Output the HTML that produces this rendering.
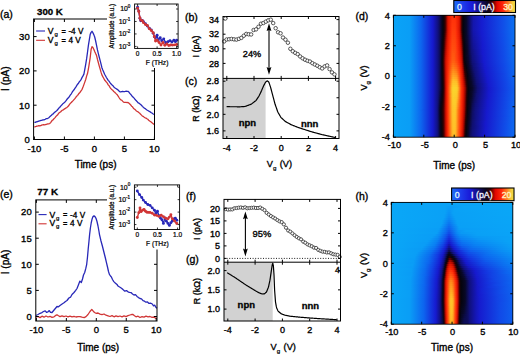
<!DOCTYPE html>
<html><head><meta charset="utf-8"><style>
html,body{margin:0;padding:0;background:#fff;width:520px;height:354px;overflow:hidden}
svg{display:block}
text{font-family:"Liberation Sans", sans-serif}
</style></head><body>
<svg width="520" height="354" viewBox="0 0 520 354" font-family='"Liberation Sans", sans-serif'>
<defs><linearGradient id="g1"><stop offset="0.0000" stop-color="#0aa3f7"/><stop offset="0.1333" stop-color="#0a9ef6"/><stop offset="0.2250" stop-color="#0d67ef"/><stop offset="0.3083" stop-color="#1524d5"/><stop offset="0.3250" stop-color="#1619cc"/><stop offset="0.3667" stop-color="#10107c"/><stop offset="0.3833" stop-color="#0c0c4f"/><stop offset="0.3917" stop-color="#090931"/><stop offset="0.4083" stop-color="#05040f"/><stop offset="0.4250" stop-color="#320000"/><stop offset="0.4333" stop-color="#6c0300"/><stop offset="0.4417" stop-color="#b60b00"/><stop offset="0.4500" stop-color="#e11600"/><stop offset="0.4833" stop-color="#ff310a"/><stop offset="0.5083" stop-color="#ff300a"/><stop offset="0.5333" stop-color="#e71b02"/><stop offset="0.5417" stop-color="#d81400"/><stop offset="0.5500" stop-color="#ad0800"/><stop offset="0.5583" stop-color="#590200"/><stop offset="0.5667" stop-color="#1f0205"/><stop offset="0.5750" stop-color="#05040f"/><stop offset="0.6000" stop-color="#080828"/><stop offset="0.6417" stop-color="#11128b"/><stop offset="0.6583" stop-color="#1416ad"/><stop offset="0.7250" stop-color="#161ccf"/><stop offset="0.9000" stop-color="#114ee8"/><stop offset="0.9917" stop-color="#0c6ef0"/><stop offset="1.0000" stop-color="#0c70f0"/></linearGradient><linearGradient id="g2"><stop offset="0.0000" stop-color="#0aa3f7"/><stop offset="0.1333" stop-color="#0a9ef6"/><stop offset="0.2250" stop-color="#0d67ef"/><stop offset="0.3083" stop-color="#1524d5"/><stop offset="0.3250" stop-color="#1619cc"/><stop offset="0.3667" stop-color="#10107c"/><stop offset="0.3833" stop-color="#0c0c4f"/><stop offset="0.3917" stop-color="#090931"/><stop offset="0.4083" stop-color="#05040f"/><stop offset="0.4250" stop-color="#320000"/><stop offset="0.4333" stop-color="#6c0300"/><stop offset="0.4417" stop-color="#b60b00"/><stop offset="0.4500" stop-color="#e11600"/><stop offset="0.4833" stop-color="#ff320a"/><stop offset="0.5083" stop-color="#ff310a"/><stop offset="0.5333" stop-color="#e71c02"/><stop offset="0.5417" stop-color="#d81400"/><stop offset="0.5500" stop-color="#ad0800"/><stop offset="0.5583" stop-color="#590200"/><stop offset="0.5667" stop-color="#1f0205"/><stop offset="0.5750" stop-color="#05040f"/><stop offset="0.6000" stop-color="#080828"/><stop offset="0.6417" stop-color="#11128b"/><stop offset="0.6583" stop-color="#1416ad"/><stop offset="0.7250" stop-color="#161ccf"/><stop offset="0.9000" stop-color="#114ee8"/><stop offset="0.9917" stop-color="#0c6ef0"/><stop offset="1.0000" stop-color="#0c70f0"/></linearGradient><linearGradient id="g3"><stop offset="0.0000" stop-color="#0aa3f7"/><stop offset="0.1333" stop-color="#0a9ef6"/><stop offset="0.2250" stop-color="#0d67ef"/><stop offset="0.3083" stop-color="#1524d5"/><stop offset="0.3250" stop-color="#1619cc"/><stop offset="0.3667" stop-color="#10107c"/><stop offset="0.3833" stop-color="#0c0c4f"/><stop offset="0.3917" stop-color="#090931"/><stop offset="0.4083" stop-color="#05040f"/><stop offset="0.4250" stop-color="#320000"/><stop offset="0.4333" stop-color="#6c0300"/><stop offset="0.4417" stop-color="#b60b00"/><stop offset="0.4500" stop-color="#e11600"/><stop offset="0.4833" stop-color="#ff340b"/><stop offset="0.5083" stop-color="#ff330a"/><stop offset="0.5333" stop-color="#e81c02"/><stop offset="0.5417" stop-color="#d81400"/><stop offset="0.5500" stop-color="#ad0800"/><stop offset="0.5583" stop-color="#590200"/><stop offset="0.5667" stop-color="#1f0205"/><stop offset="0.5750" stop-color="#05040f"/><stop offset="0.6000" stop-color="#080828"/><stop offset="0.6417" stop-color="#11128b"/><stop offset="0.6583" stop-color="#1416ad"/><stop offset="0.7250" stop-color="#161ccf"/><stop offset="0.9000" stop-color="#114ee8"/><stop offset="0.9917" stop-color="#0c6ef0"/><stop offset="1.0000" stop-color="#0c70f0"/></linearGradient><linearGradient id="g4"><stop offset="0.0000" stop-color="#0aa3f7"/><stop offset="0.1333" stop-color="#0a9ef6"/><stop offset="0.2250" stop-color="#0d67ef"/><stop offset="0.3083" stop-color="#1524d5"/><stop offset="0.3250" stop-color="#1619cc"/><stop offset="0.3667" stop-color="#10107c"/><stop offset="0.3833" stop-color="#0c0c4f"/><stop offset="0.3917" stop-color="#090931"/><stop offset="0.4083" stop-color="#05040f"/><stop offset="0.4250" stop-color="#320000"/><stop offset="0.4333" stop-color="#6c0300"/><stop offset="0.4417" stop-color="#b60b00"/><stop offset="0.4500" stop-color="#e11600"/><stop offset="0.4833" stop-color="#ff350b"/><stop offset="0.5083" stop-color="#ff340b"/><stop offset="0.5333" stop-color="#e81c02"/><stop offset="0.5417" stop-color="#d81400"/><stop offset="0.5500" stop-color="#ad0800"/><stop offset="0.5583" stop-color="#590200"/><stop offset="0.5667" stop-color="#1f0205"/><stop offset="0.5750" stop-color="#05040f"/><stop offset="0.6000" stop-color="#080828"/><stop offset="0.6417" stop-color="#11128b"/><stop offset="0.6583" stop-color="#1416ad"/><stop offset="0.7250" stop-color="#161ccf"/><stop offset="0.9000" stop-color="#114ee8"/><stop offset="0.9917" stop-color="#0c6ef0"/><stop offset="1.0000" stop-color="#0c70f0"/></linearGradient><linearGradient id="g5"><stop offset="0.0000" stop-color="#0aa3f7"/><stop offset="0.1333" stop-color="#0a9ef6"/><stop offset="0.2250" stop-color="#0d67ef"/><stop offset="0.3083" stop-color="#1524d5"/><stop offset="0.3250" stop-color="#1619cc"/><stop offset="0.3667" stop-color="#10107c"/><stop offset="0.3833" stop-color="#0c0c4f"/><stop offset="0.3917" stop-color="#090931"/><stop offset="0.4083" stop-color="#05040f"/><stop offset="0.4250" stop-color="#320000"/><stop offset="0.4333" stop-color="#6c0300"/><stop offset="0.4417" stop-color="#b60b00"/><stop offset="0.4500" stop-color="#e11600"/><stop offset="0.4750" stop-color="#fc2d09"/><stop offset="0.4833" stop-color="#ff370b"/><stop offset="0.5083" stop-color="#ff360b"/><stop offset="0.5333" stop-color="#e81c02"/><stop offset="0.5417" stop-color="#d81400"/><stop offset="0.5500" stop-color="#ad0800"/><stop offset="0.5583" stop-color="#590200"/><stop offset="0.5667" stop-color="#1f0205"/><stop offset="0.5750" stop-color="#05040f"/><stop offset="0.6000" stop-color="#080828"/><stop offset="0.6417" stop-color="#11128b"/><stop offset="0.6583" stop-color="#1416ad"/><stop offset="0.7250" stop-color="#161ccf"/><stop offset="0.9000" stop-color="#114ee8"/><stop offset="0.9917" stop-color="#0c6ef0"/><stop offset="1.0000" stop-color="#0c70f0"/></linearGradient><linearGradient id="g6"><stop offset="0.0000" stop-color="#0aa3f7"/><stop offset="0.1333" stop-color="#0a9ef6"/><stop offset="0.2250" stop-color="#0d67ef"/><stop offset="0.3083" stop-color="#1524d5"/><stop offset="0.3250" stop-color="#1619cc"/><stop offset="0.3667" stop-color="#10107c"/><stop offset="0.3833" stop-color="#0c0c4f"/><stop offset="0.3917" stop-color="#090931"/><stop offset="0.4083" stop-color="#05040f"/><stop offset="0.4250" stop-color="#320000"/><stop offset="0.4333" stop-color="#6c0300"/><stop offset="0.4417" stop-color="#b60b00"/><stop offset="0.4500" stop-color="#e11600"/><stop offset="0.4750" stop-color="#fd2e09"/><stop offset="0.4833" stop-color="#ff390b"/><stop offset="0.5083" stop-color="#ff370b"/><stop offset="0.5333" stop-color="#e81c02"/><stop offset="0.5417" stop-color="#d81400"/><stop offset="0.5500" stop-color="#ad0800"/><stop offset="0.5583" stop-color="#590200"/><stop offset="0.5667" stop-color="#1f0205"/><stop offset="0.5750" stop-color="#05040f"/><stop offset="0.6000" stop-color="#080828"/><stop offset="0.6417" stop-color="#11128b"/><stop offset="0.6583" stop-color="#1416ad"/><stop offset="0.7250" stop-color="#161ccf"/><stop offset="0.9000" stop-color="#114ee8"/><stop offset="0.9917" stop-color="#0c6ef0"/><stop offset="1.0000" stop-color="#0c70f0"/></linearGradient><linearGradient id="g7"><stop offset="0.0000" stop-color="#0aa3f7"/><stop offset="0.1333" stop-color="#0a9ef6"/><stop offset="0.2250" stop-color="#0d67ef"/><stop offset="0.3083" stop-color="#1524d5"/><stop offset="0.3250" stop-color="#1619cc"/><stop offset="0.3667" stop-color="#10107c"/><stop offset="0.3833" stop-color="#0c0c4f"/><stop offset="0.3917" stop-color="#090931"/><stop offset="0.4083" stop-color="#05040f"/><stop offset="0.4250" stop-color="#320000"/><stop offset="0.4333" stop-color="#6c0300"/><stop offset="0.4417" stop-color="#b60b00"/><stop offset="0.4500" stop-color="#e11600"/><stop offset="0.4750" stop-color="#fe2f0a"/><stop offset="0.4833" stop-color="#ff3a0c"/><stop offset="0.5083" stop-color="#ff390b"/><stop offset="0.5250" stop-color="#f22506"/><stop offset="0.5417" stop-color="#d81400"/><stop offset="0.5500" stop-color="#ad0800"/><stop offset="0.5583" stop-color="#590200"/><stop offset="0.5667" stop-color="#1f0205"/><stop offset="0.5750" stop-color="#05040f"/><stop offset="0.6000" stop-color="#080828"/><stop offset="0.6417" stop-color="#11128b"/><stop offset="0.6583" stop-color="#1416ad"/><stop offset="0.7250" stop-color="#161ccf"/><stop offset="0.9000" stop-color="#114ee8"/><stop offset="0.9917" stop-color="#0c6ef0"/><stop offset="1.0000" stop-color="#0c70f0"/></linearGradient><linearGradient id="g8"><stop offset="0.0000" stop-color="#0aa3f7"/><stop offset="0.1333" stop-color="#0a9ef6"/><stop offset="0.2250" stop-color="#0d67ef"/><stop offset="0.3083" stop-color="#1524d5"/><stop offset="0.3250" stop-color="#1619cc"/><stop offset="0.3667" stop-color="#10107c"/><stop offset="0.3833" stop-color="#0c0c4f"/><stop offset="0.3917" stop-color="#090931"/><stop offset="0.4083" stop-color="#05040f"/><stop offset="0.4250" stop-color="#320000"/><stop offset="0.4333" stop-color="#6c0300"/><stop offset="0.4417" stop-color="#b60b00"/><stop offset="0.4500" stop-color="#e11600"/><stop offset="0.4750" stop-color="#fe300a"/><stop offset="0.4833" stop-color="#ff3c0c"/><stop offset="0.5083" stop-color="#ff3b0c"/><stop offset="0.5250" stop-color="#f32506"/><stop offset="0.5417" stop-color="#d81400"/><stop offset="0.5500" stop-color="#ad0800"/><stop offset="0.5583" stop-color="#590200"/><stop offset="0.5667" stop-color="#1f0205"/><stop offset="0.5750" stop-color="#05040f"/><stop offset="0.6000" stop-color="#080828"/><stop offset="0.6417" stop-color="#11128b"/><stop offset="0.6583" stop-color="#1416ad"/><stop offset="0.7250" stop-color="#161ccf"/><stop offset="0.9000" stop-color="#114ee8"/><stop offset="0.9917" stop-color="#0c6ef0"/><stop offset="1.0000" stop-color="#0c70f0"/></linearGradient><linearGradient id="g9"><stop offset="0.0000" stop-color="#0aa3f7"/><stop offset="0.1333" stop-color="#0a9ef6"/><stop offset="0.2250" stop-color="#0d67ef"/><stop offset="0.3083" stop-color="#1524d5"/><stop offset="0.3250" stop-color="#1619cc"/><stop offset="0.3667" stop-color="#10107c"/><stop offset="0.3833" stop-color="#0c0c4f"/><stop offset="0.3917" stop-color="#090931"/><stop offset="0.4083" stop-color="#05040e"/><stop offset="0.4167" stop-color="#1b0206"/><stop offset="0.4250" stop-color="#390000"/><stop offset="0.4333" stop-color="#750300"/><stop offset="0.4417" stop-color="#b90c00"/><stop offset="0.4500" stop-color="#e21700"/><stop offset="0.4750" stop-color="#ff310a"/><stop offset="0.4833" stop-color="#ff3e0c"/><stop offset="0.5083" stop-color="#ff3c0c"/><stop offset="0.5167" stop-color="#fe2f0a"/><stop offset="0.5417" stop-color="#dc1500"/><stop offset="0.5500" stop-color="#b10900"/><stop offset="0.5583" stop-color="#630200"/><stop offset="0.5667" stop-color="#230104"/><stop offset="0.5750" stop-color="#05040c"/><stop offset="0.6000" stop-color="#080827"/><stop offset="0.6417" stop-color="#11128a"/><stop offset="0.6583" stop-color="#1415ab"/><stop offset="0.7250" stop-color="#161bcf"/><stop offset="0.9083" stop-color="#1051e9"/><stop offset="0.9917" stop-color="#0c6ef0"/><stop offset="1.0000" stop-color="#0c6ff0"/></linearGradient><linearGradient id="g10"><stop offset="0.0000" stop-color="#0aa3f7"/><stop offset="0.1333" stop-color="#0a9ef6"/><stop offset="0.2250" stop-color="#0d67ef"/><stop offset="0.3083" stop-color="#1524d5"/><stop offset="0.3250" stop-color="#1619cc"/><stop offset="0.3667" stop-color="#10107c"/><stop offset="0.3833" stop-color="#0c0c4f"/><stop offset="0.3917" stop-color="#090930"/><stop offset="0.4083" stop-color="#05040c"/><stop offset="0.4167" stop-color="#1e0205"/><stop offset="0.4250" stop-color="#420100"/><stop offset="0.4417" stop-color="#be0d00"/><stop offset="0.4500" stop-color="#e31801"/><stop offset="0.4750" stop-color="#ff330a"/><stop offset="0.4833" stop-color="#ff400d"/><stop offset="0.5083" stop-color="#ff3e0c"/><stop offset="0.5167" stop-color="#ff300a"/><stop offset="0.5417" stop-color="#e01600"/><stop offset="0.5500" stop-color="#b60b00"/><stop offset="0.5667" stop-color="#280103"/><stop offset="0.5750" stop-color="#08040b"/><stop offset="0.6000" stop-color="#080826"/><stop offset="0.6417" stop-color="#111288"/><stop offset="0.6583" stop-color="#1315a8"/><stop offset="0.7250" stop-color="#161bce"/><stop offset="0.9000" stop-color="#114de8"/><stop offset="0.9917" stop-color="#0c6df0"/><stop offset="1.0000" stop-color="#0c6ff0"/></linearGradient><linearGradient id="g11"><stop offset="0.0000" stop-color="#0aa3f7"/><stop offset="0.1333" stop-color="#0a9ef6"/><stop offset="0.2250" stop-color="#0d67ef"/><stop offset="0.3083" stop-color="#1524d5"/><stop offset="0.3250" stop-color="#1619cc"/><stop offset="0.3667" stop-color="#10107c"/><stop offset="0.3833" stop-color="#0c0c4f"/><stop offset="0.3917" stop-color="#09092f"/><stop offset="0.4083" stop-color="#08040b"/><stop offset="0.4167" stop-color="#210104"/><stop offset="0.4250" stop-color="#4c0100"/><stop offset="0.4333" stop-color="#8e0400"/><stop offset="0.4417" stop-color="#c20e00"/><stop offset="0.4500" stop-color="#e51901"/><stop offset="0.4750" stop-color="#ff350b"/><stop offset="0.4833" stop-color="#ff420d"/><stop offset="0.5083" stop-color="#ff400d"/><stop offset="0.5167" stop-color="#ff320a"/><stop offset="0.5417" stop-color="#e21700"/><stop offset="0.5500" stop-color="#bb0c00"/><stop offset="0.5583" stop-color="#7f0300"/><stop offset="0.5667" stop-color="#2e0001"/><stop offset="0.5750" stop-color="#0c030a"/><stop offset="0.5917" stop-color="#07061d"/><stop offset="0.6083" stop-color="#090936"/><stop offset="0.6417" stop-color="#111186"/><stop offset="0.6583" stop-color="#1315a5"/><stop offset="0.7333" stop-color="#161dd0"/><stop offset="0.9000" stop-color="#114de8"/><stop offset="0.9917" stop-color="#0c6df0"/><stop offset="1.0000" stop-color="#0c6ff0"/></linearGradient><linearGradient id="g12"><stop offset="0.0000" stop-color="#0aa3f7"/><stop offset="0.1333" stop-color="#0a9ef6"/><stop offset="0.2250" stop-color="#0d67ef"/><stop offset="0.3083" stop-color="#1524d5"/><stop offset="0.3250" stop-color="#1619cc"/><stop offset="0.3667" stop-color="#10107c"/><stop offset="0.3833" stop-color="#0c0c4f"/><stop offset="0.3917" stop-color="#09092e"/><stop offset="0.4083" stop-color="#0a040b"/><stop offset="0.4167" stop-color="#240104"/><stop offset="0.4250" stop-color="#550200"/><stop offset="0.4333" stop-color="#9a0500"/><stop offset="0.4417" stop-color="#c70f00"/><stop offset="0.4500" stop-color="#e61a02"/><stop offset="0.4750" stop-color="#ff370b"/><stop offset="0.4833" stop-color="#ff440d"/><stop offset="0.5083" stop-color="#ff420d"/><stop offset="0.5250" stop-color="#f82a08"/><stop offset="0.5417" stop-color="#e41801"/><stop offset="0.5500" stop-color="#c00d00"/><stop offset="0.5583" stop-color="#8c0400"/><stop offset="0.5667" stop-color="#340000"/><stop offset="0.5750" stop-color="#100309"/><stop offset="0.5833" stop-color="#060513"/><stop offset="0.6083" stop-color="#090934"/><stop offset="0.6417" stop-color="#111184"/><stop offset="0.6583" stop-color="#1314a2"/><stop offset="0.7333" stop-color="#161ccf"/><stop offset="0.9083" stop-color="#104fe9"/><stop offset="0.9917" stop-color="#0c6df0"/><stop offset="1.0000" stop-color="#0c6ef0"/></linearGradient><linearGradient id="g13"><stop offset="0.0000" stop-color="#0aa3f7"/><stop offset="0.1333" stop-color="#0a9ef6"/><stop offset="0.2250" stop-color="#0d67ef"/><stop offset="0.3083" stop-color="#1524d5"/><stop offset="0.3250" stop-color="#1619cc"/><stop offset="0.3667" stop-color="#10107c"/><stop offset="0.3833" stop-color="#0c0c4f"/><stop offset="0.3917" stop-color="#09092d"/><stop offset="0.4000" stop-color="#060618"/><stop offset="0.4083" stop-color="#0d030a"/><stop offset="0.4167" stop-color="#270103"/><stop offset="0.4250" stop-color="#5f0200"/><stop offset="0.4333" stop-color="#a30600"/><stop offset="0.4417" stop-color="#cc1000"/><stop offset="0.4500" stop-color="#e71b02"/><stop offset="0.4667" stop-color="#fc2d09"/><stop offset="0.4833" stop-color="#ff460e"/><stop offset="0.5083" stop-color="#ff440d"/><stop offset="0.5250" stop-color="#fa2c08"/><stop offset="0.5417" stop-color="#e51a01"/><stop offset="0.5500" stop-color="#c60f00"/><stop offset="0.5583" stop-color="#9a0500"/><stop offset="0.5667" stop-color="#3f0100"/><stop offset="0.5750" stop-color="#130308"/><stop offset="0.5833" stop-color="#060512"/><stop offset="0.6083" stop-color="#090932"/><stop offset="0.6417" stop-color="#111182"/><stop offset="0.6583" stop-color="#13149f"/><stop offset="0.7333" stop-color="#161ccf"/><stop offset="0.9083" stop-color="#104fe9"/><stop offset="0.9917" stop-color="#0c6cf0"/><stop offset="1.0000" stop-color="#0c6ef0"/></linearGradient><linearGradient id="g14"><stop offset="0.0000" stop-color="#0aa3f7"/><stop offset="0.1333" stop-color="#0a9ef6"/><stop offset="0.2250" stop-color="#0d67ef"/><stop offset="0.3083" stop-color="#1524d5"/><stop offset="0.3250" stop-color="#1619cc"/><stop offset="0.3667" stop-color="#10107c"/><stop offset="0.3833" stop-color="#0c0c4f"/><stop offset="0.3917" stop-color="#08082c"/><stop offset="0.4000" stop-color="#060617"/><stop offset="0.4083" stop-color="#0f0309"/><stop offset="0.4167" stop-color="#2a0102"/><stop offset="0.4333" stop-color="#a80700"/><stop offset="0.4417" stop-color="#d01200"/><stop offset="0.4500" stop-color="#e91d03"/><stop offset="0.4667" stop-color="#fd2e09"/><stop offset="0.4833" stop-color="#ff480e"/><stop offset="0.5083" stop-color="#ff450d"/><stop offset="0.5250" stop-color="#fb2d09"/><stop offset="0.5417" stop-color="#e71b02"/><stop offset="0.5500" stop-color="#cb1000"/><stop offset="0.5583" stop-color="#a30600"/><stop offset="0.5667" stop-color="#4a0100"/><stop offset="0.5750" stop-color="#170207"/><stop offset="0.5833" stop-color="#050510"/><stop offset="0.6083" stop-color="#090930"/><stop offset="0.6417" stop-color="#111180"/><stop offset="0.6583" stop-color="#13149c"/><stop offset="0.7333" stop-color="#161bcf"/><stop offset="0.9000" stop-color="#114ce8"/><stop offset="0.9917" stop-color="#0c6cf0"/><stop offset="1.0000" stop-color="#0c6df0"/></linearGradient><linearGradient id="g15"><stop offset="0.0000" stop-color="#0aa3f7"/><stop offset="0.1333" stop-color="#0a9ef6"/><stop offset="0.2250" stop-color="#0d67ef"/><stop offset="0.3083" stop-color="#1524d5"/><stop offset="0.3250" stop-color="#1619cc"/><stop offset="0.3667" stop-color="#10107c"/><stop offset="0.3833" stop-color="#0c0c4f"/><stop offset="0.3917" stop-color="#08082b"/><stop offset="0.4000" stop-color="#060516"/><stop offset="0.4083" stop-color="#110309"/><stop offset="0.4167" stop-color="#2d0001"/><stop offset="0.4250" stop-color="#720300"/><stop offset="0.4333" stop-color="#ad0800"/><stop offset="0.4417" stop-color="#d51300"/><stop offset="0.4500" stop-color="#ea1e03"/><stop offset="0.4667" stop-color="#ff300a"/><stop offset="0.4833" stop-color="#ff4a0e"/><stop offset="0.5083" stop-color="#ff470e"/><stop offset="0.5250" stop-color="#fd2e09"/><stop offset="0.5417" stop-color="#e81c02"/><stop offset="0.5500" stop-color="#d01200"/><stop offset="0.5583" stop-color="#a90700"/><stop offset="0.5667" stop-color="#550200"/><stop offset="0.5750" stop-color="#1b0206"/><stop offset="0.5833" stop-color="#05040f"/><stop offset="0.6083" stop-color="#09092d"/><stop offset="0.6417" stop-color="#10117e"/><stop offset="0.6583" stop-color="#121399"/><stop offset="0.7333" stop-color="#161bce"/><stop offset="0.9083" stop-color="#114ee9"/><stop offset="0.9917" stop-color="#0c6cf0"/><stop offset="1.0000" stop-color="#0c6df0"/></linearGradient><linearGradient id="g16"><stop offset="0.0000" stop-color="#0aa3f7"/><stop offset="0.1333" stop-color="#0a9ef6"/><stop offset="0.2250" stop-color="#0d67ef"/><stop offset="0.3083" stop-color="#1524d5"/><stop offset="0.3250" stop-color="#1619cc"/><stop offset="0.3667" stop-color="#10107c"/><stop offset="0.3833" stop-color="#0c0c4f"/><stop offset="0.3917" stop-color="#08082a"/><stop offset="0.4000" stop-color="#060515"/><stop offset="0.4083" stop-color="#140308"/><stop offset="0.4167" stop-color="#300000"/><stop offset="0.4250" stop-color="#7c0300"/><stop offset="0.4333" stop-color="#b20a00"/><stop offset="0.4417" stop-color="#da1400"/><stop offset="0.4583" stop-color="#f62807"/><stop offset="0.4667" stop-color="#ff320a"/><stop offset="0.4833" stop-color="#ff4c0f"/><stop offset="0.5083" stop-color="#ff490e"/><stop offset="0.5250" stop-color="#fe2f0a"/><stop offset="0.5417" stop-color="#ea1d03"/><stop offset="0.5500" stop-color="#d51300"/><stop offset="0.5583" stop-color="#af0900"/><stop offset="0.5667" stop-color="#610200"/><stop offset="0.5750" stop-color="#1f0205"/><stop offset="0.5833" stop-color="#05040e"/><stop offset="0.6083" stop-color="#08082b"/><stop offset="0.6417" stop-color="#10107c"/><stop offset="0.6583" stop-color="#121396"/><stop offset="0.7333" stop-color="#161ace"/><stop offset="0.9000" stop-color="#114be7"/><stop offset="0.9917" stop-color="#0d6bf0"/><stop offset="1.0000" stop-color="#0c6df0"/></linearGradient><linearGradient id="g17"><stop offset="0.0000" stop-color="#0aa3f7"/><stop offset="0.1333" stop-color="#0a9ef6"/><stop offset="0.2250" stop-color="#0d67ef"/><stop offset="0.3083" stop-color="#1524d5"/><stop offset="0.3250" stop-color="#1619cc"/><stop offset="0.3667" stop-color="#10107c"/><stop offset="0.3833" stop-color="#0c0c4f"/><stop offset="0.3917" stop-color="#080829"/><stop offset="0.4000" stop-color="#060513"/><stop offset="0.4083" stop-color="#160207"/><stop offset="0.4167" stop-color="#350000"/><stop offset="0.4250" stop-color="#850400"/><stop offset="0.4333" stop-color="#b70b00"/><stop offset="0.4417" stop-color="#de1500"/><stop offset="0.4667" stop-color="#ff340b"/><stop offset="0.4833" stop-color="#ff4e0f"/><stop offset="0.5083" stop-color="#ff4b0e"/><stop offset="0.5250" stop-color="#ff310a"/><stop offset="0.5417" stop-color="#eb1f03"/><stop offset="0.5500" stop-color="#da1400"/><stop offset="0.5583" stop-color="#b40a00"/><stop offset="0.5750" stop-color="#220104"/><stop offset="0.5833" stop-color="#05040d"/><stop offset="0.6083" stop-color="#080829"/><stop offset="0.6417" stop-color="#10107a"/><stop offset="0.6583" stop-color="#121393"/><stop offset="0.7333" stop-color="#161ace"/><stop offset="0.9083" stop-color="#114de8"/><stop offset="0.9833" stop-color="#0d69f0"/><stop offset="1.0000" stop-color="#0c6cf0"/></linearGradient><linearGradient id="g18"><stop offset="0.0000" stop-color="#0aa3f7"/><stop offset="0.1333" stop-color="#0a9ef6"/><stop offset="0.2250" stop-color="#0d67ef"/><stop offset="0.3083" stop-color="#1524d5"/><stop offset="0.3250" stop-color="#1619cc"/><stop offset="0.3667" stop-color="#10107c"/><stop offset="0.3833" stop-color="#0c0c4f"/><stop offset="0.3917" stop-color="#080829"/><stop offset="0.4000" stop-color="#060512"/><stop offset="0.4083" stop-color="#190207"/><stop offset="0.4167" stop-color="#3b0000"/><stop offset="0.4250" stop-color="#8f0400"/><stop offset="0.4417" stop-color="#e21700"/><stop offset="0.4667" stop-color="#ff360b"/><stop offset="0.4833" stop-color="#ff500f"/><stop offset="0.5083" stop-color="#ff4d0f"/><stop offset="0.5250" stop-color="#ff330b"/><stop offset="0.5500" stop-color="#e01600"/><stop offset="0.5583" stop-color="#ba0c00"/><stop offset="0.5667" stop-color="#770300"/><stop offset="0.5750" stop-color="#260103"/><stop offset="0.5833" stop-color="#05040c"/><stop offset="0.6083" stop-color="#080827"/><stop offset="0.6417" stop-color="#101078"/><stop offset="0.6667" stop-color="#121396"/><stop offset="0.7333" stop-color="#1619cd"/><stop offset="0.9083" stop-color="#114de8"/><stop offset="0.9917" stop-color="#0d6af0"/><stop offset="1.0000" stop-color="#0c6cf0"/></linearGradient><linearGradient id="g19"><stop offset="0.0000" stop-color="#0aa3f7"/><stop offset="0.1333" stop-color="#0a9ef6"/><stop offset="0.2250" stop-color="#0d67ef"/><stop offset="0.3083" stop-color="#1524d5"/><stop offset="0.3250" stop-color="#1619cc"/><stop offset="0.3667" stop-color="#10107c"/><stop offset="0.3833" stop-color="#0c0c4f"/><stop offset="0.3917" stop-color="#080828"/><stop offset="0.4000" stop-color="#060511"/><stop offset="0.4083" stop-color="#1b0206"/><stop offset="0.4167" stop-color="#420100"/><stop offset="0.4250" stop-color="#980500"/><stop offset="0.4417" stop-color="#e31801"/><stop offset="0.4583" stop-color="#fa2c08"/><stop offset="0.4833" stop-color="#ff5310"/><stop offset="0.5083" stop-color="#ff4f0f"/><stop offset="0.5333" stop-color="#f92b08"/><stop offset="0.5500" stop-color="#e21700"/><stop offset="0.5583" stop-color="#c00d00"/><stop offset="0.5667" stop-color="#820400"/><stop offset="0.5750" stop-color="#2a0102"/><stop offset="0.5833" stop-color="#07040b"/><stop offset="0.6083" stop-color="#080826"/><stop offset="0.6417" stop-color="#101075"/><stop offset="0.6667" stop-color="#121393"/><stop offset="0.7333" stop-color="#1619cd"/><stop offset="0.9083" stop-color="#114ce8"/><stop offset="0.9833" stop-color="#0d69ef"/><stop offset="1.0000" stop-color="#0c6cf0"/></linearGradient><linearGradient id="g20"><stop offset="0.0000" stop-color="#0aa3f7"/><stop offset="0.1333" stop-color="#0a9ef6"/><stop offset="0.2250" stop-color="#0d67ef"/><stop offset="0.3083" stop-color="#1524d5"/><stop offset="0.3250" stop-color="#1619cc"/><stop offset="0.3667" stop-color="#10107c"/><stop offset="0.3833" stop-color="#0c0c4f"/><stop offset="0.3917" stop-color="#080827"/><stop offset="0.4000" stop-color="#050510"/><stop offset="0.4083" stop-color="#1e0205"/><stop offset="0.4167" stop-color="#480100"/><stop offset="0.4250" stop-color="#a10500"/><stop offset="0.4417" stop-color="#e51901"/><stop offset="0.4583" stop-color="#fc2d09"/><stop offset="0.4833" stop-color="#ff5510"/><stop offset="0.5000" stop-color="#ff5610"/><stop offset="0.5250" stop-color="#ff380b"/><stop offset="0.5500" stop-color="#e41901"/><stop offset="0.5583" stop-color="#c50f00"/><stop offset="0.5667" stop-color="#8d0400"/><stop offset="0.5750" stop-color="#2e0001"/><stop offset="0.5833" stop-color="#09040b"/><stop offset="0.6083" stop-color="#080825"/><stop offset="0.6417" stop-color="#0f0f72"/><stop offset="0.6667" stop-color="#121390"/><stop offset="0.7333" stop-color="#1619cc"/><stop offset="0.9083" stop-color="#114ce8"/><stop offset="0.9917" stop-color="#0d6af0"/><stop offset="1.0000" stop-color="#0d6bf0"/></linearGradient><linearGradient id="g21"><stop offset="0.0000" stop-color="#0aa3f7"/><stop offset="0.1333" stop-color="#0a9ef6"/><stop offset="0.2250" stop-color="#0d67ef"/><stop offset="0.3083" stop-color="#1524d5"/><stop offset="0.3250" stop-color="#1619cc"/><stop offset="0.3667" stop-color="#10107c"/><stop offset="0.3833" stop-color="#0c0c4f"/><stop offset="0.3917" stop-color="#080827"/><stop offset="0.4000" stop-color="#05040f"/><stop offset="0.4083" stop-color="#200205"/><stop offset="0.4167" stop-color="#4e0100"/><stop offset="0.4250" stop-color="#a50600"/><stop offset="0.4333" stop-color="#cc1000"/><stop offset="0.4417" stop-color="#e61a02"/><stop offset="0.4583" stop-color="#fd2e09"/><stop offset="0.4833" stop-color="#ff5710"/><stop offset="0.5000" stop-color="#ff5810"/><stop offset="0.5250" stop-color="#ff3a0c"/><stop offset="0.5417" stop-color="#f12405"/><stop offset="0.5500" stop-color="#e61a02"/><stop offset="0.5583" stop-color="#cb1000"/><stop offset="0.5667" stop-color="#980500"/><stop offset="0.5750" stop-color="#320000"/><stop offset="0.5833" stop-color="#0a040b"/><stop offset="0.6167" stop-color="#090933"/><stop offset="0.6500" stop-color="#10117e"/><stop offset="0.7417" stop-color="#161bce"/><stop offset="0.9083" stop-color="#114be8"/><stop offset="0.9833" stop-color="#0d68ef"/><stop offset="1.0000" stop-color="#0d6bf0"/></linearGradient><linearGradient id="g22"><stop offset="0.0000" stop-color="#0aa3f7"/><stop offset="0.1333" stop-color="#0a9ef6"/><stop offset="0.2250" stop-color="#0d67ef"/><stop offset="0.3083" stop-color="#1524d5"/><stop offset="0.3250" stop-color="#1619cc"/><stop offset="0.3667" stop-color="#10107c"/><stop offset="0.3833" stop-color="#0c0c4f"/><stop offset="0.3917" stop-color="#080827"/><stop offset="0.4000" stop-color="#05040e"/><stop offset="0.4083" stop-color="#220104"/><stop offset="0.4167" stop-color="#550200"/><stop offset="0.4250" stop-color="#a90700"/><stop offset="0.4333" stop-color="#d11200"/><stop offset="0.4417" stop-color="#e81c02"/><stop offset="0.4583" stop-color="#fe300a"/><stop offset="0.4833" stop-color="#ff5911"/><stop offset="0.5000" stop-color="#ff5a11"/><stop offset="0.5250" stop-color="#ff3c0c"/><stop offset="0.5333" stop-color="#fd2e09"/><stop offset="0.5500" stop-color="#e71c02"/><stop offset="0.5583" stop-color="#d11200"/><stop offset="0.5667" stop-color="#a10500"/><stop offset="0.5750" stop-color="#390000"/><stop offset="0.5833" stop-color="#0c030a"/><stop offset="0.6000" stop-color="#07061c"/><stop offset="0.6167" stop-color="#090930"/><stop offset="0.6500" stop-color="#10107c"/><stop offset="0.7417" stop-color="#161ace"/><stop offset="0.9083" stop-color="#114be8"/><stop offset="0.9917" stop-color="#0d69f0"/><stop offset="1.0000" stop-color="#0d6bf0"/></linearGradient><linearGradient id="g23"><stop offset="0.0000" stop-color="#0aa3f7"/><stop offset="0.1333" stop-color="#0a9ef6"/><stop offset="0.2250" stop-color="#0d67ef"/><stop offset="0.3083" stop-color="#1524d5"/><stop offset="0.3250" stop-color="#1619cc"/><stop offset="0.3667" stop-color="#10107c"/><stop offset="0.3833" stop-color="#0c0c4f"/><stop offset="0.3917" stop-color="#080826"/><stop offset="0.4000" stop-color="#05040d"/><stop offset="0.4083" stop-color="#250104"/><stop offset="0.4167" stop-color="#5b0200"/><stop offset="0.4250" stop-color="#ac0800"/><stop offset="0.4333" stop-color="#d61300"/><stop offset="0.4500" stop-color="#f52707"/><stop offset="0.4583" stop-color="#ff310a"/><stop offset="0.4833" stop-color="#ff5b11"/><stop offset="0.5000" stop-color="#ff5c11"/><stop offset="0.5250" stop-color="#ff3e0c"/><stop offset="0.5333" stop-color="#ff300a"/><stop offset="0.5500" stop-color="#e91d03"/><stop offset="0.5583" stop-color="#d61300"/><stop offset="0.5667" stop-color="#a60700"/><stop offset="0.5750" stop-color="#410100"/><stop offset="0.5833" stop-color="#0d030a"/><stop offset="0.6000" stop-color="#07061b"/><stop offset="0.6167" stop-color="#09092e"/><stop offset="0.6500" stop-color="#101079"/><stop offset="0.7167" stop-color="#1417b7"/><stop offset="0.7417" stop-color="#161ace"/><stop offset="0.9000" stop-color="#1248e6"/><stop offset="0.9917" stop-color="#0d69ef"/><stop offset="1.0000" stop-color="#0d6af0"/></linearGradient><linearGradient id="g24"><stop offset="0.0000" stop-color="#0aa3f7"/><stop offset="0.1333" stop-color="#0a9ef6"/><stop offset="0.2250" stop-color="#0d67ef"/><stop offset="0.3083" stop-color="#1524d5"/><stop offset="0.3250" stop-color="#1619cc"/><stop offset="0.3667" stop-color="#10107c"/><stop offset="0.3833" stop-color="#0c0c4f"/><stop offset="0.3917" stop-color="#080826"/><stop offset="0.4000" stop-color="#05040c"/><stop offset="0.4083" stop-color="#250103"/><stop offset="0.4167" stop-color="#5d0200"/><stop offset="0.4250" stop-color="#ae0900"/><stop offset="0.4333" stop-color="#d81400"/><stop offset="0.4500" stop-color="#f62807"/><stop offset="0.4583" stop-color="#ff340b"/><stop offset="0.4833" stop-color="#ff5f12"/><stop offset="0.5000" stop-color="#ff6112"/><stop offset="0.5250" stop-color="#ff440d"/><stop offset="0.5417" stop-color="#f72907"/><stop offset="0.5583" stop-color="#dd1500"/><stop offset="0.5667" stop-color="#ac0800"/><stop offset="0.5750" stop-color="#4e0100"/><stop offset="0.5833" stop-color="#120308"/><stop offset="0.5917" stop-color="#050510"/><stop offset="0.6167" stop-color="#08082a"/><stop offset="0.6500" stop-color="#101075"/><stop offset="0.7417" stop-color="#1619cd"/><stop offset="0.9167" stop-color="#114de8"/><stop offset="0.9917" stop-color="#0d68ef"/><stop offset="1.0000" stop-color="#0d6af0"/></linearGradient><linearGradient id="g25"><stop offset="0.0000" stop-color="#0aa3f7"/><stop offset="0.1333" stop-color="#0a9ef6"/><stop offset="0.2250" stop-color="#0d67ef"/><stop offset="0.3083" stop-color="#1524d5"/><stop offset="0.3250" stop-color="#1619cc"/><stop offset="0.3667" stop-color="#10107c"/><stop offset="0.3833" stop-color="#0c0c4f"/><stop offset="0.3917" stop-color="#080827"/><stop offset="0.4000" stop-color="#05040d"/><stop offset="0.4083" stop-color="#240104"/><stop offset="0.4167" stop-color="#5b0200"/><stop offset="0.4250" stop-color="#ad0800"/><stop offset="0.4333" stop-color="#d81400"/><stop offset="0.4500" stop-color="#f72907"/><stop offset="0.4667" stop-color="#ff480e"/><stop offset="0.4833" stop-color="#ff6613"/><stop offset="0.4917" stop-color="#ff6c14"/><stop offset="0.5167" stop-color="#ff5911"/><stop offset="0.5417" stop-color="#fc2e09"/><stop offset="0.5583" stop-color="#e31701"/><stop offset="0.5667" stop-color="#b50a00"/><stop offset="0.5750" stop-color="#610200"/><stop offset="0.5833" stop-color="#1b0206"/><stop offset="0.5917" stop-color="#07040b"/><stop offset="0.6167" stop-color="#080827"/><stop offset="0.6500" stop-color="#0f0f6f"/><stop offset="0.7500" stop-color="#161bce"/><stop offset="0.9083" stop-color="#1149e7"/><stop offset="0.9917" stop-color="#0d67ef"/><stop offset="1.0000" stop-color="#0d69ef"/></linearGradient><linearGradient id="g26"><stop offset="0.0000" stop-color="#0aa3f7"/><stop offset="0.1333" stop-color="#0a9ef6"/><stop offset="0.2250" stop-color="#0d67ef"/><stop offset="0.3083" stop-color="#1524d5"/><stop offset="0.3250" stop-color="#1619cc"/><stop offset="0.3667" stop-color="#10107c"/><stop offset="0.3833" stop-color="#0c0c4f"/><stop offset="0.3917" stop-color="#080827"/><stop offset="0.4000" stop-color="#05040e"/><stop offset="0.4083" stop-color="#230104"/><stop offset="0.4167" stop-color="#580200"/><stop offset="0.4250" stop-color="#ab0800"/><stop offset="0.4333" stop-color="#d81400"/><stop offset="0.4500" stop-color="#f92b08"/><stop offset="0.4750" stop-color="#ff5d11"/><stop offset="0.4833" stop-color="#ff6e14"/><stop offset="0.4917" stop-color="#ff7516"/><stop offset="0.5167" stop-color="#ff6212"/><stop offset="0.5333" stop-color="#ff450d"/><stop offset="0.5417" stop-color="#ff330b"/><stop offset="0.5583" stop-color="#e51a01"/><stop offset="0.5667" stop-color="#bd0d00"/><stop offset="0.5750" stop-color="#740300"/><stop offset="0.5833" stop-color="#240104"/><stop offset="0.5917" stop-color="#0f0309"/><stop offset="0.6000" stop-color="#050510"/><stop offset="0.6250" stop-color="#090933"/><stop offset="0.6583" stop-color="#101077"/><stop offset="0.7500" stop-color="#161acd"/><stop offset="0.9083" stop-color="#1148e7"/><stop offset="0.9917" stop-color="#0d66ef"/><stop offset="1.0000" stop-color="#0d68ef"/></linearGradient><linearGradient id="g27"><stop offset="0.0000" stop-color="#0aa3f7"/><stop offset="0.1333" stop-color="#0a9ef6"/><stop offset="0.2250" stop-color="#0d67ef"/><stop offset="0.3083" stop-color="#1524d5"/><stop offset="0.3250" stop-color="#1619cc"/><stop offset="0.3667" stop-color="#10107c"/><stop offset="0.3833" stop-color="#0c0c4f"/><stop offset="0.3917" stop-color="#080827"/><stop offset="0.4000" stop-color="#05040f"/><stop offset="0.4083" stop-color="#210104"/><stop offset="0.4167" stop-color="#560200"/><stop offset="0.4250" stop-color="#aa0800"/><stop offset="0.4333" stop-color="#d81400"/><stop offset="0.4500" stop-color="#fa2c08"/><stop offset="0.4833" stop-color="#ff7716"/><stop offset="0.4917" stop-color="#ff7f18"/><stop offset="0.5167" stop-color="#ff6c14"/><stop offset="0.5333" stop-color="#ff4e0f"/><stop offset="0.5500" stop-color="#f72907"/><stop offset="0.5583" stop-color="#e81c02"/><stop offset="0.5667" stop-color="#c50f00"/><stop offset="0.5750" stop-color="#870400"/><stop offset="0.5833" stop-color="#2c0102"/><stop offset="0.6000" stop-color="#05040c"/><stop offset="0.6250" stop-color="#09092e"/><stop offset="0.6583" stop-color="#0f0f71"/><stop offset="0.7500" stop-color="#1619cb"/><stop offset="0.9083" stop-color="#1247e6"/><stop offset="0.9917" stop-color="#0d66ef"/><stop offset="1.0000" stop-color="#0d67ef"/></linearGradient><linearGradient id="g28"><stop offset="0.0000" stop-color="#0aa3f7"/><stop offset="0.1333" stop-color="#0a9ef6"/><stop offset="0.2250" stop-color="#0d67ef"/><stop offset="0.3083" stop-color="#1524d5"/><stop offset="0.3250" stop-color="#1619cc"/><stop offset="0.3667" stop-color="#10107c"/><stop offset="0.3833" stop-color="#0c0c4f"/><stop offset="0.3917" stop-color="#080827"/><stop offset="0.4000" stop-color="#050510"/><stop offset="0.4083" stop-color="#200205"/><stop offset="0.4167" stop-color="#530200"/><stop offset="0.4250" stop-color="#a90700"/><stop offset="0.4333" stop-color="#d81400"/><stop offset="0.4500" stop-color="#fc2d09"/><stop offset="0.4833" stop-color="#ff8018"/><stop offset="0.4917" stop-color="#ff891b"/><stop offset="0.5167" stop-color="#ff7716"/><stop offset="0.5417" stop-color="#ff420d"/><stop offset="0.5500" stop-color="#fb2d09"/><stop offset="0.5583" stop-color="#eb1f03"/><stop offset="0.5667" stop-color="#cd1100"/><stop offset="0.5750" stop-color="#9a0500"/><stop offset="0.5833" stop-color="#380000"/><stop offset="0.5917" stop-color="#1d0206"/><stop offset="0.6000" stop-color="#0b040b"/><stop offset="0.6167" stop-color="#070721"/><stop offset="0.6250" stop-color="#080829"/><stop offset="0.6583" stop-color="#0f0f6c"/><stop offset="0.6750" stop-color="#111180"/><stop offset="0.7583" stop-color="#161ace"/><stop offset="0.9167" stop-color="#114ae7"/><stop offset="0.9917" stop-color="#0d65ef"/><stop offset="1.0000" stop-color="#0d66ef"/></linearGradient><linearGradient id="g29"><stop offset="0.0000" stop-color="#0aa3f7"/><stop offset="0.1333" stop-color="#0a9ef6"/><stop offset="0.2250" stop-color="#0d67ef"/><stop offset="0.3083" stop-color="#1524d5"/><stop offset="0.3250" stop-color="#1619cc"/><stop offset="0.3667" stop-color="#10107c"/><stop offset="0.3833" stop-color="#0c0c4f"/><stop offset="0.3917" stop-color="#080828"/><stop offset="0.4000" stop-color="#050510"/><stop offset="0.4083" stop-color="#1f0205"/><stop offset="0.4167" stop-color="#510100"/><stop offset="0.4250" stop-color="#a80700"/><stop offset="0.4333" stop-color="#d71300"/><stop offset="0.4417" stop-color="#ee2104"/><stop offset="0.4500" stop-color="#fd2f09"/><stop offset="0.4833" stop-color="#ff891b"/><stop offset="0.4917" stop-color="#ff931d"/><stop offset="0.5167" stop-color="#ff8319"/><stop offset="0.5333" stop-color="#ff5f12"/><stop offset="0.5500" stop-color="#ff300a"/><stop offset="0.5667" stop-color="#d61300"/><stop offset="0.5750" stop-color="#a50600"/><stop offset="0.5833" stop-color="#4a0100"/><stop offset="0.5917" stop-color="#240104"/><stop offset="0.6000" stop-color="#100309"/><stop offset="0.6083" stop-color="#060512"/><stop offset="0.6333" stop-color="#090935"/><stop offset="0.6667" stop-color="#101074"/><stop offset="0.7583" stop-color="#1619cd"/><stop offset="0.9167" stop-color="#1149e7"/><stop offset="0.9917" stop-color="#0d64ef"/><stop offset="1.0000" stop-color="#0d66ef"/></linearGradient><linearGradient id="g30"><stop offset="0.0000" stop-color="#0aa3f7"/><stop offset="0.1333" stop-color="#0a9ef6"/><stop offset="0.2250" stop-color="#0d67ef"/><stop offset="0.3083" stop-color="#1524d5"/><stop offset="0.3250" stop-color="#1619cc"/><stop offset="0.3667" stop-color="#10107c"/><stop offset="0.3833" stop-color="#0c0c4f"/><stop offset="0.3917" stop-color="#080828"/><stop offset="0.4000" stop-color="#060511"/><stop offset="0.4083" stop-color="#1d0206"/><stop offset="0.4167" stop-color="#4e0100"/><stop offset="0.4250" stop-color="#a60700"/><stop offset="0.4333" stop-color="#d71300"/><stop offset="0.4500" stop-color="#ff300a"/><stop offset="0.4833" stop-color="#ff921d"/><stop offset="0.4917" stop-color="#ff9d20"/><stop offset="0.5167" stop-color="#ff8f1c"/><stop offset="0.5250" stop-color="#ff8018"/><stop offset="0.5500" stop-color="#ff360b"/><stop offset="0.5667" stop-color="#de1500"/><stop offset="0.5750" stop-color="#ad0800"/><stop offset="0.5833" stop-color="#5c0200"/><stop offset="0.5917" stop-color="#2c0102"/><stop offset="0.6083" stop-color="#05040f"/><stop offset="0.6333" stop-color="#090930"/><stop offset="0.6750" stop-color="#10107b"/><stop offset="0.7667" stop-color="#161bce"/><stop offset="0.9083" stop-color="#1244e5"/><stop offset="0.9833" stop-color="#0e62ee"/><stop offset="1.0000" stop-color="#0d65ef"/></linearGradient><linearGradient id="g31"><stop offset="0.0000" stop-color="#0aa3f7"/><stop offset="0.1333" stop-color="#0a9ef6"/><stop offset="0.2250" stop-color="#0d67ef"/><stop offset="0.3083" stop-color="#1524d5"/><stop offset="0.3250" stop-color="#1619cc"/><stop offset="0.3667" stop-color="#10107c"/><stop offset="0.3833" stop-color="#0c0c4f"/><stop offset="0.3917" stop-color="#080828"/><stop offset="0.4000" stop-color="#060512"/><stop offset="0.4083" stop-color="#1c0206"/><stop offset="0.4167" stop-color="#4c0100"/><stop offset="0.4250" stop-color="#a50600"/><stop offset="0.4333" stop-color="#d71300"/><stop offset="0.4417" stop-color="#ef2205"/><stop offset="0.4500" stop-color="#ff320a"/><stop offset="0.4833" stop-color="#ff9b1f"/><stop offset="0.4917" stop-color="#ffa722"/><stop offset="0.5167" stop-color="#ff9b1f"/><stop offset="0.5250" stop-color="#ff8c1b"/><stop offset="0.5500" stop-color="#ff3b0c"/><stop offset="0.5667" stop-color="#e31801"/><stop offset="0.5750" stop-color="#b50b00"/><stop offset="0.5833" stop-color="#6f0300"/><stop offset="0.5917" stop-color="#340000"/><stop offset="0.6083" stop-color="#05040c"/><stop offset="0.6250" stop-color="#070722"/><stop offset="0.6333" stop-color="#08082a"/><stop offset="0.6750" stop-color="#101078"/><stop offset="0.7667" stop-color="#161acd"/><stop offset="0.9250" stop-color="#114ae7"/><stop offset="0.9833" stop-color="#0e61ee"/><stop offset="1.0000" stop-color="#0d64ef"/></linearGradient><linearGradient id="g32"><stop offset="0.0000" stop-color="#0aa3f7"/><stop offset="0.1333" stop-color="#0a9ef6"/><stop offset="0.2250" stop-color="#0d67ef"/><stop offset="0.3083" stop-color="#1524d5"/><stop offset="0.3250" stop-color="#1619cc"/><stop offset="0.3667" stop-color="#10107c"/><stop offset="0.3833" stop-color="#0c0c4f"/><stop offset="0.3917" stop-color="#080829"/><stop offset="0.4000" stop-color="#060513"/><stop offset="0.4083" stop-color="#1a0206"/><stop offset="0.4167" stop-color="#490100"/><stop offset="0.4250" stop-color="#a40600"/><stop offset="0.4333" stop-color="#d71300"/><stop offset="0.4417" stop-color="#f02305"/><stop offset="0.4500" stop-color="#ff340b"/><stop offset="0.4750" stop-color="#ff861a"/><stop offset="0.4833" stop-color="#ffa522"/><stop offset="0.4917" stop-color="#ffb125"/><stop offset="0.5167" stop-color="#ffa722"/><stop offset="0.5250" stop-color="#ff981e"/><stop offset="0.5500" stop-color="#ff410d"/><stop offset="0.5583" stop-color="#f62807"/><stop offset="0.5667" stop-color="#e51a01"/><stop offset="0.5750" stop-color="#bd0d00"/><stop offset="0.5917" stop-color="#430100"/><stop offset="0.6000" stop-color="#200205"/><stop offset="0.6083" stop-color="#08040b"/><stop offset="0.6333" stop-color="#080827"/><stop offset="0.6833" stop-color="#10117d"/><stop offset="0.7750" stop-color="#161bcf"/><stop offset="0.9250" stop-color="#1149e7"/><stop offset="0.9917" stop-color="#0e62ee"/><stop offset="1.0000" stop-color="#0d63ef"/></linearGradient><linearGradient id="g33"><stop offset="0.0000" stop-color="#0aa3f7"/><stop offset="0.1333" stop-color="#0a9ef6"/><stop offset="0.2250" stop-color="#0d67ef"/><stop offset="0.3083" stop-color="#1524d5"/><stop offset="0.3250" stop-color="#1619cc"/><stop offset="0.3667" stop-color="#10107c"/><stop offset="0.3833" stop-color="#0c0c4f"/><stop offset="0.3917" stop-color="#08082a"/><stop offset="0.4000" stop-color="#060514"/><stop offset="0.4083" stop-color="#190207"/><stop offset="0.4167" stop-color="#470100"/><stop offset="0.4250" stop-color="#a30600"/><stop offset="0.4333" stop-color="#d71300"/><stop offset="0.4417" stop-color="#f02305"/><stop offset="0.4500" stop-color="#ff360b"/><stop offset="0.4750" stop-color="#ff8e1c"/><stop offset="0.4833" stop-color="#ffae24"/><stop offset="0.4917" stop-color="#ffbc27"/><stop offset="0.5167" stop-color="#ffb325"/><stop offset="0.5250" stop-color="#ffa422"/><stop offset="0.5500" stop-color="#ff460e"/><stop offset="0.5583" stop-color="#f92b08"/><stop offset="0.5667" stop-color="#e81c02"/><stop offset="0.5750" stop-color="#c50f00"/><stop offset="0.5833" stop-color="#930400"/><stop offset="0.5917" stop-color="#520100"/><stop offset="0.6000" stop-color="#260103"/><stop offset="0.6083" stop-color="#0c030a"/><stop offset="0.6250" stop-color="#07061d"/><stop offset="0.6417" stop-color="#090930"/><stop offset="0.6833" stop-color="#10107a"/><stop offset="0.7750" stop-color="#161ace"/><stop offset="0.9250" stop-color="#1148e7"/><stop offset="0.9917" stop-color="#0e61ee"/><stop offset="1.0000" stop-color="#0e62ef"/></linearGradient><linearGradient id="g34"><stop offset="0.0000" stop-color="#0aa3f7"/><stop offset="0.1333" stop-color="#0a9ef6"/><stop offset="0.2250" stop-color="#0d67ef"/><stop offset="0.3083" stop-color="#1524d5"/><stop offset="0.3250" stop-color="#1619cc"/><stop offset="0.3667" stop-color="#10107c"/><stop offset="0.3833" stop-color="#0c0c4f"/><stop offset="0.3917" stop-color="#08082a"/><stop offset="0.4000" stop-color="#060515"/><stop offset="0.4083" stop-color="#180207"/><stop offset="0.4167" stop-color="#440100"/><stop offset="0.4250" stop-color="#a10500"/><stop offset="0.4333" stop-color="#d61300"/><stop offset="0.4417" stop-color="#f12405"/><stop offset="0.4500" stop-color="#ff380b"/><stop offset="0.4667" stop-color="#ff7215"/><stop offset="0.4833" stop-color="#ffb726"/><stop offset="0.4917" stop-color="#fec229"/><stop offset="0.5167" stop-color="#ffbf28"/><stop offset="0.5250" stop-color="#ffb025"/><stop offset="0.5583" stop-color="#fc2d09"/><stop offset="0.5667" stop-color="#eb1f03"/><stop offset="0.5750" stop-color="#cd1100"/><stop offset="0.5833" stop-color="#a20600"/><stop offset="0.5917" stop-color="#610200"/><stop offset="0.6000" stop-color="#2b0102"/><stop offset="0.6083" stop-color="#100309"/><stop offset="0.6167" stop-color="#060514"/><stop offset="0.6417" stop-color="#08082a"/><stop offset="0.6833" stop-color="#101077"/><stop offset="0.7750" stop-color="#1619cd"/><stop offset="0.9250" stop-color="#1247e6"/><stop offset="0.9917" stop-color="#0e60ee"/><stop offset="1.0000" stop-color="#0e62ee"/></linearGradient><linearGradient id="g35"><stop offset="0.0000" stop-color="#0aa3f7"/><stop offset="0.1333" stop-color="#0a9ef6"/><stop offset="0.2250" stop-color="#0d67ef"/><stop offset="0.3083" stop-color="#1524d5"/><stop offset="0.3250" stop-color="#1619cc"/><stop offset="0.3667" stop-color="#10107c"/><stop offset="0.3833" stop-color="#0c0c4f"/><stop offset="0.3917" stop-color="#08082b"/><stop offset="0.4000" stop-color="#060515"/><stop offset="0.4083" stop-color="#160207"/><stop offset="0.4167" stop-color="#420100"/><stop offset="0.4250" stop-color="#a00500"/><stop offset="0.4333" stop-color="#d61300"/><stop offset="0.4417" stop-color="#f22406"/><stop offset="0.4500" stop-color="#ff3a0c"/><stop offset="0.4667" stop-color="#ff7817"/><stop offset="0.4833" stop-color="#ffbf28"/><stop offset="0.4917" stop-color="#fdc82a"/><stop offset="0.5167" stop-color="#fdc52a"/><stop offset="0.5250" stop-color="#ffbc28"/><stop offset="0.5583" stop-color="#ff300a"/><stop offset="0.5750" stop-color="#d51300"/><stop offset="0.5833" stop-color="#aa0800"/><stop offset="0.6000" stop-color="#310000"/><stop offset="0.6083" stop-color="#140308"/><stop offset="0.6167" stop-color="#060512"/><stop offset="0.6417" stop-color="#080827"/><stop offset="0.6833" stop-color="#0f0f72"/><stop offset="0.7833" stop-color="#161bce"/><stop offset="0.9250" stop-color="#1246e6"/><stop offset="0.9917" stop-color="#0e5fee"/><stop offset="1.0000" stop-color="#0e61ee"/></linearGradient><linearGradient id="g36"><stop offset="0.0000" stop-color="#0aa3f7"/><stop offset="0.1333" stop-color="#0a9ef6"/><stop offset="0.2250" stop-color="#0d67ef"/><stop offset="0.3083" stop-color="#1524d5"/><stop offset="0.3250" stop-color="#1619cc"/><stop offset="0.3667" stop-color="#10107c"/><stop offset="0.3833" stop-color="#0c0c4f"/><stop offset="0.3917" stop-color="#08082c"/><stop offset="0.4000" stop-color="#060516"/><stop offset="0.4083" stop-color="#150308"/><stop offset="0.4167" stop-color="#3f0100"/><stop offset="0.4250" stop-color="#9d0500"/><stop offset="0.4333" stop-color="#d61300"/><stop offset="0.4417" stop-color="#f22506"/><stop offset="0.4500" stop-color="#ff3c0c"/><stop offset="0.4833" stop-color="#fec429"/><stop offset="0.4917" stop-color="#fcce2b"/><stop offset="0.5167" stop-color="#fccc2b"/><stop offset="0.5250" stop-color="#fec429"/><stop offset="0.5417" stop-color="#ff8019"/><stop offset="0.5583" stop-color="#ff340b"/><stop offset="0.5750" stop-color="#dc1500"/><stop offset="0.5917" stop-color="#800400"/><stop offset="0.6000" stop-color="#3b0000"/><stop offset="0.6083" stop-color="#180207"/><stop offset="0.6167" stop-color="#050510"/><stop offset="0.6500" stop-color="#09092f"/><stop offset="0.6917" stop-color="#101079"/><stop offset="0.7833" stop-color="#161ace"/><stop offset="0.9333" stop-color="#1149e7"/><stop offset="1.0000" stop-color="#0e60ee"/></linearGradient><linearGradient id="g37"><stop offset="0.0000" stop-color="#0aa3f7"/><stop offset="0.1333" stop-color="#0a9ef6"/><stop offset="0.2250" stop-color="#0d67ef"/><stop offset="0.3083" stop-color="#1524d5"/><stop offset="0.3250" stop-color="#1619cc"/><stop offset="0.3667" stop-color="#10107c"/><stop offset="0.3833" stop-color="#0c0c4f"/><stop offset="0.3917" stop-color="#08082c"/><stop offset="0.4000" stop-color="#060617"/><stop offset="0.4083" stop-color="#140308"/><stop offset="0.4167" stop-color="#3d0100"/><stop offset="0.4250" stop-color="#9a0500"/><stop offset="0.4333" stop-color="#d61300"/><stop offset="0.4417" stop-color="#f32506"/><stop offset="0.4500" stop-color="#ff3f0c"/><stop offset="0.4667" stop-color="#ff8419"/><stop offset="0.4750" stop-color="#ffac23"/><stop offset="0.4833" stop-color="#fcca2b"/><stop offset="0.4917" stop-color="#fad32d"/><stop offset="0.5167" stop-color="#fad32d"/><stop offset="0.5250" stop-color="#fcca2b"/><stop offset="0.5333" stop-color="#ffb025"/><stop offset="0.5583" stop-color="#ff380b"/><stop offset="0.5750" stop-color="#e21700"/><stop offset="0.5917" stop-color="#8f0400"/><stop offset="0.6000" stop-color="#460100"/><stop offset="0.6083" stop-color="#1c0206"/><stop offset="0.6167" stop-color="#05040e"/><stop offset="0.6500" stop-color="#080829"/><stop offset="0.6917" stop-color="#101075"/><stop offset="0.7833" stop-color="#1619cc"/><stop offset="0.9333" stop-color="#1148e7"/><stop offset="1.0000" stop-color="#0e5fee"/></linearGradient><linearGradient id="g38"><stop offset="0.0000" stop-color="#0aa3f7"/><stop offset="0.1333" stop-color="#0a9ef6"/><stop offset="0.2250" stop-color="#0d67ef"/><stop offset="0.3083" stop-color="#1524d5"/><stop offset="0.3250" stop-color="#1619cc"/><stop offset="0.3667" stop-color="#10107b"/><stop offset="0.3833" stop-color="#0b0b4a"/><stop offset="0.3917" stop-color="#080828"/><stop offset="0.4000" stop-color="#060515"/><stop offset="0.4083" stop-color="#160308"/><stop offset="0.4167" stop-color="#3f0100"/><stop offset="0.4250" stop-color="#9d0500"/><stop offset="0.4333" stop-color="#d61300"/><stop offset="0.4417" stop-color="#f32606"/><stop offset="0.4500" stop-color="#ff3f0c"/><stop offset="0.4667" stop-color="#ff841a"/><stop offset="0.4750" stop-color="#ffac24"/><stop offset="0.4833" stop-color="#fcca2b"/><stop offset="0.4917" stop-color="#fad42d"/><stop offset="0.5167" stop-color="#fad22d"/><stop offset="0.5250" stop-color="#fdc92a"/><stop offset="0.5333" stop-color="#ffae24"/><stop offset="0.5583" stop-color="#ff370b"/><stop offset="0.5750" stop-color="#e21700"/><stop offset="0.5917" stop-color="#8f0400"/><stop offset="0.6000" stop-color="#450100"/><stop offset="0.6083" stop-color="#1b0206"/><stop offset="0.6167" stop-color="#05040e"/><stop offset="0.6500" stop-color="#08082c"/><stop offset="0.6917" stop-color="#101078"/><stop offset="0.7833" stop-color="#1619cc"/><stop offset="0.9250" stop-color="#1245e5"/><stop offset="1.0000" stop-color="#0e5fee"/></linearGradient><linearGradient id="g39"><stop offset="0.0000" stop-color="#0aa3f7"/><stop offset="0.1333" stop-color="#0a9ef6"/><stop offset="0.2250" stop-color="#0d67ef"/><stop offset="0.3083" stop-color="#1524d5"/><stop offset="0.3250" stop-color="#1619cc"/><stop offset="0.3667" stop-color="#10107a"/><stop offset="0.3917" stop-color="#080825"/><stop offset="0.4000" stop-color="#060512"/><stop offset="0.4083" stop-color="#180207"/><stop offset="0.4167" stop-color="#420100"/><stop offset="0.4250" stop-color="#a00500"/><stop offset="0.4333" stop-color="#d61300"/><stop offset="0.4417" stop-color="#f32506"/><stop offset="0.4500" stop-color="#ff3f0c"/><stop offset="0.4750" stop-color="#ffab23"/><stop offset="0.4833" stop-color="#fdc92a"/><stop offset="0.4917" stop-color="#fbd22c"/><stop offset="0.5167" stop-color="#fbd02c"/><stop offset="0.5250" stop-color="#fdc62a"/><stop offset="0.5417" stop-color="#ff8219"/><stop offset="0.5583" stop-color="#ff360b"/><stop offset="0.5750" stop-color="#e11600"/><stop offset="0.5917" stop-color="#8a0400"/><stop offset="0.6000" stop-color="#410100"/><stop offset="0.6083" stop-color="#190207"/><stop offset="0.6167" stop-color="#05040f"/><stop offset="0.6500" stop-color="#090931"/><stop offset="0.6917" stop-color="#10107a"/><stop offset="0.7833" stop-color="#1619cd"/><stop offset="0.9333" stop-color="#1149e7"/><stop offset="1.0000" stop-color="#0e60ee"/></linearGradient><linearGradient id="g40"><stop offset="0.0000" stop-color="#0aa3f7"/><stop offset="0.1333" stop-color="#0a9ef6"/><stop offset="0.2250" stop-color="#0d67ef"/><stop offset="0.3083" stop-color="#1524d5"/><stop offset="0.3250" stop-color="#1619cc"/><stop offset="0.3667" stop-color="#101079"/><stop offset="0.3917" stop-color="#070722"/><stop offset="0.4000" stop-color="#050510"/><stop offset="0.4083" stop-color="#1b0206"/><stop offset="0.4167" stop-color="#460100"/><stop offset="0.4250" stop-color="#a20500"/><stop offset="0.4333" stop-color="#d61300"/><stop offset="0.4417" stop-color="#f32506"/><stop offset="0.4500" stop-color="#ff3e0c"/><stop offset="0.4833" stop-color="#fdc82a"/><stop offset="0.4917" stop-color="#fbd12c"/><stop offset="0.5167" stop-color="#fccd2b"/><stop offset="0.5250" stop-color="#fec229"/><stop offset="0.5583" stop-color="#ff350b"/><stop offset="0.5750" stop-color="#e01600"/><stop offset="0.5917" stop-color="#850400"/><stop offset="0.6000" stop-color="#3d0000"/><stop offset="0.6083" stop-color="#170207"/><stop offset="0.6167" stop-color="#050510"/><stop offset="0.6417" stop-color="#080826"/><stop offset="0.6833" stop-color="#101073"/><stop offset="0.7833" stop-color="#161ace"/><stop offset="0.9333" stop-color="#114ae7"/><stop offset="1.0000" stop-color="#0e60ee"/></linearGradient><linearGradient id="g41"><stop offset="0.0000" stop-color="#0aa3f7"/><stop offset="0.1333" stop-color="#0a9ef6"/><stop offset="0.2250" stop-color="#0d67ef"/><stop offset="0.3083" stop-color="#1524d5"/><stop offset="0.3250" stop-color="#1619cc"/><stop offset="0.3667" stop-color="#101078"/><stop offset="0.3833" stop-color="#0a0a38"/><stop offset="0.4000" stop-color="#05040d"/><stop offset="0.4083" stop-color="#1e0205"/><stop offset="0.4167" stop-color="#490100"/><stop offset="0.4250" stop-color="#a30600"/><stop offset="0.4333" stop-color="#d71300"/><stop offset="0.4417" stop-color="#f32506"/><stop offset="0.4500" stop-color="#ff3e0c"/><stop offset="0.4750" stop-color="#ffa822"/><stop offset="0.4833" stop-color="#fdc62a"/><stop offset="0.4917" stop-color="#fbd02c"/><stop offset="0.5167" stop-color="#fccb2b"/><stop offset="0.5250" stop-color="#ffbf28"/><stop offset="0.5583" stop-color="#ff330b"/><stop offset="0.5750" stop-color="#de1500"/><stop offset="0.5833" stop-color="#b50a00"/><stop offset="0.5917" stop-color="#800400"/><stop offset="0.6000" stop-color="#380000"/><stop offset="0.6083" stop-color="#150308"/><stop offset="0.6167" stop-color="#050511"/><stop offset="0.6417" stop-color="#080828"/><stop offset="0.6833" stop-color="#101077"/><stop offset="0.7833" stop-color="#161ace"/><stop offset="0.9333" stop-color="#114ae7"/><stop offset="1.0000" stop-color="#0e61ee"/></linearGradient><linearGradient id="g42"><stop offset="0.0000" stop-color="#0aa3f7"/><stop offset="0.1333" stop-color="#0a9ef6"/><stop offset="0.2250" stop-color="#0d67ef"/><stop offset="0.3083" stop-color="#1524d5"/><stop offset="0.3250" stop-color="#1619cc"/><stop offset="0.3667" stop-color="#101077"/><stop offset="0.3833" stop-color="#090931"/><stop offset="0.4000" stop-color="#07040b"/><stop offset="0.4083" stop-color="#210205"/><stop offset="0.4167" stop-color="#4c0100"/><stop offset="0.4250" stop-color="#a50600"/><stop offset="0.4333" stop-color="#d71300"/><stop offset="0.4417" stop-color="#f32506"/><stop offset="0.4500" stop-color="#ff3e0c"/><stop offset="0.4833" stop-color="#fdc52a"/><stop offset="0.4917" stop-color="#fbce2c"/><stop offset="0.5167" stop-color="#fdc82a"/><stop offset="0.5250" stop-color="#ffb927"/><stop offset="0.5583" stop-color="#ff320a"/><stop offset="0.5750" stop-color="#dc1500"/><stop offset="0.5833" stop-color="#b30a00"/><stop offset="0.5917" stop-color="#7c0300"/><stop offset="0.6000" stop-color="#340000"/><stop offset="0.6083" stop-color="#120308"/><stop offset="0.6167" stop-color="#060511"/><stop offset="0.6417" stop-color="#08082c"/><stop offset="0.6750" stop-color="#0f0f6d"/><stop offset="0.7000" stop-color="#111288"/><stop offset="0.7833" stop-color="#161bce"/><stop offset="0.9333" stop-color="#114be8"/><stop offset="1.0000" stop-color="#0e61ee"/></linearGradient><linearGradient id="g43"><stop offset="0.0000" stop-color="#0aa3f7"/><stop offset="0.1333" stop-color="#0a9ef6"/><stop offset="0.2250" stop-color="#0d67ef"/><stop offset="0.3083" stop-color="#1524d5"/><stop offset="0.3250" stop-color="#1619cc"/><stop offset="0.3667" stop-color="#101075"/><stop offset="0.3833" stop-color="#08082b"/><stop offset="0.4000" stop-color="#0b030a"/><stop offset="0.4083" stop-color="#240104"/><stop offset="0.4167" stop-color="#4f0100"/><stop offset="0.4250" stop-color="#a70700"/><stop offset="0.4333" stop-color="#d71300"/><stop offset="0.4417" stop-color="#f22506"/><stop offset="0.4500" stop-color="#ff3d0c"/><stop offset="0.4833" stop-color="#fec429"/><stop offset="0.4917" stop-color="#fccd2b"/><stop offset="0.5083" stop-color="#fccd2b"/><stop offset="0.5167" stop-color="#fdc52a"/><stop offset="0.5250" stop-color="#ffb225"/><stop offset="0.5500" stop-color="#ff4e0f"/><stop offset="0.5583" stop-color="#ff310a"/><stop offset="0.5750" stop-color="#da1400"/><stop offset="0.5833" stop-color="#b20a00"/><stop offset="0.5917" stop-color="#770300"/><stop offset="0.6000" stop-color="#310000"/><stop offset="0.6083" stop-color="#100309"/><stop offset="0.6167" stop-color="#060512"/><stop offset="0.6417" stop-color="#090931"/><stop offset="0.6667" stop-color="#0e0e62"/><stop offset="0.6917" stop-color="#111183"/><stop offset="0.7750" stop-color="#1619cc"/><stop offset="0.9250" stop-color="#1148e7"/><stop offset="1.0000" stop-color="#0e62ee"/></linearGradient><linearGradient id="g44"><stop offset="0.0000" stop-color="#0aa3f7"/><stop offset="0.1333" stop-color="#0a9ef6"/><stop offset="0.2250" stop-color="#0d67ef"/><stop offset="0.3083" stop-color="#1524d5"/><stop offset="0.3250" stop-color="#1619cc"/><stop offset="0.3583" stop-color="#111289"/><stop offset="0.3667" stop-color="#101073"/><stop offset="0.3833" stop-color="#080827"/><stop offset="0.3917" stop-color="#060516"/><stop offset="0.4000" stop-color="#0e0309"/><stop offset="0.4083" stop-color="#270103"/><stop offset="0.4167" stop-color="#530100"/><stop offset="0.4250" stop-color="#a80700"/><stop offset="0.4333" stop-color="#d81400"/><stop offset="0.4417" stop-color="#f22506"/><stop offset="0.4500" stop-color="#ff3d0c"/><stop offset="0.4833" stop-color="#fec329"/><stop offset="0.4917" stop-color="#fccc2b"/><stop offset="0.5083" stop-color="#fccc2b"/><stop offset="0.5167" stop-color="#fec329"/><stop offset="0.5250" stop-color="#ffac24"/><stop offset="0.5500" stop-color="#ff4b0e"/><stop offset="0.5583" stop-color="#fe300a"/><stop offset="0.5750" stop-color="#d81400"/><stop offset="0.5833" stop-color="#b00900"/><stop offset="0.6000" stop-color="#2f0001"/><stop offset="0.6083" stop-color="#0e030a"/><stop offset="0.6167" stop-color="#060513"/><stop offset="0.6333" stop-color="#080825"/><stop offset="0.6667" stop-color="#0e0e67"/><stop offset="0.6917" stop-color="#111185"/><stop offset="0.7750" stop-color="#1619cd"/><stop offset="0.9333" stop-color="#114ce8"/><stop offset="0.9917" stop-color="#0e61ee"/><stop offset="1.0000" stop-color="#0e62ef"/></linearGradient><linearGradient id="g45"><stop offset="0.0000" stop-color="#0aa3f7"/><stop offset="0.1333" stop-color="#0a9ef6"/><stop offset="0.2250" stop-color="#0d67ef"/><stop offset="0.3083" stop-color="#1524d5"/><stop offset="0.3250" stop-color="#1619cc"/><stop offset="0.3583" stop-color="#11128a"/><stop offset="0.3667" stop-color="#0f0f72"/><stop offset="0.3833" stop-color="#080724"/><stop offset="0.3917" stop-color="#060513"/><stop offset="0.4000" stop-color="#120309"/><stop offset="0.4083" stop-color="#2a0102"/><stop offset="0.4167" stop-color="#560200"/><stop offset="0.4250" stop-color="#aa0800"/><stop offset="0.4333" stop-color="#d81400"/><stop offset="0.4417" stop-color="#f22506"/><stop offset="0.4500" stop-color="#ff3d0c"/><stop offset="0.4833" stop-color="#fec229"/><stop offset="0.4917" stop-color="#fccb2b"/><stop offset="0.5083" stop-color="#fccb2b"/><stop offset="0.5167" stop-color="#ffc028"/><stop offset="0.5333" stop-color="#ff851a"/><stop offset="0.5583" stop-color="#fe2f0a"/><stop offset="0.5750" stop-color="#d61300"/><stop offset="0.5833" stop-color="#af0900"/><stop offset="0.6000" stop-color="#2d0001"/><stop offset="0.6083" stop-color="#0c030a"/><stop offset="0.6250" stop-color="#07061d"/><stop offset="0.6333" stop-color="#080826"/><stop offset="0.6500" stop-color="#0c0c4f"/><stop offset="0.6750" stop-color="#101079"/><stop offset="0.7750" stop-color="#161acd"/><stop offset="0.9250" stop-color="#1149e7"/><stop offset="0.9833" stop-color="#0e60ee"/><stop offset="1.0000" stop-color="#0e63ef"/></linearGradient><linearGradient id="g46"><stop offset="0.0000" stop-color="#0aa3f7"/><stop offset="0.1333" stop-color="#0a9ef6"/><stop offset="0.2250" stop-color="#0d67ef"/><stop offset="0.3083" stop-color="#1524d5"/><stop offset="0.3250" stop-color="#1619cc"/><stop offset="0.3583" stop-color="#111289"/><stop offset="0.3667" stop-color="#0f0f70"/><stop offset="0.3750" stop-color="#0b0b44"/><stop offset="0.3833" stop-color="#070722"/><stop offset="0.3917" stop-color="#050510"/><stop offset="0.4083" stop-color="#2d0001"/><stop offset="0.4167" stop-color="#590200"/><stop offset="0.4250" stop-color="#ab0800"/><stop offset="0.4333" stop-color="#d81400"/><stop offset="0.4417" stop-color="#f22506"/><stop offset="0.4500" stop-color="#ff3d0c"/><stop offset="0.4833" stop-color="#fec129"/><stop offset="0.5000" stop-color="#fcc92b"/><stop offset="0.5083" stop-color="#fcc92b"/><stop offset="0.5167" stop-color="#ffbd28"/><stop offset="0.5500" stop-color="#ff460e"/><stop offset="0.5583" stop-color="#fd2e09"/><stop offset="0.5750" stop-color="#d41200"/><stop offset="0.5833" stop-color="#ad0800"/><stop offset="0.6000" stop-color="#2b0102"/><stop offset="0.6083" stop-color="#0a040b"/><stop offset="0.6333" stop-color="#080827"/><stop offset="0.6500" stop-color="#0c0c54"/><stop offset="0.6750" stop-color="#10107b"/><stop offset="0.7750" stop-color="#161ace"/><stop offset="0.9250" stop-color="#114ae7"/><stop offset="1.0000" stop-color="#0d64ef"/></linearGradient><linearGradient id="g47"><stop offset="0.0000" stop-color="#0aa3f7"/><stop offset="0.1333" stop-color="#0a9ef6"/><stop offset="0.2250" stop-color="#0d67ef"/><stop offset="0.3083" stop-color="#1524d5"/><stop offset="0.3250" stop-color="#1619cc"/><stop offset="0.3583" stop-color="#111289"/><stop offset="0.3667" stop-color="#0f0f6e"/><stop offset="0.3750" stop-color="#0a0a40"/><stop offset="0.3833" stop-color="#07071f"/><stop offset="0.3917" stop-color="#05040d"/><stop offset="0.4083" stop-color="#300001"/><stop offset="0.4167" stop-color="#5c0200"/><stop offset="0.4250" stop-color="#ad0800"/><stop offset="0.4333" stop-color="#d81400"/><stop offset="0.4417" stop-color="#f22506"/><stop offset="0.4500" stop-color="#ff3c0c"/><stop offset="0.4833" stop-color="#ffc028"/><stop offset="0.5000" stop-color="#fdc82a"/><stop offset="0.5083" stop-color="#fdc82a"/><stop offset="0.5167" stop-color="#ffb827"/><stop offset="0.5417" stop-color="#ff5d11"/><stop offset="0.5583" stop-color="#fc2d09"/><stop offset="0.5667" stop-color="#ec1f04"/><stop offset="0.5750" stop-color="#d11200"/><stop offset="0.5833" stop-color="#ac0800"/><stop offset="0.5917" stop-color="#640200"/><stop offset="0.6000" stop-color="#290103"/><stop offset="0.6083" stop-color="#08040b"/><stop offset="0.6333" stop-color="#08082a"/><stop offset="0.6500" stop-color="#0d0d59"/><stop offset="0.6750" stop-color="#10117e"/><stop offset="0.7750" stop-color="#161bce"/><stop offset="0.9250" stop-color="#114ae7"/><stop offset="0.9917" stop-color="#0e63ef"/><stop offset="1.0000" stop-color="#0d64ef"/></linearGradient><linearGradient id="g48"><stop offset="0.0000" stop-color="#0aa3f7"/><stop offset="0.1333" stop-color="#0a9ef6"/><stop offset="0.2167" stop-color="#0c6cf0"/><stop offset="0.3000" stop-color="#152ad9"/><stop offset="0.3250" stop-color="#1619cc"/><stop offset="0.3583" stop-color="#111289"/><stop offset="0.3667" stop-color="#0f0f6d"/><stop offset="0.3750" stop-color="#0a0a3d"/><stop offset="0.3833" stop-color="#07061d"/><stop offset="0.3917" stop-color="#07040c"/><stop offset="0.4083" stop-color="#320000"/><stop offset="0.4167" stop-color="#5f0200"/><stop offset="0.4250" stop-color="#ae0900"/><stop offset="0.4333" stop-color="#d81400"/><stop offset="0.4417" stop-color="#f22506"/><stop offset="0.4500" stop-color="#ff3c0c"/><stop offset="0.4833" stop-color="#ffbf28"/><stop offset="0.5000" stop-color="#fdc72a"/><stop offset="0.5083" stop-color="#fdc72a"/><stop offset="0.5167" stop-color="#ffb425"/><stop offset="0.5333" stop-color="#ff7315"/><stop offset="0.5583" stop-color="#fb2c09"/><stop offset="0.5667" stop-color="#eb1e03"/><stop offset="0.5750" stop-color="#cf1100"/><stop offset="0.5833" stop-color="#aa0800"/><stop offset="0.5917" stop-color="#5f0200"/><stop offset="0.6000" stop-color="#260103"/><stop offset="0.6083" stop-color="#05040c"/><stop offset="0.6333" stop-color="#09092e"/><stop offset="0.6500" stop-color="#0d0d5e"/><stop offset="0.6750" stop-color="#111180"/><stop offset="0.7667" stop-color="#1619cc"/><stop offset="0.9250" stop-color="#114be8"/><stop offset="0.9833" stop-color="#0e61ee"/><stop offset="1.0000" stop-color="#0d65ef"/></linearGradient><linearGradient id="g49"><stop offset="0.0000" stop-color="#0aa3f7"/><stop offset="0.1333" stop-color="#0a9ef6"/><stop offset="0.2250" stop-color="#0d67ef"/><stop offset="0.3083" stop-color="#1524d5"/><stop offset="0.3250" stop-color="#1619cc"/><stop offset="0.3583" stop-color="#111289"/><stop offset="0.3667" stop-color="#0f0f6d"/><stop offset="0.3750" stop-color="#0a0a3e"/><stop offset="0.3833" stop-color="#07071e"/><stop offset="0.3917" stop-color="#06040c"/><stop offset="0.4083" stop-color="#310000"/><stop offset="0.4167" stop-color="#5e0200"/><stop offset="0.4250" stop-color="#ad0800"/><stop offset="0.4333" stop-color="#d71400"/><stop offset="0.4417" stop-color="#f22406"/><stop offset="0.4500" stop-color="#ff3b0c"/><stop offset="0.4833" stop-color="#ffbe28"/><stop offset="0.5000" stop-color="#fdc62a"/><stop offset="0.5083" stop-color="#fdc62a"/><stop offset="0.5167" stop-color="#ffb325"/><stop offset="0.5333" stop-color="#ff7215"/><stop offset="0.5583" stop-color="#fa2b08"/><stop offset="0.5667" stop-color="#e91d03"/><stop offset="0.5750" stop-color="#cc1000"/><stop offset="0.5833" stop-color="#a60700"/><stop offset="0.5917" stop-color="#570200"/><stop offset="0.6000" stop-color="#230104"/><stop offset="0.6083" stop-color="#05040d"/><stop offset="0.6333" stop-color="#090931"/><stop offset="0.6500" stop-color="#0e0e60"/><stop offset="0.6667" stop-color="#10107a"/><stop offset="0.7667" stop-color="#1619cd"/><stop offset="0.9250" stop-color="#114ce8"/><stop offset="0.9917" stop-color="#0d63ef"/><stop offset="1.0000" stop-color="#0d65ef"/></linearGradient><linearGradient id="g50"><stop offset="0.0000" stop-color="#0aa3f7"/><stop offset="0.1333" stop-color="#0a9ef6"/><stop offset="0.2250" stop-color="#0d67ef"/><stop offset="0.3083" stop-color="#1524d5"/><stop offset="0.3250" stop-color="#1619cc"/><stop offset="0.3583" stop-color="#111289"/><stop offset="0.3667" stop-color="#0f0f6e"/><stop offset="0.3750" stop-color="#0a0a40"/><stop offset="0.3833" stop-color="#07071f"/><stop offset="0.3917" stop-color="#05040d"/><stop offset="0.4083" stop-color="#300000"/><stop offset="0.4167" stop-color="#5c0200"/><stop offset="0.4250" stop-color="#ac0800"/><stop offset="0.4333" stop-color="#d71300"/><stop offset="0.4417" stop-color="#f12405"/><stop offset="0.4500" stop-color="#ff3b0c"/><stop offset="0.4833" stop-color="#ffbd28"/><stop offset="0.4917" stop-color="#fdc62a"/><stop offset="0.5083" stop-color="#fdc62a"/><stop offset="0.5167" stop-color="#ffb225"/><stop offset="0.5333" stop-color="#ff7015"/><stop offset="0.5500" stop-color="#ff3e0c"/><stop offset="0.5583" stop-color="#f82a08"/><stop offset="0.5667" stop-color="#e81c02"/><stop offset="0.5833" stop-color="#a30600"/><stop offset="0.5917" stop-color="#4f0100"/><stop offset="0.6000" stop-color="#200205"/><stop offset="0.6083" stop-color="#05040f"/><stop offset="0.6250" stop-color="#080724"/><stop offset="0.6500" stop-color="#0e0e62"/><stop offset="0.6750" stop-color="#111182"/><stop offset="0.7667" stop-color="#161acd"/><stop offset="0.9250" stop-color="#114ce8"/><stop offset="0.9833" stop-color="#0e62ee"/><stop offset="1.0000" stop-color="#0d65ef"/></linearGradient><linearGradient id="g51"><stop offset="0.0000" stop-color="#0aa3f7"/><stop offset="0.1333" stop-color="#0a9ef6"/><stop offset="0.2250" stop-color="#0d67ef"/><stop offset="0.3083" stop-color="#1524d5"/><stop offset="0.3250" stop-color="#1619cc"/><stop offset="0.3583" stop-color="#11128a"/><stop offset="0.3667" stop-color="#0f0f6e"/><stop offset="0.3750" stop-color="#0a0a41"/><stop offset="0.3833" stop-color="#07071f"/><stop offset="0.3917" stop-color="#05040e"/><stop offset="0.4083" stop-color="#2f0001"/><stop offset="0.4167" stop-color="#5b0200"/><stop offset="0.4250" stop-color="#ab0800"/><stop offset="0.4333" stop-color="#d61300"/><stop offset="0.4417" stop-color="#f12405"/><stop offset="0.4500" stop-color="#ff3a0c"/><stop offset="0.4833" stop-color="#ffbc27"/><stop offset="0.4917" stop-color="#fdc52a"/><stop offset="0.5083" stop-color="#fdc52a"/><stop offset="0.5167" stop-color="#ffb025"/><stop offset="0.5333" stop-color="#ff6f14"/><stop offset="0.5500" stop-color="#ff3d0c"/><stop offset="0.5667" stop-color="#e71b02"/><stop offset="0.5833" stop-color="#9e0500"/><stop offset="0.5917" stop-color="#470100"/><stop offset="0.6000" stop-color="#1d0206"/><stop offset="0.6083" stop-color="#050510"/><stop offset="0.6250" stop-color="#080825"/><stop offset="0.6500" stop-color="#0e0e64"/><stop offset="0.6750" stop-color="#111183"/><stop offset="0.7667" stop-color="#161ace"/><stop offset="0.9167" stop-color="#1149e7"/><stop offset="0.9917" stop-color="#0d64ef"/><stop offset="1.0000" stop-color="#0d66ef"/></linearGradient><linearGradient id="g52"><stop offset="0.0000" stop-color="#0aa3f7"/><stop offset="0.1333" stop-color="#0a9ef6"/><stop offset="0.2250" stop-color="#0d67ef"/><stop offset="0.3083" stop-color="#1524d5"/><stop offset="0.3250" stop-color="#1619cc"/><stop offset="0.3583" stop-color="#111289"/><stop offset="0.3667" stop-color="#0f0f6f"/><stop offset="0.3750" stop-color="#0b0b42"/><stop offset="0.3833" stop-color="#070720"/><stop offset="0.3917" stop-color="#05040f"/><stop offset="0.4083" stop-color="#2e0001"/><stop offset="0.4167" stop-color="#5a0200"/><stop offset="0.4250" stop-color="#aa0800"/><stop offset="0.4333" stop-color="#d51300"/><stop offset="0.4417" stop-color="#f02305"/><stop offset="0.4500" stop-color="#ff3a0c"/><stop offset="0.4833" stop-color="#ffbb27"/><stop offset="0.4917" stop-color="#fec429"/><stop offset="0.5083" stop-color="#fec429"/><stop offset="0.5167" stop-color="#ffaf24"/><stop offset="0.5333" stop-color="#ff6e14"/><stop offset="0.5500" stop-color="#ff3c0c"/><stop offset="0.5667" stop-color="#e61a02"/><stop offset="0.5833" stop-color="#950500"/><stop offset="0.5917" stop-color="#3f0100"/><stop offset="0.6000" stop-color="#1a0206"/><stop offset="0.6083" stop-color="#060511"/><stop offset="0.6250" stop-color="#080827"/><stop offset="0.6500" stop-color="#0e0e67"/><stop offset="0.6833" stop-color="#11128c"/><stop offset="0.7667" stop-color="#161ace"/><stop offset="0.9250" stop-color="#114de8"/><stop offset="0.9917" stop-color="#0d65ef"/><stop offset="1.0000" stop-color="#0d66ef"/></linearGradient><linearGradient id="g53"><stop offset="0.0000" stop-color="#0aa3f7"/><stop offset="0.1333" stop-color="#0a9ef6"/><stop offset="0.2250" stop-color="#0d67ef"/><stop offset="0.3083" stop-color="#1524d5"/><stop offset="0.3250" stop-color="#1619cc"/><stop offset="0.3583" stop-color="#111289"/><stop offset="0.3667" stop-color="#0f0f6f"/><stop offset="0.3750" stop-color="#0b0b43"/><stop offset="0.3833" stop-color="#070721"/><stop offset="0.3917" stop-color="#050510"/><stop offset="0.4083" stop-color="#2d0001"/><stop offset="0.4167" stop-color="#580200"/><stop offset="0.4250" stop-color="#a90700"/><stop offset="0.4333" stop-color="#d41300"/><stop offset="0.4417" stop-color="#f02305"/><stop offset="0.4500" stop-color="#ff390b"/><stop offset="0.4833" stop-color="#ffba27"/><stop offset="0.4917" stop-color="#fec429"/><stop offset="0.5083" stop-color="#fec429"/><stop offset="0.5167" stop-color="#ffae24"/><stop offset="0.5333" stop-color="#ff6d14"/><stop offset="0.5500" stop-color="#ff3a0c"/><stop offset="0.5667" stop-color="#e41901"/><stop offset="0.5750" stop-color="#be0d00"/><stop offset="0.5833" stop-color="#8d0400"/><stop offset="0.5917" stop-color="#370000"/><stop offset="0.6000" stop-color="#170207"/><stop offset="0.6083" stop-color="#060513"/><stop offset="0.6250" stop-color="#08082a"/><stop offset="0.6500" stop-color="#0f0f69"/><stop offset="0.6750" stop-color="#111185"/><stop offset="0.7667" stop-color="#161bce"/><stop offset="0.9250" stop-color="#114de8"/><stop offset="0.9833" stop-color="#0d63ef"/><stop offset="1.0000" stop-color="#0d67ef"/></linearGradient><linearGradient id="g54"><stop offset="0.0000" stop-color="#0aa3f7"/><stop offset="0.1333" stop-color="#0a9ef6"/><stop offset="0.2250" stop-color="#0d67ef"/><stop offset="0.3083" stop-color="#1524d5"/><stop offset="0.3250" stop-color="#1619cc"/><stop offset="0.3583" stop-color="#111289"/><stop offset="0.3667" stop-color="#0f0f70"/><stop offset="0.3833" stop-color="#070722"/><stop offset="0.3917" stop-color="#050511"/><stop offset="0.4083" stop-color="#2c0001"/><stop offset="0.4167" stop-color="#570200"/><stop offset="0.4250" stop-color="#a80700"/><stop offset="0.4333" stop-color="#d31200"/><stop offset="0.4417" stop-color="#ef2205"/><stop offset="0.4500" stop-color="#ff390b"/><stop offset="0.4833" stop-color="#ffb927"/><stop offset="0.4917" stop-color="#fec329"/><stop offset="0.5083" stop-color="#fec329"/><stop offset="0.5167" stop-color="#ffad24"/><stop offset="0.5333" stop-color="#ff6c14"/><stop offset="0.5500" stop-color="#ff390b"/><stop offset="0.5667" stop-color="#e31801"/><stop offset="0.5750" stop-color="#ba0c00"/><stop offset="0.5833" stop-color="#840400"/><stop offset="0.5917" stop-color="#310000"/><stop offset="0.6000" stop-color="#130308"/><stop offset="0.6083" stop-color="#060514"/><stop offset="0.6250" stop-color="#09092e"/><stop offset="0.6500" stop-color="#0f0f6b"/><stop offset="0.6750" stop-color="#111287"/><stop offset="0.7583" stop-color="#1619cc"/><stop offset="0.9250" stop-color="#114ee8"/><stop offset="0.9917" stop-color="#0d65ef"/><stop offset="1.0000" stop-color="#0d67ef"/></linearGradient><linearGradient id="g55"><stop offset="0.0000" stop-color="#0aa3f7"/><stop offset="0.1333" stop-color="#0a9ef6"/><stop offset="0.2250" stop-color="#0d67ef"/><stop offset="0.3083" stop-color="#1524d5"/><stop offset="0.3250" stop-color="#1619cc"/><stop offset="0.3583" stop-color="#111289"/><stop offset="0.3667" stop-color="#0f0f71"/><stop offset="0.3833" stop-color="#070723"/><stop offset="0.3917" stop-color="#060512"/><stop offset="0.4000" stop-color="#140308"/><stop offset="0.4083" stop-color="#2c0102"/><stop offset="0.4167" stop-color="#550200"/><stop offset="0.4250" stop-color="#a70700"/><stop offset="0.4333" stop-color="#d21200"/><stop offset="0.4417" stop-color="#ef2205"/><stop offset="0.4500" stop-color="#ff380b"/><stop offset="0.4833" stop-color="#ffb826"/><stop offset="0.4917" stop-color="#fec229"/><stop offset="0.5083" stop-color="#fec229"/><stop offset="0.5167" stop-color="#ffab23"/><stop offset="0.5417" stop-color="#ff510f"/><stop offset="0.5500" stop-color="#ff380b"/><stop offset="0.5667" stop-color="#e21700"/><stop offset="0.5750" stop-color="#b70b00"/><stop offset="0.5833" stop-color="#7b0300"/><stop offset="0.5917" stop-color="#2d0001"/><stop offset="0.6000" stop-color="#100309"/><stop offset="0.6083" stop-color="#060516"/><stop offset="0.6250" stop-color="#090932"/><stop offset="0.6500" stop-color="#0f0f6e"/><stop offset="0.6833" stop-color="#12128f"/><stop offset="0.7583" stop-color="#1619cd"/><stop offset="0.9250" stop-color="#104ee9"/><stop offset="0.9833" stop-color="#0d64ef"/><stop offset="1.0000" stop-color="#0d67ef"/></linearGradient><linearGradient id="g56"><stop offset="0.0000" stop-color="#0aa3f7"/><stop offset="0.1333" stop-color="#0a9ef6"/><stop offset="0.2250" stop-color="#0d67ef"/><stop offset="0.3083" stop-color="#1524d5"/><stop offset="0.3250" stop-color="#1619cc"/><stop offset="0.3583" stop-color="#111289"/><stop offset="0.3667" stop-color="#0f0f71"/><stop offset="0.3833" stop-color="#080723"/><stop offset="0.3917" stop-color="#060512"/><stop offset="0.4000" stop-color="#130308"/><stop offset="0.4083" stop-color="#2b0102"/><stop offset="0.4167" stop-color="#540200"/><stop offset="0.4250" stop-color="#a60700"/><stop offset="0.4333" stop-color="#d11200"/><stop offset="0.4417" stop-color="#ee2204"/><stop offset="0.4500" stop-color="#ff380b"/><stop offset="0.4833" stop-color="#ffb726"/><stop offset="0.4917" stop-color="#fec229"/><stop offset="0.5083" stop-color="#fec229"/><stop offset="0.5167" stop-color="#ffaa23"/><stop offset="0.5417" stop-color="#ff500f"/><stop offset="0.5500" stop-color="#ff360b"/><stop offset="0.5667" stop-color="#e01600"/><stop offset="0.5750" stop-color="#b30a00"/><stop offset="0.5833" stop-color="#720300"/><stop offset="0.5917" stop-color="#290102"/><stop offset="0.6000" stop-color="#0d030a"/><stop offset="0.6083" stop-color="#060617"/><stop offset="0.6250" stop-color="#090936"/><stop offset="0.6500" stop-color="#0f0f70"/><stop offset="0.7583" stop-color="#1619cd"/><stop offset="0.9250" stop-color="#104fe9"/><stop offset="0.9917" stop-color="#0d66ef"/><stop offset="1.0000" stop-color="#0d68ef"/></linearGradient><linearGradient id="g57"><stop offset="0.0000" stop-color="#0aa3f7"/><stop offset="0.1333" stop-color="#0a9ef6"/><stop offset="0.2250" stop-color="#0d67ef"/><stop offset="0.3083" stop-color="#1524d5"/><stop offset="0.3250" stop-color="#1619cc"/><stop offset="0.3583" stop-color="#11128a"/><stop offset="0.3667" stop-color="#0f0f72"/><stop offset="0.3833" stop-color="#080724"/><stop offset="0.3917" stop-color="#060513"/><stop offset="0.4000" stop-color="#120309"/><stop offset="0.4083" stop-color="#2a0102"/><stop offset="0.4167" stop-color="#530100"/><stop offset="0.4250" stop-color="#a50600"/><stop offset="0.4333" stop-color="#d01100"/><stop offset="0.4417" stop-color="#ee2104"/><stop offset="0.4500" stop-color="#ff370b"/><stop offset="0.4833" stop-color="#ffb526"/><stop offset="0.4917" stop-color="#fec129"/><stop offset="0.5083" stop-color="#fec129"/><stop offset="0.5167" stop-color="#ffa923"/><stop offset="0.5417" stop-color="#ff4f0f"/><stop offset="0.5500" stop-color="#ff350b"/><stop offset="0.5667" stop-color="#dd1500"/><stop offset="0.5750" stop-color="#b00900"/><stop offset="0.5917" stop-color="#250103"/><stop offset="0.6000" stop-color="#0a040b"/><stop offset="0.6167" stop-color="#080724"/><stop offset="0.6333" stop-color="#0c0c51"/><stop offset="0.6500" stop-color="#0f0f72"/><stop offset="0.7583" stop-color="#161acd"/><stop offset="0.9250" stop-color="#104fe9"/><stop offset="0.9917" stop-color="#0d67ef"/><stop offset="1.0000" stop-color="#0d68ef"/></linearGradient><linearGradient id="g58"><stop offset="0.0000" stop-color="#0aa3f7"/><stop offset="0.1333" stop-color="#0a9ef6"/><stop offset="0.2250" stop-color="#0d67ef"/><stop offset="0.3083" stop-color="#1524d5"/><stop offset="0.3250" stop-color="#1619cc"/><stop offset="0.3583" stop-color="#111289"/><stop offset="0.3667" stop-color="#0f0f72"/><stop offset="0.3833" stop-color="#080825"/><stop offset="0.3917" stop-color="#060514"/><stop offset="0.4000" stop-color="#110309"/><stop offset="0.4083" stop-color="#290102"/><stop offset="0.4167" stop-color="#510100"/><stop offset="0.4250" stop-color="#a40600"/><stop offset="0.4333" stop-color="#cf1100"/><stop offset="0.4417" stop-color="#ee2104"/><stop offset="0.4500" stop-color="#ff360b"/><stop offset="0.4833" stop-color="#ffb426"/><stop offset="0.4917" stop-color="#fec029"/><stop offset="0.5083" stop-color="#fec029"/><stop offset="0.5167" stop-color="#ffa822"/><stop offset="0.5333" stop-color="#ff6713"/><stop offset="0.5500" stop-color="#ff340b"/><stop offset="0.5667" stop-color="#d91400"/><stop offset="0.5750" stop-color="#ac0800"/><stop offset="0.5833" stop-color="#610200"/><stop offset="0.5917" stop-color="#220104"/><stop offset="0.6000" stop-color="#07040c"/><stop offset="0.6167" stop-color="#080826"/><stop offset="0.6333" stop-color="#0c0c55"/><stop offset="0.6500" stop-color="#101074"/><stop offset="0.7583" stop-color="#161ace"/><stop offset="0.9167" stop-color="#114ce8"/><stop offset="0.9917" stop-color="#0d67ef"/><stop offset="1.0000" stop-color="#0d69ef"/></linearGradient><linearGradient id="g59"><stop offset="0.0000" stop-color="#0aa3f7"/><stop offset="0.1333" stop-color="#0a9ef6"/><stop offset="0.2250" stop-color="#0d67ef"/><stop offset="0.3083" stop-color="#1524d5"/><stop offset="0.3250" stop-color="#1619cc"/><stop offset="0.3583" stop-color="#11128a"/><stop offset="0.3667" stop-color="#0f0f73"/><stop offset="0.3833" stop-color="#080826"/><stop offset="0.3917" stop-color="#060515"/><stop offset="0.4000" stop-color="#100309"/><stop offset="0.4083" stop-color="#280103"/><stop offset="0.4167" stop-color="#500100"/><stop offset="0.4250" stop-color="#a30600"/><stop offset="0.4333" stop-color="#ce1100"/><stop offset="0.4417" stop-color="#ed2104"/><stop offset="0.4500" stop-color="#ff360b"/><stop offset="0.4833" stop-color="#ffb325"/><stop offset="0.4917" stop-color="#ffc028"/><stop offset="0.5083" stop-color="#ffc028"/><stop offset="0.5167" stop-color="#ffa722"/><stop offset="0.5333" stop-color="#ff6613"/><stop offset="0.5500" stop-color="#ff320a"/><stop offset="0.5667" stop-color="#d51300"/><stop offset="0.5750" stop-color="#a90700"/><stop offset="0.5833" stop-color="#580200"/><stop offset="0.5917" stop-color="#1e0205"/><stop offset="0.6000" stop-color="#05040d"/><stop offset="0.6167" stop-color="#080827"/><stop offset="0.6333" stop-color="#0d0d58"/><stop offset="0.6500" stop-color="#101077"/><stop offset="0.7583" stop-color="#161ace"/><stop offset="0.9250" stop-color="#1050e9"/><stop offset="0.9917" stop-color="#0d67ef"/><stop offset="1.0000" stop-color="#0d69f0"/></linearGradient><linearGradient id="g60"><stop offset="0.0000" stop-color="#0aa3f7"/><stop offset="0.1333" stop-color="#0a9ef6"/><stop offset="0.2250" stop-color="#0d67ef"/><stop offset="0.3083" stop-color="#1524d5"/><stop offset="0.3250" stop-color="#1619cc"/><stop offset="0.3583" stop-color="#111289"/><stop offset="0.3667" stop-color="#101073"/><stop offset="0.3833" stop-color="#080827"/><stop offset="0.3917" stop-color="#060516"/><stop offset="0.4000" stop-color="#0e030a"/><stop offset="0.4083" stop-color="#270103"/><stop offset="0.4167" stop-color="#4e0100"/><stop offset="0.4250" stop-color="#a20500"/><stop offset="0.4333" stop-color="#cd1100"/><stop offset="0.4417" stop-color="#ed2004"/><stop offset="0.4500" stop-color="#ff350b"/><stop offset="0.4833" stop-color="#ffb225"/><stop offset="0.4917" stop-color="#ffbf28"/><stop offset="0.5083" stop-color="#ffbf28"/><stop offset="0.5250" stop-color="#ff841a"/><stop offset="0.5500" stop-color="#ff310a"/><stop offset="0.5583" stop-color="#ed2104"/><stop offset="0.5667" stop-color="#d11200"/><stop offset="0.5750" stop-color="#a60600"/><stop offset="0.5833" stop-color="#500100"/><stop offset="0.5917" stop-color="#1a0206"/><stop offset="0.6000" stop-color="#05040f"/><stop offset="0.6167" stop-color="#08082a"/><stop offset="0.6333" stop-color="#0d0d5c"/><stop offset="0.6500" stop-color="#101079"/><stop offset="0.7500" stop-color="#1619cb"/><stop offset="0.9167" stop-color="#114de8"/><stop offset="0.9917" stop-color="#0d68ef"/><stop offset="1.0000" stop-color="#0d69f0"/></linearGradient><linearGradient id="g61"><stop offset="0.0000" stop-color="#0aa3f7"/><stop offset="0.1333" stop-color="#0a9ef6"/><stop offset="0.2250" stop-color="#0d67ef"/><stop offset="0.3083" stop-color="#1524d5"/><stop offset="0.3250" stop-color="#1619cc"/><stop offset="0.3667" stop-color="#101074"/><stop offset="0.3833" stop-color="#080828"/><stop offset="0.3917" stop-color="#060617"/><stop offset="0.4000" stop-color="#0d030a"/><stop offset="0.4083" stop-color="#260103"/><stop offset="0.4167" stop-color="#4d0100"/><stop offset="0.4250" stop-color="#a10500"/><stop offset="0.4333" stop-color="#cc1000"/><stop offset="0.4417" stop-color="#ec2004"/><stop offset="0.4500" stop-color="#ff350b"/><stop offset="0.4833" stop-color="#ffb125"/><stop offset="0.4917" stop-color="#ffbe28"/><stop offset="0.5083" stop-color="#ffbe28"/><stop offset="0.5250" stop-color="#ff8319"/><stop offset="0.5500" stop-color="#ff300a"/><stop offset="0.5583" stop-color="#ec2004"/><stop offset="0.5667" stop-color="#ce1100"/><stop offset="0.5750" stop-color="#a20600"/><stop offset="0.5833" stop-color="#470100"/><stop offset="0.5917" stop-color="#160207"/><stop offset="0.6000" stop-color="#060512"/><stop offset="0.6167" stop-color="#09092d"/><stop offset="0.6333" stop-color="#0e0e60"/><stop offset="0.6583" stop-color="#111181"/><stop offset="0.7500" stop-color="#1619cc"/><stop offset="0.9250" stop-color="#1051ea"/><stop offset="0.9917" stop-color="#0d68ef"/><stop offset="1.0000" stop-color="#0d6af0"/></linearGradient><linearGradient id="g62"><stop offset="0.0" stop-color="#1e6efa"/><stop offset="0.15" stop-color="#1e3ceb"/><stop offset="0.3" stop-color="#1919d7"/><stop offset="0.42" stop-color="#140f78"/><stop offset="0.55" stop-color="#0c051e"/><stop offset="0.62" stop-color="#3c0000"/><stop offset="0.7" stop-color="#e10500"/><stop offset="0.8" stop-color="#ff280a"/><stop offset="0.87" stop-color="#ff6e1e"/><stop offset="0.95" stop-color="#f5c83c"/><stop offset="1.0" stop-color="#f0e146"/></linearGradient><linearGradient id="g63"><stop offset="0.0000" stop-color="#0aa7f7"/><stop offset="0.4500" stop-color="#0aa3f7"/><stop offset="1.0000" stop-color="#0aa7f7"/></linearGradient><linearGradient id="g64"><stop offset="0.0000" stop-color="#0aa7f7"/><stop offset="0.4500" stop-color="#0aa2f6"/><stop offset="1.0000" stop-color="#0aa6f7"/></linearGradient><linearGradient id="g65"><stop offset="0.0000" stop-color="#0aa7f7"/><stop offset="0.4417" stop-color="#0aa2f6"/><stop offset="0.4750" stop-color="#0a9cf6"/><stop offset="0.6000" stop-color="#0aa5f7"/><stop offset="1.0000" stop-color="#0aa6f7"/></linearGradient><linearGradient id="g66"><stop offset="0.0000" stop-color="#0aa7f7"/><stop offset="0.4417" stop-color="#0aa2f6"/><stop offset="0.4750" stop-color="#0a99f5"/><stop offset="0.5250" stop-color="#0aa3f7"/><stop offset="1.0000" stop-color="#0aa6f7"/></linearGradient><linearGradient id="g67"><stop offset="0.0000" stop-color="#0aa7f7"/><stop offset="0.4417" stop-color="#0aa1f6"/><stop offset="0.4750" stop-color="#0a95f5"/><stop offset="0.5167" stop-color="#0aa2f6"/><stop offset="1.0000" stop-color="#0aa6f7"/></linearGradient><linearGradient id="g68"><stop offset="0.0000" stop-color="#0aa7f7"/><stop offset="0.4417" stop-color="#0aa1f6"/><stop offset="0.4750" stop-color="#0a91f5"/><stop offset="0.5083" stop-color="#0aa1f6"/><stop offset="1.0000" stop-color="#0aa6f7"/></linearGradient><linearGradient id="g69"><stop offset="0.0000" stop-color="#0aa7f7"/><stop offset="0.4333" stop-color="#0aa1f6"/><stop offset="0.4750" stop-color="#0a8ef4"/><stop offset="0.5167" stop-color="#0aa1f6"/><stop offset="1.0000" stop-color="#0aa6f7"/></linearGradient><linearGradient id="g70"><stop offset="0.0000" stop-color="#0aa7f7"/><stop offset="0.4333" stop-color="#0aa1f6"/><stop offset="0.4750" stop-color="#0a8af4"/><stop offset="0.5250" stop-color="#0aa1f6"/><stop offset="1.0000" stop-color="#0aa5f7"/></linearGradient><linearGradient id="g71"><stop offset="0.0000" stop-color="#0aa7f7"/><stop offset="0.4250" stop-color="#0aa1f6"/><stop offset="0.4750" stop-color="#0a85f3"/><stop offset="0.5333" stop-color="#0aa1f6"/><stop offset="1.0000" stop-color="#0aa5f7"/></linearGradient><linearGradient id="g72"><stop offset="0.0000" stop-color="#0aa7f7"/><stop offset="0.4167" stop-color="#0aa1f6"/><stop offset="0.4750" stop-color="#0a7ef3"/><stop offset="0.5417" stop-color="#0aa1f6"/><stop offset="1.0000" stop-color="#0aa5f7"/></linearGradient><linearGradient id="g73"><stop offset="0.0000" stop-color="#0aa7f7"/><stop offset="0.4167" stop-color="#0aa0f6"/><stop offset="0.4750" stop-color="#0b76f1"/><stop offset="0.5417" stop-color="#0aa0f6"/><stop offset="1.0000" stop-color="#0aa5f7"/></linearGradient><linearGradient id="g74"><stop offset="0.0000" stop-color="#0aa7f7"/><stop offset="0.4083" stop-color="#0aa0f6"/><stop offset="0.4750" stop-color="#0c6ef0"/><stop offset="0.5500" stop-color="#0aa0f6"/><stop offset="1.0000" stop-color="#0aa4f7"/></linearGradient><linearGradient id="g75"><stop offset="0.0000" stop-color="#0aa7f7"/><stop offset="0.4000" stop-color="#0aa0f6"/><stop offset="0.4750" stop-color="#0d66ef"/><stop offset="0.5583" stop-color="#0aa0f6"/><stop offset="1.0000" stop-color="#0aa4f7"/></linearGradient><linearGradient id="g76"><stop offset="0.0000" stop-color="#0aa7f7"/><stop offset="0.3917" stop-color="#0a9ef6"/><stop offset="0.4667" stop-color="#0d65ef"/><stop offset="0.4750" stop-color="#0e5eee"/><stop offset="0.5583" stop-color="#0a9df6"/><stop offset="1.0000" stop-color="#0aa4f7"/></linearGradient><linearGradient id="g77"><stop offset="0.0000" stop-color="#0aa7f7"/><stop offset="0.3833" stop-color="#0a9ef6"/><stop offset="0.4500" stop-color="#0c6df0"/><stop offset="0.4750" stop-color="#1054ea"/><stop offset="0.5500" stop-color="#0a94f5"/><stop offset="0.6167" stop-color="#0aa0f6"/><stop offset="1.0000" stop-color="#0aa4f7"/></linearGradient><linearGradient id="g78"><stop offset="0.0000" stop-color="#0aa7f7"/><stop offset="0.3750" stop-color="#0a9ff6"/><stop offset="0.4500" stop-color="#0d65ef"/><stop offset="0.4750" stop-color="#114ae7"/><stop offset="0.5417" stop-color="#0a89f4"/><stop offset="0.5750" stop-color="#0a99f5"/><stop offset="0.7083" stop-color="#0aa1f6"/><stop offset="1.0000" stop-color="#0aa3f7"/></linearGradient><linearGradient id="g79"><stop offset="0.0000" stop-color="#0aa7f7"/><stop offset="0.3583" stop-color="#0a9df6"/><stop offset="0.4000" stop-color="#0a87f4"/><stop offset="0.4583" stop-color="#1051e9"/><stop offset="0.4750" stop-color="#133de3"/><stop offset="0.5333" stop-color="#0b79f2"/><stop offset="0.5667" stop-color="#0a8ff4"/><stop offset="0.7083" stop-color="#0aa0f6"/><stop offset="1.0000" stop-color="#0aa3f7"/></linearGradient><linearGradient id="g80"><stop offset="0.0000" stop-color="#0aa7f7"/><stop offset="0.3333" stop-color="#0a9ef6"/><stop offset="0.3833" stop-color="#0a8bf4"/><stop offset="0.4417" stop-color="#0f5aec"/><stop offset="0.4750" stop-color="#1432dd"/><stop offset="0.5333" stop-color="#0c6ef0"/><stop offset="0.5667" stop-color="#0a86f4"/><stop offset="0.6917" stop-color="#0a9af5"/><stop offset="1.0000" stop-color="#0aa2f6"/></linearGradient><linearGradient id="g81"><stop offset="0.0000" stop-color="#0aa7f7"/><stop offset="0.3167" stop-color="#0a9ef6"/><stop offset="0.3833" stop-color="#0a84f3"/><stop offset="0.4333" stop-color="#0f59ec"/><stop offset="0.4750" stop-color="#1528d7"/><stop offset="0.5417" stop-color="#0d6bf0"/><stop offset="0.5750" stop-color="#0a81f3"/><stop offset="0.7250" stop-color="#0a97f5"/><stop offset="0.9417" stop-color="#0aa1f6"/><stop offset="1.0000" stop-color="#0aa2f6"/></linearGradient><linearGradient id="g82"><stop offset="0.0000" stop-color="#0aa7f7"/><stop offset="0.3000" stop-color="#0a9ef6"/><stop offset="0.3750" stop-color="#0a82f3"/><stop offset="0.4250" stop-color="#0f59ec"/><stop offset="0.4667" stop-color="#1526d6"/><stop offset="0.4750" stop-color="#161ed0"/><stop offset="0.5417" stop-color="#0e60ee"/><stop offset="0.5833" stop-color="#0b7af2"/><stop offset="0.7167" stop-color="#0a90f5"/><stop offset="0.9500" stop-color="#0aa1f6"/><stop offset="1.0000" stop-color="#0aa2f6"/></linearGradient><linearGradient id="g83"><stop offset="0.0000" stop-color="#0aa7f7"/><stop offset="0.2917" stop-color="#0a9cf6"/><stop offset="0.3667" stop-color="#0a80f3"/><stop offset="0.4250" stop-color="#104fe9"/><stop offset="0.4583" stop-color="#1526d5"/><stop offset="0.4667" stop-color="#161dd0"/><stop offset="0.4750" stop-color="#1518bf"/><stop offset="0.4833" stop-color="#161bcf"/><stop offset="0.5500" stop-color="#0f5ced"/><stop offset="0.5833" stop-color="#0c70f1"/><stop offset="0.6917" stop-color="#0a87f4"/><stop offset="0.9750" stop-color="#0aa1f6"/><stop offset="1.0000" stop-color="#0aa1f6"/></linearGradient><linearGradient id="g84"><stop offset="0.0000" stop-color="#0aa7f7"/><stop offset="0.2750" stop-color="#0a9df6"/><stop offset="0.3583" stop-color="#0a7ff3"/><stop offset="0.4250" stop-color="#1244e5"/><stop offset="0.4583" stop-color="#161ccf"/><stop offset="0.4667" stop-color="#1517bd"/><stop offset="0.4750" stop-color="#1315a3"/><stop offset="0.4917" stop-color="#1619cd"/><stop offset="0.5500" stop-color="#104fe9"/><stop offset="0.5750" stop-color="#0d65ef"/><stop offset="0.6917" stop-color="#0a81f3"/><stop offset="1.0000" stop-color="#0aa1f6"/></linearGradient><linearGradient id="g85"><stop offset="0.0000" stop-color="#0aa7f7"/><stop offset="0.2583" stop-color="#0a9df6"/><stop offset="0.3583" stop-color="#0b76f1"/><stop offset="0.4250" stop-color="#1439e2"/><stop offset="0.4500" stop-color="#161ccf"/><stop offset="0.4667" stop-color="#1315a4"/><stop offset="0.4750" stop-color="#11128a"/><stop offset="0.5000" stop-color="#1518c5"/><stop offset="0.5167" stop-color="#1524d5"/><stop offset="0.5833" stop-color="#0f5aec"/><stop offset="0.6750" stop-color="#0b76f1"/><stop offset="1.0000" stop-color="#0aa0f6"/></linearGradient><linearGradient id="g86"><stop offset="0.0000" stop-color="#0aa7f7"/><stop offset="0.2500" stop-color="#0a9bf5"/><stop offset="0.3500" stop-color="#0c72f1"/><stop offset="0.4000" stop-color="#1247e6"/><stop offset="0.4417" stop-color="#161dcf"/><stop offset="0.4583" stop-color="#1315a3"/><stop offset="0.4750" stop-color="#0f0f6b"/><stop offset="0.5083" stop-color="#1517bb"/><stop offset="0.5167" stop-color="#1619cd"/><stop offset="0.5750" stop-color="#1248e6"/><stop offset="0.6500" stop-color="#0d68ef"/><stop offset="0.9250" stop-color="#0a94f5"/><stop offset="1.0000" stop-color="#0a9df6"/></linearGradient><linearGradient id="g87"><stop offset="0.0000" stop-color="#0aa7f7"/><stop offset="0.2250" stop-color="#0a9df6"/><stop offset="0.3333" stop-color="#0c72f1"/><stop offset="0.3833" stop-color="#114de8"/><stop offset="0.4333" stop-color="#161dd0"/><stop offset="0.4500" stop-color="#1314a2"/><stop offset="0.4667" stop-color="#0f0f6b"/><stop offset="0.4750" stop-color="#0a0a3d"/><stop offset="0.4917" stop-color="#10107a"/><stop offset="0.5333" stop-color="#161ace"/><stop offset="0.6000" stop-color="#1247e6"/><stop offset="0.6500" stop-color="#0e5eee"/><stop offset="0.9083" stop-color="#0a8ef4"/><stop offset="1.0000" stop-color="#0a99f5"/></linearGradient><linearGradient id="g88"><stop offset="0.0000" stop-color="#0aa7f7"/><stop offset="0.2083" stop-color="#0a9ef6"/><stop offset="0.3250" stop-color="#0c6ff0"/><stop offset="0.3833" stop-color="#1242e5"/><stop offset="0.4250" stop-color="#161ed0"/><stop offset="0.4333" stop-color="#1518bf"/><stop offset="0.4583" stop-color="#0e0e68"/><stop offset="0.4667" stop-color="#0a0a3b"/><stop offset="0.4750" stop-color="#07061d"/><stop offset="0.4833" stop-color="#08082a"/><stop offset="0.5083" stop-color="#10117d"/><stop offset="0.5417" stop-color="#1518c3"/><stop offset="0.5583" stop-color="#1523d4"/><stop offset="0.6333" stop-color="#114de8"/><stop offset="0.8250" stop-color="#0b7bf2"/><stop offset="1.0000" stop-color="#0a95f5"/></linearGradient><linearGradient id="g89"><stop offset="0.0000" stop-color="#0aa7f7"/><stop offset="0.2000" stop-color="#0a9ef6"/><stop offset="0.3167" stop-color="#0c6df0"/><stop offset="0.3833" stop-color="#1439e2"/><stop offset="0.4250" stop-color="#1618c7"/><stop offset="0.4500" stop-color="#0f0f6c"/><stop offset="0.4583" stop-color="#0a0a3d"/><stop offset="0.4667" stop-color="#07061d"/><stop offset="0.4750" stop-color="#09040b"/><stop offset="0.5000" stop-color="#080828"/><stop offset="0.5250" stop-color="#10117f"/><stop offset="0.5583" stop-color="#1619ca"/><stop offset="0.6333" stop-color="#1242e5"/><stop offset="0.7833" stop-color="#0c6df0"/><stop offset="0.9583" stop-color="#0a8bf4"/><stop offset="1.0000" stop-color="#0a90f5"/></linearGradient><linearGradient id="g90"><stop offset="0.0000" stop-color="#0aa7f7"/><stop offset="0.1917" stop-color="#0a9ef6"/><stop offset="0.3083" stop-color="#0c6df0"/><stop offset="0.3750" stop-color="#133ee3"/><stop offset="0.4167" stop-color="#1619cd"/><stop offset="0.4333" stop-color="#13149c"/><stop offset="0.4417" stop-color="#11117f"/><stop offset="0.4583" stop-color="#070723"/><stop offset="0.4667" stop-color="#05040c"/><stop offset="0.4750" stop-color="#240104"/><stop offset="0.4833" stop-color="#240104"/><stop offset="0.5000" stop-color="#06040c"/><stop offset="0.5167" stop-color="#080828"/><stop offset="0.5333" stop-color="#0f0f6f"/><stop offset="0.5583" stop-color="#1415ac"/><stop offset="0.5750" stop-color="#1619c9"/><stop offset="0.6333" stop-color="#1438e1"/><stop offset="0.7667" stop-color="#0d64ef"/><stop offset="0.9750" stop-color="#0a89f4"/><stop offset="1.0000" stop-color="#0a8cf4"/></linearGradient><linearGradient id="g91"><stop offset="0.0000" stop-color="#0aa7f7"/><stop offset="0.1917" stop-color="#0a9cf6"/><stop offset="0.3167" stop-color="#0d66ef"/><stop offset="0.3833" stop-color="#1432de"/><stop offset="0.4083" stop-color="#161ccf"/><stop offset="0.4167" stop-color="#1518c1"/><stop offset="0.4333" stop-color="#11128d"/><stop offset="0.4417" stop-color="#0f0f6a"/><stop offset="0.4500" stop-color="#090931"/><stop offset="0.4583" stop-color="#060514"/><stop offset="0.4667" stop-color="#1c0206"/><stop offset="0.4750" stop-color="#4d0100"/><stop offset="0.4833" stop-color="#620200"/><stop offset="0.5000" stop-color="#2b0102"/><stop offset="0.5167" stop-color="#05040f"/><stop offset="0.5333" stop-color="#0a0a38"/><stop offset="0.5500" stop-color="#10107c"/><stop offset="0.5917" stop-color="#1619ca"/><stop offset="0.6417" stop-color="#1432de"/><stop offset="0.7750" stop-color="#0e60ee"/><stop offset="0.9750" stop-color="#0a84f3"/><stop offset="1.0000" stop-color="#0a87f4"/></linearGradient><linearGradient id="g92"><stop offset="0.0000" stop-color="#0aa7f7"/><stop offset="0.1833" stop-color="#0a9df6"/><stop offset="0.3000" stop-color="#0d6bf0"/><stop offset="0.3417" stop-color="#1050e9"/><stop offset="0.3917" stop-color="#1527d6"/><stop offset="0.4083" stop-color="#1619ca"/><stop offset="0.4250" stop-color="#12149b"/><stop offset="0.4333" stop-color="#10117f"/><stop offset="0.4500" stop-color="#07071e"/><stop offset="0.4583" stop-color="#100309"/><stop offset="0.4667" stop-color="#3c0000"/><stop offset="0.4750" stop-color="#8b0400"/><stop offset="0.4833" stop-color="#a70700"/><stop offset="0.4917" stop-color="#940400"/><stop offset="0.5000" stop-color="#740300"/><stop offset="0.5167" stop-color="#220104"/><stop offset="0.5250" stop-color="#07040b"/><stop offset="0.5417" stop-color="#09092f"/><stop offset="0.5583" stop-color="#0f0f71"/><stop offset="0.6000" stop-color="#1518c2"/><stop offset="0.6083" stop-color="#161ace"/><stop offset="0.6667" stop-color="#1433de"/><stop offset="0.7750" stop-color="#0f59ec"/><stop offset="0.9750" stop-color="#0a80f3"/><stop offset="1.0000" stop-color="#0a83f3"/></linearGradient><linearGradient id="g93"><stop offset="0.0000" stop-color="#0aa6f7"/><stop offset="0.1833" stop-color="#0a9cf6"/><stop offset="0.3083" stop-color="#0d64ef"/><stop offset="0.3833" stop-color="#152bd9"/><stop offset="0.4000" stop-color="#161ccf"/><stop offset="0.4167" stop-color="#1415aa"/><stop offset="0.4333" stop-color="#0f0f6f"/><stop offset="0.4417" stop-color="#09092f"/><stop offset="0.4500" stop-color="#05040e"/><stop offset="0.4583" stop-color="#2c0102"/><stop offset="0.4667" stop-color="#800400"/><stop offset="0.4750" stop-color="#b50a00"/><stop offset="0.4833" stop-color="#c91000"/><stop offset="0.5000" stop-color="#b00900"/><stop offset="0.5083" stop-color="#970500"/><stop offset="0.5167" stop-color="#520100"/><stop offset="0.5250" stop-color="#200205"/><stop offset="0.5333" stop-color="#06040c"/><stop offset="0.5500" stop-color="#0a0a39"/><stop offset="0.5667" stop-color="#101076"/><stop offset="0.6167" stop-color="#1619cd"/><stop offset="0.7500" stop-color="#114be8"/><stop offset="0.9500" stop-color="#0b78f2"/><stop offset="1.0000" stop-color="#0a80f3"/></linearGradient><linearGradient id="g94"><stop offset="0.0000" stop-color="#0aa6f7"/><stop offset="0.1750" stop-color="#0a9ef6"/><stop offset="0.2750" stop-color="#0c73f1"/><stop offset="0.3417" stop-color="#1148e6"/><stop offset="0.3917" stop-color="#1620d1"/><stop offset="0.4000" stop-color="#1619cb"/><stop offset="0.4250" stop-color="#111184"/><stop offset="0.4333" stop-color="#0d0d59"/><stop offset="0.4417" stop-color="#07071f"/><stop offset="0.4500" stop-color="#180207"/><stop offset="0.4667" stop-color="#af0900"/><stop offset="0.4750" stop-color="#d21200"/><stop offset="0.4833" stop-color="#e41901"/><stop offset="0.4917" stop-color="#e11600"/><stop offset="0.5000" stop-color="#d31200"/><stop offset="0.5083" stop-color="#bd0c00"/><stop offset="0.5167" stop-color="#930400"/><stop offset="0.5250" stop-color="#420100"/><stop offset="0.5333" stop-color="#1b0206"/><stop offset="0.5417" stop-color="#060512"/><stop offset="0.5500" stop-color="#080724"/><stop offset="0.5750" stop-color="#101075"/><stop offset="0.6250" stop-color="#1618c8"/><stop offset="0.7417" stop-color="#1242e4"/><stop offset="0.9250" stop-color="#0c6ff0"/><stop offset="1.0000" stop-color="#0b7cf2"/></linearGradient><linearGradient id="g95"><stop offset="0.0000" stop-color="#0aa6f7"/><stop offset="0.1750" stop-color="#0a9cf6"/><stop offset="0.2750" stop-color="#0c71f1"/><stop offset="0.3417" stop-color="#1244e5"/><stop offset="0.3917" stop-color="#161ccf"/><stop offset="0.4083" stop-color="#1416ac"/><stop offset="0.4250" stop-color="#101078"/><stop offset="0.4417" stop-color="#060512"/><stop offset="0.4500" stop-color="#2d0001"/><stop offset="0.4583" stop-color="#9a0500"/><stop offset="0.4667" stop-color="#cb1000"/><stop offset="0.4750" stop-color="#e61a02"/><stop offset="0.4833" stop-color="#ef2205"/><stop offset="0.5000" stop-color="#e81c02"/><stop offset="0.5083" stop-color="#dd1500"/><stop offset="0.5167" stop-color="#b60b00"/><stop offset="0.5333" stop-color="#300001"/><stop offset="0.5417" stop-color="#0d030a"/><stop offset="0.5500" stop-color="#060619"/><stop offset="0.5583" stop-color="#080827"/><stop offset="0.5833" stop-color="#0f0f71"/><stop offset="0.6333" stop-color="#1517bd"/><stop offset="0.6583" stop-color="#161ccf"/><stop offset="0.7750" stop-color="#1244e5"/><stop offset="0.9417" stop-color="#0c6df0"/><stop offset="1.0000" stop-color="#0b78f2"/></linearGradient><linearGradient id="g96"><stop offset="0.0000" stop-color="#0aa6f7"/><stop offset="0.1667" stop-color="#0a9ef6"/><stop offset="0.2750" stop-color="#0c6ef0"/><stop offset="0.3333" stop-color="#1247e6"/><stop offset="0.3917" stop-color="#1619cb"/><stop offset="0.4167" stop-color="#111288"/><stop offset="0.4250" stop-color="#0e0e62"/><stop offset="0.4333" stop-color="#09092d"/><stop offset="0.4417" stop-color="#0d030a"/><stop offset="0.4500" stop-color="#550200"/><stop offset="0.4583" stop-color="#b60b00"/><stop offset="0.4667" stop-color="#e31801"/><stop offset="0.4833" stop-color="#fa2c08"/><stop offset="0.5083" stop-color="#ea1e03"/><stop offset="0.5167" stop-color="#d11200"/><stop offset="0.5250" stop-color="#a50600"/><stop offset="0.5333" stop-color="#590200"/><stop offset="0.5417" stop-color="#1d0206"/><stop offset="0.5500" stop-color="#05040e"/><stop offset="0.5667" stop-color="#080829"/><stop offset="0.6000" stop-color="#10107b"/><stop offset="0.6333" stop-color="#1415aa"/><stop offset="0.6750" stop-color="#161ace"/><stop offset="0.7750" stop-color="#133de3"/><stop offset="0.9500" stop-color="#0d6af0"/><stop offset="1.0000" stop-color="#0c73f1"/></linearGradient><linearGradient id="g97"><stop offset="0.0000" stop-color="#0aa6f7"/><stop offset="0.1667" stop-color="#0a9df6"/><stop offset="0.2750" stop-color="#0c6cf0"/><stop offset="0.3417" stop-color="#133be2"/><stop offset="0.3833" stop-color="#161ccf"/><stop offset="0.4000" stop-color="#1416ac"/><stop offset="0.4167" stop-color="#10117d"/><stop offset="0.4333" stop-color="#070721"/><stop offset="0.4417" stop-color="#1e0205"/><stop offset="0.4500" stop-color="#820400"/><stop offset="0.4583" stop-color="#ce1100"/><stop offset="0.4667" stop-color="#ec2004"/><stop offset="0.4833" stop-color="#ff390c"/><stop offset="0.5000" stop-color="#fe2f0a"/><stop offset="0.5167" stop-color="#e51901"/><stop offset="0.5250" stop-color="#bb0c00"/><stop offset="0.5333" stop-color="#860400"/><stop offset="0.5417" stop-color="#2e0001"/><stop offset="0.5500" stop-color="#110309"/><stop offset="0.5583" stop-color="#060511"/><stop offset="0.5750" stop-color="#080826"/><stop offset="0.6083" stop-color="#0f0f73"/><stop offset="0.6417" stop-color="#13149f"/><stop offset="0.6917" stop-color="#161bce"/><stop offset="0.8000" stop-color="#133de3"/><stop offset="0.9667" stop-color="#0d69ef"/><stop offset="1.0000" stop-color="#0c6ff0"/></linearGradient><linearGradient id="g98"><stop offset="0.0000" stop-color="#0aa6f7"/><stop offset="0.1667" stop-color="#0a9cf6"/><stop offset="0.2750" stop-color="#0d6af0"/><stop offset="0.3500" stop-color="#1433de"/><stop offset="0.3833" stop-color="#161ace"/><stop offset="0.4083" stop-color="#121393"/><stop offset="0.4167" stop-color="#101077"/><stop offset="0.4250" stop-color="#0a0a41"/><stop offset="0.4333" stop-color="#060618"/><stop offset="0.4417" stop-color="#2d0001"/><stop offset="0.4500" stop-color="#a20600"/><stop offset="0.4583" stop-color="#df1500"/><stop offset="0.4750" stop-color="#ff330a"/><stop offset="0.4833" stop-color="#ff470e"/><stop offset="0.5000" stop-color="#ff3e0c"/><stop offset="0.5083" stop-color="#ff300a"/><stop offset="0.5250" stop-color="#d61300"/><stop offset="0.5333" stop-color="#ac0800"/><stop offset="0.5417" stop-color="#590200"/><stop offset="0.5500" stop-color="#210104"/><stop offset="0.5583" stop-color="#0a040b"/><stop offset="0.5833" stop-color="#08082a"/><stop offset="0.6167" stop-color="#101079"/><stop offset="0.6917" stop-color="#1619cd"/><stop offset="0.7750" stop-color="#1434df"/><stop offset="0.9500" stop-color="#0d64ef"/><stop offset="1.0000" stop-color="#0c6df0"/></linearGradient><linearGradient id="g99"><stop offset="0.0000" stop-color="#0aa6f7"/><stop offset="0.1667" stop-color="#0a9cf6"/><stop offset="0.2833" stop-color="#0d64ef"/><stop offset="0.3583" stop-color="#152bd9"/><stop offset="0.3833" stop-color="#1619ca"/><stop offset="0.4083" stop-color="#11128d"/><stop offset="0.4167" stop-color="#0f0f6b"/><stop offset="0.4250" stop-color="#090935"/><stop offset="0.4333" stop-color="#05040e"/><stop offset="0.4417" stop-color="#450100"/><stop offset="0.4500" stop-color="#b10900"/><stop offset="0.4583" stop-color="#e61a02"/><stop offset="0.4667" stop-color="#fa2b08"/><stop offset="0.4833" stop-color="#ff5410"/><stop offset="0.4917" stop-color="#ff5510"/><stop offset="0.5083" stop-color="#ff3f0c"/><stop offset="0.5167" stop-color="#f82a08"/><stop offset="0.5250" stop-color="#e61b02"/><stop offset="0.5333" stop-color="#c20e00"/><stop offset="0.5417" stop-color="#880400"/><stop offset="0.5500" stop-color="#310000"/><stop offset="0.5583" stop-color="#150308"/><stop offset="0.5667" stop-color="#060514"/><stop offset="0.5917" stop-color="#09092e"/><stop offset="0.6250" stop-color="#10117d"/><stop offset="0.7000" stop-color="#161bce"/><stop offset="0.8333" stop-color="#1244e5"/><stop offset="1.0000" stop-color="#0d6bf0"/></linearGradient><linearGradient id="g100"><stop offset="0.0000" stop-color="#0aa6f7"/><stop offset="0.1583" stop-color="#0a9ef6"/><stop offset="0.2667" stop-color="#0c6df0"/><stop offset="0.3500" stop-color="#152fdc"/><stop offset="0.3750" stop-color="#161dd0"/><stop offset="0.3833" stop-color="#1518c5"/><stop offset="0.4083" stop-color="#111287"/><stop offset="0.4167" stop-color="#0e0e5f"/><stop offset="0.4250" stop-color="#080829"/><stop offset="0.4333" stop-color="#0e030a"/><stop offset="0.4417" stop-color="#640200"/><stop offset="0.4500" stop-color="#c00d00"/><stop offset="0.4583" stop-color="#eb1f03"/><stop offset="0.4667" stop-color="#ff320a"/><stop offset="0.4833" stop-color="#ff6112"/><stop offset="0.4917" stop-color="#ff6512"/><stop offset="0.5083" stop-color="#ff4e0f"/><stop offset="0.5167" stop-color="#ff350b"/><stop offset="0.5333" stop-color="#d91400"/><stop offset="0.5417" stop-color="#aa0800"/><stop offset="0.5500" stop-color="#530100"/><stop offset="0.5583" stop-color="#210205"/><stop offset="0.5667" stop-color="#05040f"/><stop offset="0.6000" stop-color="#090930"/><stop offset="0.6250" stop-color="#0f0f72"/><stop offset="0.6750" stop-color="#1416af"/><stop offset="0.7000" stop-color="#1619cc"/><stop offset="0.8250" stop-color="#1341e4"/><stop offset="1.0000" stop-color="#0d69f0"/></linearGradient><linearGradient id="g101"><stop offset="0.0000" stop-color="#0aa6f7"/><stop offset="0.1583" stop-color="#0a9df6"/><stop offset="0.2667" stop-color="#0c6cf0"/><stop offset="0.3500" stop-color="#152dda"/><stop offset="0.3750" stop-color="#161bcf"/><stop offset="0.4000" stop-color="#121398"/><stop offset="0.4083" stop-color="#111182"/><stop offset="0.4250" stop-color="#070723"/><stop offset="0.4333" stop-color="#1b0206"/><stop offset="0.4417" stop-color="#830400"/><stop offset="0.4500" stop-color="#ce1100"/><stop offset="0.4583" stop-color="#f12405"/><stop offset="0.4667" stop-color="#ff3b0c"/><stop offset="0.4833" stop-color="#ff6f14"/><stop offset="0.4917" stop-color="#ff7516"/><stop offset="0.5083" stop-color="#ff5d11"/><stop offset="0.5250" stop-color="#f82a08"/><stop offset="0.5333" stop-color="#e61a02"/><stop offset="0.5417" stop-color="#bd0d00"/><stop offset="0.5583" stop-color="#2d0001"/><stop offset="0.5667" stop-color="#08040b"/><stop offset="0.6000" stop-color="#080825"/><stop offset="0.6333" stop-color="#101078"/><stop offset="0.7083" stop-color="#161ace"/><stop offset="0.8583" stop-color="#1149e7"/><stop offset="1.0000" stop-color="#0d67ef"/></linearGradient><linearGradient id="g102"><stop offset="0.0000" stop-color="#0aa6f7"/><stop offset="0.1583" stop-color="#0a9cf6"/><stop offset="0.2667" stop-color="#0d6af0"/><stop offset="0.3500" stop-color="#152bd9"/><stop offset="0.3750" stop-color="#161acd"/><stop offset="0.4083" stop-color="#10107c"/><stop offset="0.4167" stop-color="#0b0b48"/><stop offset="0.4250" stop-color="#07071e"/><stop offset="0.4333" stop-color="#270103"/><stop offset="0.4417" stop-color="#a10500"/><stop offset="0.4500" stop-color="#dd1500"/><stop offset="0.4583" stop-color="#f72907"/><stop offset="0.4750" stop-color="#ff6212"/><stop offset="0.4833" stop-color="#ff8018"/><stop offset="0.4917" stop-color="#ff891b"/><stop offset="0.5083" stop-color="#ff6c14"/><stop offset="0.5250" stop-color="#ff330a"/><stop offset="0.5333" stop-color="#ed2104"/><stop offset="0.5417" stop-color="#d11200"/><stop offset="0.5500" stop-color="#960500"/><stop offset="0.5583" stop-color="#3f0100"/><stop offset="0.5667" stop-color="#0f0309"/><stop offset="0.5750" stop-color="#05040d"/><stop offset="0.6083" stop-color="#080828"/><stop offset="0.6417" stop-color="#10107b"/><stop offset="0.7083" stop-color="#1619cb"/><stop offset="0.8250" stop-color="#133ee3"/><stop offset="1.0000" stop-color="#0d65ef"/></linearGradient><linearGradient id="g103"><stop offset="0.0000" stop-color="#0aa6f7"/><stop offset="0.1583" stop-color="#0a9cf6"/><stop offset="0.2667" stop-color="#0d6af0"/><stop offset="0.3500" stop-color="#152ad8"/><stop offset="0.3750" stop-color="#1619cc"/><stop offset="0.4083" stop-color="#101079"/><stop offset="0.4167" stop-color="#0b0b43"/><stop offset="0.4250" stop-color="#07061c"/><stop offset="0.4333" stop-color="#2c0102"/><stop offset="0.4417" stop-color="#a50600"/><stop offset="0.4500" stop-color="#e11600"/><stop offset="0.4583" stop-color="#f92b08"/><stop offset="0.4833" stop-color="#ff891b"/><stop offset="0.4917" stop-color="#ff931d"/><stop offset="0.5083" stop-color="#ff7616"/><stop offset="0.5250" stop-color="#ff380b"/><stop offset="0.5333" stop-color="#f02305"/><stop offset="0.5417" stop-color="#d81400"/><stop offset="0.5500" stop-color="#a10500"/><stop offset="0.5583" stop-color="#470100"/><stop offset="0.5667" stop-color="#120309"/><stop offset="0.5750" stop-color="#06040c"/><stop offset="0.6083" stop-color="#080826"/><stop offset="0.6417" stop-color="#101079"/><stop offset="0.7083" stop-color="#1619c9"/><stop offset="0.7917" stop-color="#1432de"/><stop offset="0.9667" stop-color="#0e5fee"/><stop offset="1.0000" stop-color="#0d64ef"/></linearGradient><linearGradient id="g104"><stop offset="0.0000" stop-color="#0aa6f7"/><stop offset="0.1583" stop-color="#0a9cf6"/><stop offset="0.2750" stop-color="#0d64ef"/><stop offset="0.3500" stop-color="#152ad8"/><stop offset="0.3750" stop-color="#1619cb"/><stop offset="0.4083" stop-color="#101078"/><stop offset="0.4167" stop-color="#0a0a40"/><stop offset="0.4250" stop-color="#07061b"/><stop offset="0.4333" stop-color="#2d0001"/><stop offset="0.4417" stop-color="#a70700"/><stop offset="0.4500" stop-color="#e21700"/><stop offset="0.4583" stop-color="#fa2c08"/><stop offset="0.4833" stop-color="#ff8f1c"/><stop offset="0.4917" stop-color="#ff9a1f"/><stop offset="0.5083" stop-color="#ff7d18"/><stop offset="0.5250" stop-color="#ff3c0c"/><stop offset="0.5333" stop-color="#f22506"/><stop offset="0.5417" stop-color="#db1400"/><stop offset="0.5500" stop-color="#a30600"/><stop offset="0.5583" stop-color="#470100"/><stop offset="0.5667" stop-color="#130308"/><stop offset="0.5750" stop-color="#05040c"/><stop offset="0.6083" stop-color="#080826"/><stop offset="0.6417" stop-color="#101079"/><stop offset="0.7167" stop-color="#161bce"/><stop offset="0.8583" stop-color="#1245e6"/><stop offset="1.0000" stop-color="#0d64ef"/></linearGradient><linearGradient id="g105"><stop offset="0.0000" stop-color="#0aa6f7"/><stop offset="0.1583" stop-color="#0a9cf6"/><stop offset="0.2667" stop-color="#0d68ef"/><stop offset="0.3417" stop-color="#152fdc"/><stop offset="0.3750" stop-color="#1619c9"/><stop offset="0.4000" stop-color="#12128e"/><stop offset="0.4083" stop-color="#101075"/><stop offset="0.4167" stop-color="#0a0a3e"/><stop offset="0.4250" stop-color="#06061a"/><stop offset="0.4333" stop-color="#2f0001"/><stop offset="0.4417" stop-color="#a80700"/><stop offset="0.4500" stop-color="#e21700"/><stop offset="0.4583" stop-color="#fb2c09"/><stop offset="0.4833" stop-color="#ff941e"/><stop offset="0.4917" stop-color="#ffa121"/><stop offset="0.5083" stop-color="#ff851a"/><stop offset="0.5250" stop-color="#ff3f0c"/><stop offset="0.5333" stop-color="#f42606"/><stop offset="0.5417" stop-color="#de1500"/><stop offset="0.5500" stop-color="#a50600"/><stop offset="0.5583" stop-color="#480100"/><stop offset="0.5667" stop-color="#140308"/><stop offset="0.5750" stop-color="#05040c"/><stop offset="0.6083" stop-color="#080826"/><stop offset="0.6417" stop-color="#101079"/><stop offset="0.7083" stop-color="#1618c8"/><stop offset="0.8000" stop-color="#1434df"/><stop offset="0.9833" stop-color="#0e60ee"/><stop offset="1.0000" stop-color="#0e63ef"/></linearGradient><linearGradient id="g106"><stop offset="0.0000" stop-color="#0aa6f7"/><stop offset="0.1583" stop-color="#0a9cf6"/><stop offset="0.2667" stop-color="#0d68ef"/><stop offset="0.3417" stop-color="#152edb"/><stop offset="0.3750" stop-color="#1618c8"/><stop offset="0.4000" stop-color="#11128d"/><stop offset="0.4083" stop-color="#0f0f72"/><stop offset="0.4167" stop-color="#0a0a3b"/><stop offset="0.4250" stop-color="#060619"/><stop offset="0.4333" stop-color="#300000"/><stop offset="0.4417" stop-color="#a90700"/><stop offset="0.4500" stop-color="#e31701"/><stop offset="0.4583" stop-color="#fc2d09"/><stop offset="0.4833" stop-color="#ff9a1f"/><stop offset="0.4917" stop-color="#ffa822"/><stop offset="0.5083" stop-color="#ff8c1b"/><stop offset="0.5250" stop-color="#ff420d"/><stop offset="0.5333" stop-color="#f52807"/><stop offset="0.5417" stop-color="#e11600"/><stop offset="0.5500" stop-color="#a70700"/><stop offset="0.5583" stop-color="#480100"/><stop offset="0.5667" stop-color="#160308"/><stop offset="0.5750" stop-color="#05040c"/><stop offset="0.6083" stop-color="#080826"/><stop offset="0.6417" stop-color="#101079"/><stop offset="0.7083" stop-color="#1618c7"/><stop offset="0.7417" stop-color="#1523d4"/><stop offset="0.9417" stop-color="#0f57ec"/><stop offset="1.0000" stop-color="#0e62ef"/></linearGradient><linearGradient id="g107"><stop offset="0.0000" stop-color="#0aa6f7"/><stop offset="0.1500" stop-color="#0a9ff6"/><stop offset="0.2667" stop-color="#0d67ef"/><stop offset="0.3500" stop-color="#1528d7"/><stop offset="0.3750" stop-color="#1618c6"/><stop offset="0.4000" stop-color="#11128b"/><stop offset="0.4083" stop-color="#0f0f70"/><stop offset="0.4167" stop-color="#0a0a38"/><stop offset="0.4250" stop-color="#060617"/><stop offset="0.4333" stop-color="#320000"/><stop offset="0.4417" stop-color="#ab0800"/><stop offset="0.4500" stop-color="#e31801"/><stop offset="0.4583" stop-color="#fd2e09"/><stop offset="0.4833" stop-color="#ffa020"/><stop offset="0.4917" stop-color="#ffae24"/><stop offset="0.5083" stop-color="#ff931d"/><stop offset="0.5250" stop-color="#ff450d"/><stop offset="0.5333" stop-color="#f72907"/><stop offset="0.5417" stop-color="#e21700"/><stop offset="0.5500" stop-color="#a90700"/><stop offset="0.5583" stop-color="#490100"/><stop offset="0.5667" stop-color="#170207"/><stop offset="0.5750" stop-color="#05040c"/><stop offset="0.6083" stop-color="#080826"/><stop offset="0.6417" stop-color="#101079"/><stop offset="0.7083" stop-color="#1618c6"/><stop offset="0.7417" stop-color="#1522d3"/><stop offset="0.9000" stop-color="#104ee9"/><stop offset="1.0000" stop-color="#0e62ee"/></linearGradient><linearGradient id="g108"><stop offset="0.0000" stop-color="#0aa6f7"/><stop offset="0.1500" stop-color="#0a9ff6"/><stop offset="0.2667" stop-color="#0d67ef"/><stop offset="0.3500" stop-color="#1528d7"/><stop offset="0.3750" stop-color="#1518c5"/><stop offset="0.4000" stop-color="#11128a"/><stop offset="0.4083" stop-color="#0f0f6d"/><stop offset="0.4167" stop-color="#090935"/><stop offset="0.4250" stop-color="#060516"/><stop offset="0.4333" stop-color="#340000"/><stop offset="0.4417" stop-color="#ac0800"/><stop offset="0.4500" stop-color="#e31801"/><stop offset="0.4583" stop-color="#fe2f0a"/><stop offset="0.4833" stop-color="#ffa522"/><stop offset="0.4917" stop-color="#ffb526"/><stop offset="0.5083" stop-color="#ff9a1f"/><stop offset="0.5250" stop-color="#ff480e"/><stop offset="0.5333" stop-color="#f92b08"/><stop offset="0.5417" stop-color="#e31801"/><stop offset="0.5500" stop-color="#ab0800"/><stop offset="0.5583" stop-color="#4a0100"/><stop offset="0.5667" stop-color="#180207"/><stop offset="0.5750" stop-color="#05040c"/><stop offset="0.6083" stop-color="#080826"/><stop offset="0.6417" stop-color="#101079"/><stop offset="0.7083" stop-color="#1518c5"/><stop offset="0.7333" stop-color="#161fd1"/><stop offset="0.8917" stop-color="#114ce8"/><stop offset="1.0000" stop-color="#0e61ee"/></linearGradient><linearGradient id="g109"><stop offset="0.0000" stop-color="#0aa6f7"/><stop offset="0.1500" stop-color="#0a9ff6"/><stop offset="0.2667" stop-color="#0d66ef"/><stop offset="0.3417" stop-color="#152dda"/><stop offset="0.3667" stop-color="#161bcf"/><stop offset="0.3833" stop-color="#1416b0"/><stop offset="0.4000" stop-color="#111288"/><stop offset="0.4083" stop-color="#0f0f6a"/><stop offset="0.4167" stop-color="#090933"/><stop offset="0.4250" stop-color="#060515"/><stop offset="0.4333" stop-color="#380000"/><stop offset="0.4417" stop-color="#ad0800"/><stop offset="0.4500" stop-color="#e41901"/><stop offset="0.4583" stop-color="#ff300a"/><stop offset="0.4833" stop-color="#ffab23"/><stop offset="0.4917" stop-color="#ffbc27"/><stop offset="0.5083" stop-color="#ffa221"/><stop offset="0.5167" stop-color="#ff7215"/><stop offset="0.5333" stop-color="#fa2c08"/><stop offset="0.5417" stop-color="#e41801"/><stop offset="0.5500" stop-color="#ad0800"/><stop offset="0.5583" stop-color="#4a0100"/><stop offset="0.5667" stop-color="#1a0206"/><stop offset="0.5750" stop-color="#05040c"/><stop offset="0.6083" stop-color="#080826"/><stop offset="0.6417" stop-color="#101079"/><stop offset="0.7167" stop-color="#1619cd"/><stop offset="0.8667" stop-color="#1244e5"/><stop offset="1.0000" stop-color="#0e61ee"/></linearGradient><linearGradient id="g110"><stop offset="0.0000" stop-color="#0aa6f7"/><stop offset="0.1500" stop-color="#0a9ff6"/><stop offset="0.2667" stop-color="#0d66ef"/><stop offset="0.3500" stop-color="#1527d6"/><stop offset="0.3667" stop-color="#161bce"/><stop offset="0.3833" stop-color="#1416ae"/><stop offset="0.4000" stop-color="#111287"/><stop offset="0.4083" stop-color="#0e0e68"/><stop offset="0.4167" stop-color="#090930"/><stop offset="0.4250" stop-color="#060514"/><stop offset="0.4333" stop-color="#3b0000"/><stop offset="0.4417" stop-color="#ae0900"/><stop offset="0.4500" stop-color="#e41901"/><stop offset="0.4583" stop-color="#ff310a"/><stop offset="0.4833" stop-color="#ffb125"/><stop offset="0.4917" stop-color="#fec029"/><stop offset="0.5083" stop-color="#ffa923"/><stop offset="0.5250" stop-color="#ff4e0f"/><stop offset="0.5333" stop-color="#fc2d09"/><stop offset="0.5417" stop-color="#e51901"/><stop offset="0.5500" stop-color="#af0900"/><stop offset="0.5583" stop-color="#4b0100"/><stop offset="0.5667" stop-color="#1b0206"/><stop offset="0.5750" stop-color="#05040c"/><stop offset="0.6083" stop-color="#080826"/><stop offset="0.6417" stop-color="#101079"/><stop offset="0.6917" stop-color="#1416b3"/><stop offset="0.7250" stop-color="#161ccf"/><stop offset="0.8917" stop-color="#114ae7"/><stop offset="1.0000" stop-color="#0e60ee"/></linearGradient><linearGradient id="g111"><stop offset="0.0000" stop-color="#0aa6f7"/><stop offset="0.1500" stop-color="#0a9ef6"/><stop offset="0.2667" stop-color="#0d65ef"/><stop offset="0.3500" stop-color="#1526d6"/><stop offset="0.3667" stop-color="#161ace"/><stop offset="0.3833" stop-color="#1416ad"/><stop offset="0.4000" stop-color="#111185"/><stop offset="0.4083" stop-color="#0e0e65"/><stop offset="0.4167" stop-color="#09092d"/><stop offset="0.4250" stop-color="#060513"/><stop offset="0.4333" stop-color="#3e0100"/><stop offset="0.4417" stop-color="#b00900"/><stop offset="0.4500" stop-color="#e51901"/><stop offset="0.4583" stop-color="#ff320a"/><stop offset="0.4833" stop-color="#ffb726"/><stop offset="0.4917" stop-color="#fec429"/><stop offset="0.5000" stop-color="#ffbe28"/><stop offset="0.5083" stop-color="#ffb025"/><stop offset="0.5250" stop-color="#ff510f"/><stop offset="0.5333" stop-color="#fe2f0a"/><stop offset="0.5417" stop-color="#e61a02"/><stop offset="0.5500" stop-color="#b10900"/><stop offset="0.5583" stop-color="#4b0100"/><stop offset="0.5667" stop-color="#1c0206"/><stop offset="0.5750" stop-color="#05040c"/><stop offset="0.6083" stop-color="#080826"/><stop offset="0.6417" stop-color="#101079"/><stop offset="0.6917" stop-color="#1416b3"/><stop offset="0.7250" stop-color="#161bce"/><stop offset="0.8750" stop-color="#1245e6"/><stop offset="1.0000" stop-color="#0e60ee"/></linearGradient><linearGradient id="g112"><stop offset="0.0000" stop-color="#0aa6f7"/><stop offset="0.1500" stop-color="#0a9ef6"/><stop offset="0.2667" stop-color="#0d65ef"/><stop offset="0.3417" stop-color="#152bd9"/><stop offset="0.3667" stop-color="#161ace"/><stop offset="0.4000" stop-color="#111184"/><stop offset="0.4083" stop-color="#0e0e62"/><stop offset="0.4167" stop-color="#08082b"/><stop offset="0.4250" stop-color="#060512"/><stop offset="0.4333" stop-color="#410100"/><stop offset="0.4417" stop-color="#b10900"/><stop offset="0.4500" stop-color="#e51a01"/><stop offset="0.4583" stop-color="#ff340b"/><stop offset="0.4750" stop-color="#ff8b1b"/><stop offset="0.4833" stop-color="#ffbc28"/><stop offset="0.4917" stop-color="#fdc82a"/><stop offset="0.5083" stop-color="#ffb726"/><stop offset="0.5250" stop-color="#ff5510"/><stop offset="0.5333" stop-color="#ff310a"/><stop offset="0.5417" stop-color="#e71b02"/><stop offset="0.5500" stop-color="#b30a00"/><stop offset="0.5583" stop-color="#4c0100"/><stop offset="0.5667" stop-color="#1e0205"/><stop offset="0.5750" stop-color="#05040c"/><stop offset="0.6083" stop-color="#080826"/><stop offset="0.6417" stop-color="#101079"/><stop offset="0.6917" stop-color="#1416b2"/><stop offset="0.7250" stop-color="#161bce"/><stop offset="0.8750" stop-color="#1244e5"/><stop offset="1.0000" stop-color="#0e5fee"/></linearGradient><linearGradient id="g113"><stop offset="0.0000" stop-color="#0aa6f7"/><stop offset="0.1500" stop-color="#0a9ef6"/><stop offset="0.2667" stop-color="#0d65ef"/><stop offset="0.3417" stop-color="#152bd9"/><stop offset="0.3667" stop-color="#161ace"/><stop offset="0.4000" stop-color="#111184"/><stop offset="0.4083" stop-color="#0e0e63"/><stop offset="0.4167" stop-color="#09092e"/><stop offset="0.4250" stop-color="#060514"/><stop offset="0.4333" stop-color="#3b0000"/><stop offset="0.4417" stop-color="#af0900"/><stop offset="0.4500" stop-color="#e41901"/><stop offset="0.4583" stop-color="#ff330a"/><stop offset="0.4750" stop-color="#ff8a1b"/><stop offset="0.4833" stop-color="#ffbc27"/><stop offset="0.4917" stop-color="#fdc82a"/><stop offset="0.5083" stop-color="#ffb726"/><stop offset="0.5250" stop-color="#ff5410"/><stop offset="0.5333" stop-color="#ff300a"/><stop offset="0.5417" stop-color="#e61a02"/><stop offset="0.5500" stop-color="#b10900"/><stop offset="0.5583" stop-color="#450100"/><stop offset="0.5667" stop-color="#1b0206"/><stop offset="0.5750" stop-color="#05040e"/><stop offset="0.6083" stop-color="#080828"/><stop offset="0.6417" stop-color="#101079"/><stop offset="0.6917" stop-color="#1416b2"/><stop offset="0.7250" stop-color="#161bce"/><stop offset="0.8917" stop-color="#1149e7"/><stop offset="1.0000" stop-color="#0e5fee"/></linearGradient><linearGradient id="g114"><stop offset="0.0000" stop-color="#0aa6f7"/><stop offset="0.1500" stop-color="#0a9ef6"/><stop offset="0.2667" stop-color="#0d65ef"/><stop offset="0.3417" stop-color="#152bd9"/><stop offset="0.3667" stop-color="#161ace"/><stop offset="0.4000" stop-color="#111184"/><stop offset="0.4083" stop-color="#0e0e64"/><stop offset="0.4167" stop-color="#090932"/><stop offset="0.4250" stop-color="#060617"/><stop offset="0.4333" stop-color="#330000"/><stop offset="0.4417" stop-color="#ab0800"/><stop offset="0.4500" stop-color="#e31801"/><stop offset="0.4583" stop-color="#ff310a"/><stop offset="0.4833" stop-color="#ffb927"/><stop offset="0.4917" stop-color="#fdc72a"/><stop offset="0.5083" stop-color="#ffb526"/><stop offset="0.5250" stop-color="#ff5210"/><stop offset="0.5333" stop-color="#fe2f0a"/><stop offset="0.5417" stop-color="#e51901"/><stop offset="0.5500" stop-color="#ad0800"/><stop offset="0.5583" stop-color="#3d0100"/><stop offset="0.5667" stop-color="#170207"/><stop offset="0.5750" stop-color="#060511"/><stop offset="0.6000" stop-color="#070722"/><stop offset="0.6167" stop-color="#0a0a3f"/><stop offset="0.6417" stop-color="#101079"/><stop offset="0.6917" stop-color="#1416b2"/><stop offset="0.7250" stop-color="#161bce"/><stop offset="0.8917" stop-color="#1149e7"/><stop offset="1.0000" stop-color="#0e5fee"/></linearGradient><linearGradient id="g115"><stop offset="0.0000" stop-color="#0aa6f7"/><stop offset="0.1500" stop-color="#0a9ef6"/><stop offset="0.2667" stop-color="#0d65ef"/><stop offset="0.3417" stop-color="#152bd9"/><stop offset="0.3667" stop-color="#161ace"/><stop offset="0.4000" stop-color="#111184"/><stop offset="0.4083" stop-color="#0e0e65"/><stop offset="0.4167" stop-color="#090936"/><stop offset="0.4250" stop-color="#06061a"/><stop offset="0.4333" stop-color="#2e0001"/><stop offset="0.4417" stop-color="#a80700"/><stop offset="0.4500" stop-color="#e21700"/><stop offset="0.4583" stop-color="#ff300a"/><stop offset="0.4750" stop-color="#ff861a"/><stop offset="0.4833" stop-color="#ffb726"/><stop offset="0.4917" stop-color="#fdc52a"/><stop offset="0.5000" stop-color="#ffc028"/><stop offset="0.5083" stop-color="#ffb325"/><stop offset="0.5167" stop-color="#ff7d18"/><stop offset="0.5250" stop-color="#ff510f"/><stop offset="0.5333" stop-color="#fd2e09"/><stop offset="0.5417" stop-color="#e41801"/><stop offset="0.5500" stop-color="#aa0800"/><stop offset="0.5583" stop-color="#350000"/><stop offset="0.5667" stop-color="#130308"/><stop offset="0.5750" stop-color="#060514"/><stop offset="0.6000" stop-color="#080825"/><stop offset="0.6333" stop-color="#0e0e65"/><stop offset="0.6417" stop-color="#101079"/><stop offset="0.7000" stop-color="#1517ba"/><stop offset="0.7250" stop-color="#161bce"/><stop offset="0.8917" stop-color="#1149e7"/><stop offset="1.0000" stop-color="#0e5fee"/></linearGradient><linearGradient id="g116"><stop offset="0.0000" stop-color="#0aa6f7"/><stop offset="0.1500" stop-color="#0a9ef6"/><stop offset="0.2667" stop-color="#0d65ef"/><stop offset="0.3417" stop-color="#152bd9"/><stop offset="0.3667" stop-color="#161ace"/><stop offset="0.4000" stop-color="#111184"/><stop offset="0.4083" stop-color="#0e0e66"/><stop offset="0.4167" stop-color="#0a0a3a"/><stop offset="0.4250" stop-color="#07061d"/><stop offset="0.4333" stop-color="#2a0102"/><stop offset="0.4417" stop-color="#a40600"/><stop offset="0.4500" stop-color="#e11600"/><stop offset="0.4583" stop-color="#fe2f0a"/><stop offset="0.4750" stop-color="#ff8419"/><stop offset="0.4833" stop-color="#ffb526"/><stop offset="0.4917" stop-color="#fec429"/><stop offset="0.5000" stop-color="#ffbf28"/><stop offset="0.5083" stop-color="#ffb125"/><stop offset="0.5167" stop-color="#ff7b17"/><stop offset="0.5250" stop-color="#ff4f0f"/><stop offset="0.5333" stop-color="#fb2d09"/><stop offset="0.5417" stop-color="#e21700"/><stop offset="0.5500" stop-color="#a60700"/><stop offset="0.5583" stop-color="#2f0001"/><stop offset="0.5667" stop-color="#0f0309"/><stop offset="0.5750" stop-color="#060617"/><stop offset="0.6000" stop-color="#080828"/><stop offset="0.6333" stop-color="#0e0e65"/><stop offset="0.6417" stop-color="#101079"/><stop offset="0.6917" stop-color="#1416b2"/><stop offset="0.7250" stop-color="#161bce"/><stop offset="0.8917" stop-color="#1149e7"/><stop offset="1.0000" stop-color="#0e5fee"/></linearGradient><linearGradient id="g117"><stop offset="0.0000" stop-color="#0aa6f7"/><stop offset="0.1500" stop-color="#0a9ef6"/><stop offset="0.2667" stop-color="#0d65ef"/><stop offset="0.3417" stop-color="#152bd9"/><stop offset="0.3667" stop-color="#161ace"/><stop offset="0.4000" stop-color="#111184"/><stop offset="0.4083" stop-color="#0e0e67"/><stop offset="0.4167" stop-color="#0a0a3e"/><stop offset="0.4250" stop-color="#070720"/><stop offset="0.4333" stop-color="#270103"/><stop offset="0.4417" stop-color="#a10500"/><stop offset="0.4500" stop-color="#de1500"/><stop offset="0.4583" stop-color="#fc2e09"/><stop offset="0.4750" stop-color="#ff8219"/><stop offset="0.4833" stop-color="#ffb325"/><stop offset="0.4917" stop-color="#fec329"/><stop offset="0.5000" stop-color="#ffbd28"/><stop offset="0.5083" stop-color="#ffaf24"/><stop offset="0.5167" stop-color="#ff7917"/><stop offset="0.5250" stop-color="#ff4d0f"/><stop offset="0.5333" stop-color="#fa2c08"/><stop offset="0.5417" stop-color="#e11600"/><stop offset="0.5500" stop-color="#a30600"/><stop offset="0.5583" stop-color="#2c0102"/><stop offset="0.5667" stop-color="#0b030a"/><stop offset="0.5750" stop-color="#07061a"/><stop offset="0.6000" stop-color="#09092f"/><stop offset="0.6333" stop-color="#0e0e65"/><stop offset="0.6417" stop-color="#101079"/><stop offset="0.6917" stop-color="#1416b2"/><stop offset="0.7250" stop-color="#161bce"/><stop offset="0.8917" stop-color="#1149e7"/><stop offset="1.0000" stop-color="#0e5fee"/></linearGradient><linearGradient id="g118"><stop offset="0.0000" stop-color="#0aa6f7"/><stop offset="0.1500" stop-color="#0a9ef6"/><stop offset="0.2667" stop-color="#0d65ef"/><stop offset="0.3417" stop-color="#152bd9"/><stop offset="0.3667" stop-color="#161ace"/><stop offset="0.4000" stop-color="#111184"/><stop offset="0.4083" stop-color="#0e0e69"/><stop offset="0.4250" stop-color="#070723"/><stop offset="0.4333" stop-color="#230104"/><stop offset="0.4417" stop-color="#9a0500"/><stop offset="0.4500" stop-color="#da1400"/><stop offset="0.4583" stop-color="#fb2d09"/><stop offset="0.4750" stop-color="#ff7f18"/><stop offset="0.4833" stop-color="#ffb125"/><stop offset="0.4917" stop-color="#fec229"/><stop offset="0.5000" stop-color="#ffbb27"/><stop offset="0.5083" stop-color="#ffac24"/><stop offset="0.5167" stop-color="#ff7716"/><stop offset="0.5250" stop-color="#ff4c0e"/><stop offset="0.5333" stop-color="#f92b08"/><stop offset="0.5417" stop-color="#de1500"/><stop offset="0.5500" stop-color="#9f0500"/><stop offset="0.5583" stop-color="#280103"/><stop offset="0.5667" stop-color="#07040b"/><stop offset="0.5750" stop-color="#07061d"/><stop offset="0.5917" stop-color="#080829"/><stop offset="0.6333" stop-color="#0e0e65"/><stop offset="0.6417" stop-color="#101079"/><stop offset="0.6917" stop-color="#1416b2"/><stop offset="0.7250" stop-color="#161bce"/><stop offset="0.8917" stop-color="#1149e7"/><stop offset="1.0000" stop-color="#0e5fee"/></linearGradient><linearGradient id="g119"><stop offset="0.0000" stop-color="#0aa6f7"/><stop offset="0.1500" stop-color="#0a9ef6"/><stop offset="0.2667" stop-color="#0d65ef"/><stop offset="0.3417" stop-color="#152bd9"/><stop offset="0.3667" stop-color="#161ace"/><stop offset="0.4000" stop-color="#111184"/><stop offset="0.4083" stop-color="#0f0f6a"/><stop offset="0.4250" stop-color="#080826"/><stop offset="0.4333" stop-color="#1f0205"/><stop offset="0.4417" stop-color="#920400"/><stop offset="0.4500" stop-color="#d71300"/><stop offset="0.4583" stop-color="#fa2c08"/><stop offset="0.4750" stop-color="#ff7d18"/><stop offset="0.4833" stop-color="#ffaf24"/><stop offset="0.4917" stop-color="#fec129"/><stop offset="0.5083" stop-color="#ffaa23"/><stop offset="0.5167" stop-color="#ff7516"/><stop offset="0.5250" stop-color="#ff4a0e"/><stop offset="0.5333" stop-color="#f82a08"/><stop offset="0.5417" stop-color="#db1400"/><stop offset="0.5500" stop-color="#970500"/><stop offset="0.5583" stop-color="#240104"/><stop offset="0.5667" stop-color="#05040d"/><stop offset="0.5750" stop-color="#070720"/><stop offset="0.6333" stop-color="#0e0e65"/><stop offset="0.6417" stop-color="#101079"/><stop offset="0.7000" stop-color="#1517ba"/><stop offset="0.7250" stop-color="#161bce"/><stop offset="0.8917" stop-color="#1149e7"/><stop offset="1.0000" stop-color="#0e5fee"/></linearGradient><linearGradient id="g120"><stop offset="0.0000" stop-color="#0aa6f7"/><stop offset="0.1500" stop-color="#0a9ef6"/><stop offset="0.2667" stop-color="#0d65ef"/><stop offset="0.3417" stop-color="#152bd9"/><stop offset="0.3667" stop-color="#161ace"/><stop offset="0.4000" stop-color="#111184"/><stop offset="0.4167" stop-color="#0b0b4a"/><stop offset="0.4250" stop-color="#080829"/><stop offset="0.4333" stop-color="#1b0206"/><stop offset="0.4417" stop-color="#890400"/><stop offset="0.4500" stop-color="#d31200"/><stop offset="0.4583" stop-color="#f92b08"/><stop offset="0.4750" stop-color="#ff7b17"/><stop offset="0.4833" stop-color="#ffad24"/><stop offset="0.4917" stop-color="#ffbf28"/><stop offset="0.5083" stop-color="#ffa823"/><stop offset="0.5167" stop-color="#ff7315"/><stop offset="0.5250" stop-color="#ff480e"/><stop offset="0.5333" stop-color="#f72907"/><stop offset="0.5417" stop-color="#d81400"/><stop offset="0.5500" stop-color="#8f0400"/><stop offset="0.5583" stop-color="#200205"/><stop offset="0.5667" stop-color="#050510"/><stop offset="0.5750" stop-color="#070723"/><stop offset="0.5833" stop-color="#080829"/><stop offset="0.6000" stop-color="#0b0b44"/><stop offset="0.6333" stop-color="#0e0e65"/><stop offset="0.6417" stop-color="#101079"/><stop offset="0.6917" stop-color="#1416b2"/><stop offset="0.7250" stop-color="#161bce"/><stop offset="0.8917" stop-color="#1149e7"/><stop offset="1.0000" stop-color="#0e5fee"/></linearGradient><linearGradient id="g121"><stop offset="0.0000" stop-color="#0aa6f7"/><stop offset="0.1500" stop-color="#0a9ef6"/><stop offset="0.2667" stop-color="#0d65ef"/><stop offset="0.3417" stop-color="#152bd9"/><stop offset="0.3667" stop-color="#161ace"/><stop offset="0.4000" stop-color="#111184"/><stop offset="0.4250" stop-color="#090930"/><stop offset="0.4333" stop-color="#170207"/><stop offset="0.4417" stop-color="#810400"/><stop offset="0.4500" stop-color="#d01200"/><stop offset="0.4583" stop-color="#f82a08"/><stop offset="0.4750" stop-color="#ff7917"/><stop offset="0.4833" stop-color="#ffab23"/><stop offset="0.4917" stop-color="#ffbe28"/><stop offset="0.5083" stop-color="#ffa622"/><stop offset="0.5167" stop-color="#ff7115"/><stop offset="0.5250" stop-color="#ff470e"/><stop offset="0.5333" stop-color="#f62807"/><stop offset="0.5417" stop-color="#d41300"/><stop offset="0.5500" stop-color="#860400"/><stop offset="0.5583" stop-color="#1c0206"/><stop offset="0.5667" stop-color="#060513"/><stop offset="0.5750" stop-color="#080826"/><stop offset="0.6000" stop-color="#0c0c4b"/><stop offset="0.6250" stop-color="#0d0d5a"/><stop offset="0.6333" stop-color="#0e0e65"/><stop offset="0.6417" stop-color="#101079"/><stop offset="0.6917" stop-color="#1416b2"/><stop offset="0.7250" stop-color="#161bce"/><stop offset="0.8917" stop-color="#1149e7"/><stop offset="1.0000" stop-color="#0e5fee"/></linearGradient><linearGradient id="g122"><stop offset="0.0000" stop-color="#0aa6f7"/><stop offset="0.1500" stop-color="#0a9ef6"/><stop offset="0.2667" stop-color="#0d65ef"/><stop offset="0.3417" stop-color="#152bd9"/><stop offset="0.3667" stop-color="#161ace"/><stop offset="0.4000" stop-color="#111184"/><stop offset="0.4250" stop-color="#0a0a37"/><stop offset="0.4333" stop-color="#130308"/><stop offset="0.4417" stop-color="#790300"/><stop offset="0.4500" stop-color="#cc1100"/><stop offset="0.4583" stop-color="#f72907"/><stop offset="0.4750" stop-color="#ff7716"/><stop offset="0.4833" stop-color="#ffa923"/><stop offset="0.4917" stop-color="#ffbc28"/><stop offset="0.5083" stop-color="#ffa422"/><stop offset="0.5167" stop-color="#ff6f14"/><stop offset="0.5250" stop-color="#ff450d"/><stop offset="0.5333" stop-color="#f52707"/><stop offset="0.5417" stop-color="#d11200"/><stop offset="0.5500" stop-color="#7e0300"/><stop offset="0.5583" stop-color="#180207"/><stop offset="0.5667" stop-color="#060516"/><stop offset="0.5833" stop-color="#0a0a37"/><stop offset="0.6000" stop-color="#0c0c52"/><stop offset="0.6250" stop-color="#0d0d5b"/><stop offset="0.6333" stop-color="#0e0e65"/><stop offset="0.6417" stop-color="#101079"/><stop offset="0.6917" stop-color="#1416b2"/><stop offset="0.7250" stop-color="#161bce"/><stop offset="0.8917" stop-color="#1149e7"/><stop offset="1.0000" stop-color="#0e5fee"/></linearGradient><linearGradient id="g123"><stop offset="0.0000" stop-color="#0aa6f7"/><stop offset="0.1500" stop-color="#0a9ef6"/><stop offset="0.2667" stop-color="#0d65ef"/><stop offset="0.3417" stop-color="#152bd9"/><stop offset="0.3667" stop-color="#161ace"/><stop offset="0.4000" stop-color="#111184"/><stop offset="0.4250" stop-color="#0a0a3e"/><stop offset="0.4333" stop-color="#0f0309"/><stop offset="0.4417" stop-color="#710300"/><stop offset="0.4500" stop-color="#c91000"/><stop offset="0.4583" stop-color="#f62807"/><stop offset="0.4667" stop-color="#ff4c0e"/><stop offset="0.4833" stop-color="#ffa622"/><stop offset="0.4917" stop-color="#ffba27"/><stop offset="0.5083" stop-color="#ffa221"/><stop offset="0.5167" stop-color="#ff6d14"/><stop offset="0.5250" stop-color="#ff440d"/><stop offset="0.5333" stop-color="#f42606"/><stop offset="0.5417" stop-color="#cd1100"/><stop offset="0.5500" stop-color="#760300"/><stop offset="0.5583" stop-color="#140308"/><stop offset="0.5667" stop-color="#060619"/><stop offset="0.5750" stop-color="#090931"/><stop offset="0.6000" stop-color="#0d0d59"/><stop offset="0.6250" stop-color="#0d0d5d"/><stop offset="0.6333" stop-color="#0e0e65"/><stop offset="0.6417" stop-color="#101079"/><stop offset="0.6917" stop-color="#1416b2"/><stop offset="0.7250" stop-color="#161bce"/><stop offset="0.8917" stop-color="#1149e7"/><stop offset="1.0000" stop-color="#0e5fee"/></linearGradient><linearGradient id="g124"><stop offset="0.0" stop-color="#1e6efa"/><stop offset="0.15" stop-color="#1e3ceb"/><stop offset="0.3" stop-color="#1919d7"/><stop offset="0.42" stop-color="#140f78"/><stop offset="0.55" stop-color="#0c051e"/><stop offset="0.62" stop-color="#3c0000"/><stop offset="0.7" stop-color="#e10500"/><stop offset="0.8" stop-color="#ff280a"/><stop offset="0.87" stop-color="#ff6e1e"/><stop offset="0.95" stop-color="#f5c83c"/><stop offset="1.0" stop-color="#f0e146"/></linearGradient></defs>
<polyline points="34.4,127.07 35.3,126.73 36.2,126.41 37.1,126.03 38,125.86 38.9,125.55 39.8,125.9 40.7,125.72 41.6,125.18 42.5,124.97 43.4,124.57 44.3,124.79 45.2,124.58 46.1,124.51 47,124.15 47.9,123.81 48.8,123.88 49.7,123.48 50.6,122.59 51.5,121.27 52.4,120.22 53.3,119.66 54.2,118.4 55.1,117.62 56,116.39 56.9,115.56 57.8,114.71 58.7,113.17 59.6,112.45 60.5,112.01 61.4,111 62.3,110.25 63.2,109.99 64.1,109.15 65,108.65 65.9,107.98 66.8,107.64 67.7,106.68 68.6,105.82 69.5,104.48 70.4,103.27 71.3,102.5 72.2,101.53 73.1,100.63 74,99.65 74.9,98.66 75.8,97.45 76.7,96.14 77.6,95.37 78.5,94.03 79.4,93.06 80.3,92 81.2,90.58 82.1,89.26 83,87.04 83.9,84.64 84.8,82.1 85.7,79.54 86.6,76.13 87.5,73.54 88.4,68.98 89.3,63.3 90.2,57.53 91.1,49.54 92,46.58 92.9,47.54 93.8,49.25 94.7,51.45 95.6,53.48 96.5,55.39 97.4,59.18 98.3,62.51 99.2,65.82 100.1,68.89 101,72.16 101.9,74.9 102.8,76.65 103.7,78.22 104.6,80.01 105.5,81 106.4,82.05 107.3,83.13 108.2,84.84 109.1,85.74 110,87.36 110.9,88.64 111.8,89.51 112.7,90.22 113.6,91.44 114.5,92.09 115.4,92.92 116.3,93.88 117.2,94.74 118.1,96.01 119,97.51 119.9,98.9 120.8,99.89 121.7,100.17 122.6,101.18 123.5,102.14 124.4,102.34 125.3,102.36 126.2,102.47 127.1,102.64 128,102.5 128.9,103.08 129.8,104.02 130.7,104.93 131.6,106.19 132.5,106.81 133.4,108.2 134.3,109.06 135.2,109.59 136.1,110.72 137,111.32 137.9,111.75 138.8,112.52 139.7,113.16 140.6,114.33 141.5,115.13 142.4,116.12 143.3,116.38 144.2,117.17 145.1,117.78 146,118.08 146.9,118.68 147.8,119.24 148.7,120.18 149.6,120.94 150.5,121.47 151.4,122.21 152.3,123.02 153.2,123.68 154.1,124.5" fill="none" stroke="#d03535" stroke-width="1.3" stroke-linejoin="round" />
<polyline points="34.4,122.47 35.3,122.35 36.2,121.82 37.1,121.77 38,121.3 38.9,121.01 39.8,120.92 40.7,120.46 41.6,120.42 42.5,120.02 43.4,119.92 44.3,119.75 45.2,119.32 46.1,118.68 47,118.6 47.9,118.33 48.8,117.74 49.7,116.86 50.6,116.06 51.5,115.36 52.4,114.21 53.3,113.81 54.2,112.63 55.1,111.93 56,111.24 56.9,110.48 57.8,109.52 58.7,108.23 59.6,107.51 60.5,106.39 61.4,105.29 62.3,104.43 63.2,103.41 64.1,102.74 65,101.91 65.9,100.89 66.8,99.54 67.7,98.49 68.6,97.53 69.5,96.27 70.4,94.97 71.3,93.78 72.2,92.21 73.1,90.81 74,89.77 74.9,88.39 75.8,87.08 76.7,85.55 77.6,84.21 78.5,83.2 79.4,81.6 80.3,80.72 81.2,79.32 82.1,77.36 83,75.9 83.9,74.09 84.8,69.46 85.7,64.29 86.6,58.92 87.5,52.24 88.4,45.36 89.3,39.82 90.2,34.37 91.1,32.39 92,31.3 92.9,32.68 93.8,34.61 94.7,36.99 95.6,40.75 96.5,45.15 97.4,49.63 98.3,53.34 99.2,56.98 100.1,60.35 101,63.84 101.9,67.68 102.8,70.02 103.7,72.11 104.6,74.27 105.5,75.78 106.4,77.5 107.3,78.94 108.2,80.37 109.1,81.26 110,82.61 110.9,83.72 111.8,84.72 112.7,85.42 113.6,86.69 114.5,87.49 115.4,88.24 116.3,88.76 117.2,89.37 118.1,89.99 119,91.06 119.9,91.81 120.8,91.91 121.7,91.61 122.6,91.38 123.5,91.7 124.4,91.62 125.3,91.41 126.2,91.16 127.1,91.28 128,91.39 128.9,92.03 129.8,93.32 130.7,94.28 131.6,95.48 132.5,96.55 133.4,97.42 134.3,98.41 135.2,99.54 136.1,100.56 137,101.4 137.9,102.62 138.8,103.11 139.7,103.81 140.6,104.49 141.5,105.28 142.4,106.37 143.3,107.14 144.2,108.05 145.1,108.48 146,109.3 146.9,109.98 147.8,110.5 148.7,111.05 149.6,111.46 150.5,112.11 151.4,112.74 152.3,113.33 153.2,113.96 154.1,114.4" fill="none" stroke="#2828b8" stroke-width="1.3" stroke-linejoin="round" />
<rect x="33.6" y="19" width="120.9" height="120.5" fill="none" stroke="#000" stroke-width="1.0" />
<line x1="34.4" y1="139.5" x2="34.4" y2="136.5" stroke="#000" stroke-width="1" />
<line x1="34.4" y1="19" x2="34.4" y2="22" stroke="#000" stroke-width="1" />
<text x="34.4" y="151.7" font-size="9.5" text-anchor="middle" font-weight="normal" fill="#000" stroke="#000" stroke-width="0.35" >-10</text>
<line x1="64.4" y1="139.5" x2="64.4" y2="136.5" stroke="#000" stroke-width="1" />
<line x1="64.4" y1="19" x2="64.4" y2="22" stroke="#000" stroke-width="1" />
<text x="64.4" y="151.7" font-size="9.5" text-anchor="middle" font-weight="normal" fill="#000" stroke="#000" stroke-width="0.35" >-5</text>
<line x1="94.4" y1="139.5" x2="94.4" y2="136.5" stroke="#000" stroke-width="1" />
<line x1="94.4" y1="19" x2="94.4" y2="22" stroke="#000" stroke-width="1" />
<text x="94.4" y="151.7" font-size="9.5" text-anchor="middle" font-weight="normal" fill="#000" stroke="#000" stroke-width="0.35" >0</text>
<line x1="124.4" y1="139.5" x2="124.4" y2="136.5" stroke="#000" stroke-width="1" />
<line x1="124.4" y1="19" x2="124.4" y2="22" stroke="#000" stroke-width="1" />
<text x="124.4" y="151.7" font-size="9.5" text-anchor="middle" font-weight="normal" fill="#000" stroke="#000" stroke-width="0.35" >5</text>
<line x1="154.4" y1="139.5" x2="154.4" y2="136.5" stroke="#000" stroke-width="1" />
<line x1="154.4" y1="19" x2="154.4" y2="22" stroke="#000" stroke-width="1" />
<text x="154.4" y="151.7" font-size="9.5" text-anchor="middle" font-weight="normal" fill="#000" stroke="#000" stroke-width="0.35" >10</text>
<line x1="33.6" y1="139.5" x2="36.6" y2="139.5" stroke="#000" stroke-width="1" />
<line x1="154.5" y1="139.5" x2="151.5" y2="139.5" stroke="#000" stroke-width="1" />
<text x="29.7" y="142.8" font-size="9.5" text-anchor="end" font-weight="normal" fill="#000" stroke="#000" stroke-width="0.35" >0</text>
<line x1="33.6" y1="105.2" x2="36.6" y2="105.2" stroke="#000" stroke-width="1" />
<line x1="154.5" y1="105.2" x2="151.5" y2="105.2" stroke="#000" stroke-width="1" />
<text x="29.7" y="108.5" font-size="9.5" text-anchor="end" font-weight="normal" fill="#000" stroke="#000" stroke-width="0.35" >10</text>
<line x1="33.6" y1="70.9" x2="36.6" y2="70.9" stroke="#000" stroke-width="1" />
<line x1="154.5" y1="70.9" x2="151.5" y2="70.9" stroke="#000" stroke-width="1" />
<text x="29.7" y="74.2" font-size="9.5" text-anchor="end" font-weight="normal" fill="#000" stroke="#000" stroke-width="0.35" >20</text>
<line x1="33.6" y1="36.6" x2="36.6" y2="36.6" stroke="#000" stroke-width="1" />
<line x1="154.5" y1="36.6" x2="151.5" y2="36.6" stroke="#000" stroke-width="1" />
<text x="29.7" y="39.9" font-size="9.5" text-anchor="end" font-weight="normal" fill="#000" stroke="#000" stroke-width="0.35" >30</text>
<text x="95.6" y="168" font-size="10" text-anchor="middle" font-weight="normal" fill="#000" stroke="#000" stroke-width="0.35" >Time (ps)</text>
<text x="9" y="78.7" font-size="10" text-anchor="middle" font-weight="normal" fill="#000" stroke="#000" stroke-width="0.35" transform="rotate(-90 9 78.7)">I (pA)</text>
<text x="0" y="17.6" font-size="10.5" text-anchor="start" font-weight="normal" fill="#000" stroke="#000" stroke-width="0.35" >(a)</text>
<text x="37" y="15" font-size="9.7" text-anchor="start" font-weight="bold" fill="#000" stroke="#000" stroke-width="0.3" >300 K</text>
<line x1="36.1" y1="31" x2="45" y2="31" stroke="#2828b8" stroke-width="1.1" />
<line x1="36.1" y1="40.3" x2="45" y2="40.3" stroke="#d03535" stroke-width="1.1" />
<text x="47.8" y="34" font-size="8.6" text-anchor="start" font-weight="normal" fill="#000" stroke="#000" stroke-width="0.35" >V</text>
<text x="54.4" y="36" font-size="6.0" text-anchor="start" font-weight="normal" fill="#000" stroke="#000" stroke-width="0.22" >g</text>
<text x="61.4" y="33.8" font-size="7.4" text-anchor="start" font-weight="normal" fill="#000" stroke="#000" stroke-width="0.35" >=</text>
<text x="68.4" y="34" font-size="8.2" text-anchor="start" font-weight="normal" fill="#000" stroke="#000" stroke-width="0.35" >-4 V</text>
<text x="47.8" y="43.2" font-size="8.6" text-anchor="start" font-weight="normal" fill="#000" stroke="#000" stroke-width="0.35" >V</text>
<text x="54.4" y="45.2" font-size="6.0" text-anchor="start" font-weight="normal" fill="#000" stroke="#000" stroke-width="0.22" >g</text>
<text x="61.4" y="43" font-size="7.4" text-anchor="start" font-weight="normal" fill="#000" stroke="#000" stroke-width="0.35" >=</text>
<text x="68.4" y="43.2" font-size="8.2" text-anchor="start" font-weight="normal" fill="#000" stroke="#000" stroke-width="0.35" >4 V</text>
<rect x="107" y="0" width="73" height="68" fill="white" stroke="none" stroke-width="1" />
<polyline points="137.6,7.18 138.77,10.94 139.94,18.28 140.72,20.74 142.28,20.43 143.45,21.8 145.4,23.75 147.35,26.07 149.3,28.2 151.25,30.07 153.2,33.22 154.37,36.86 155.54,37.77 157.1,35.32 158.27,39.9 160.22,37.69 161.78,40.86 163.73,38.87 165.68,42.74 168.02,41.71 169.97,40.75 171.92,42.01 173.87,40.22 175.43,41.65 176.6,40.32" fill="none" stroke="#2828b8" stroke-width="1.4" stroke-linejoin="round" />
<circle cx="137.6" cy="7.18" r="1.45" fill="#2828b8"/>
<circle cx="138.77" cy="10.94" r="1.45" fill="#2828b8"/>
<circle cx="139.94" cy="18.28" r="1.45" fill="#2828b8"/>
<circle cx="140.72" cy="20.74" r="1.45" fill="#2828b8"/>
<circle cx="142.28" cy="20.43" r="1.45" fill="#2828b8"/>
<circle cx="143.45" cy="21.8" r="1.45" fill="#2828b8"/>
<circle cx="145.4" cy="23.75" r="1.45" fill="#2828b8"/>
<circle cx="147.35" cy="26.07" r="1.45" fill="#2828b8"/>
<circle cx="149.3" cy="28.2" r="1.45" fill="#2828b8"/>
<circle cx="151.25" cy="30.07" r="1.45" fill="#2828b8"/>
<circle cx="153.2" cy="33.22" r="1.45" fill="#2828b8"/>
<circle cx="154.37" cy="36.86" r="1.45" fill="#2828b8"/>
<circle cx="155.54" cy="37.77" r="1.45" fill="#2828b8"/>
<circle cx="157.1" cy="35.32" r="1.45" fill="#2828b8"/>
<circle cx="158.27" cy="39.9" r="1.45" fill="#2828b8"/>
<circle cx="160.22" cy="37.69" r="1.45" fill="#2828b8"/>
<circle cx="161.78" cy="40.86" r="1.45" fill="#2828b8"/>
<circle cx="163.73" cy="38.87" r="1.45" fill="#2828b8"/>
<circle cx="165.68" cy="42.74" r="1.45" fill="#2828b8"/>
<circle cx="168.02" cy="41.71" r="1.45" fill="#2828b8"/>
<circle cx="169.97" cy="40.75" r="1.45" fill="#2828b8"/>
<circle cx="171.92" cy="42.01" r="1.45" fill="#2828b8"/>
<circle cx="173.87" cy="40.22" r="1.45" fill="#2828b8"/>
<circle cx="175.43" cy="41.65" r="1.45" fill="#2828b8"/>
<circle cx="176.6" cy="40.32" r="1.45" fill="#2828b8"/>
<polyline points="137.6,8.08 138.77,11.44 139.94,17.89 140.72,20.09 142.28,20.69 143.45,22.64 145.4,24.57 147.35,25.41 149.3,28.63 151.25,30.53 153.2,32.7 154.37,36.47 155.54,41 157.1,40.2 159.05,42.5 161,44.98 162.95,42.5 164.9,45.33 166.85,43.89 168.8,45.49 170.75,44.95 172.7,45.08 174.65,44.84 176.6,44.43" fill="none" stroke="#d03535" stroke-width="1.4" stroke-linejoin="round" />
<circle cx="137.6" cy="8.08" r="1.45" fill="#d03535"/>
<circle cx="138.77" cy="11.44" r="1.45" fill="#d03535"/>
<circle cx="139.94" cy="17.89" r="1.45" fill="#d03535"/>
<circle cx="140.72" cy="20.09" r="1.45" fill="#d03535"/>
<circle cx="142.28" cy="20.69" r="1.45" fill="#d03535"/>
<circle cx="143.45" cy="22.64" r="1.45" fill="#d03535"/>
<circle cx="145.4" cy="24.57" r="1.45" fill="#d03535"/>
<circle cx="147.35" cy="25.41" r="1.45" fill="#d03535"/>
<circle cx="149.3" cy="28.63" r="1.45" fill="#d03535"/>
<circle cx="151.25" cy="30.53" r="1.45" fill="#d03535"/>
<circle cx="153.2" cy="32.7" r="1.45" fill="#d03535"/>
<circle cx="154.37" cy="36.47" r="1.45" fill="#d03535"/>
<circle cx="155.54" cy="41" r="1.45" fill="#d03535"/>
<circle cx="157.1" cy="40.2" r="1.45" fill="#d03535"/>
<circle cx="159.05" cy="42.5" r="1.45" fill="#d03535"/>
<circle cx="161" cy="44.98" r="1.45" fill="#d03535"/>
<circle cx="162.95" cy="42.5" r="1.45" fill="#d03535"/>
<circle cx="164.9" cy="45.33" r="1.45" fill="#d03535"/>
<circle cx="166.85" cy="43.89" r="1.45" fill="#d03535"/>
<circle cx="168.8" cy="45.49" r="1.45" fill="#d03535"/>
<circle cx="170.75" cy="44.95" r="1.45" fill="#d03535"/>
<circle cx="172.7" cy="45.08" r="1.45" fill="#d03535"/>
<circle cx="174.65" cy="44.84" r="1.45" fill="#d03535"/>
<circle cx="176.6" cy="44.43" r="1.45" fill="#d03535"/>
<rect x="134.6" y="4" width="43.5" height="44.4" fill="none" stroke="#000" stroke-width="0.9" />
<line x1="137.6" y1="48.4" x2="137.6" y2="46.4" stroke="#000" stroke-width="0.8" />
<line x1="137.6" y1="4" x2="137.6" y2="6" stroke="#000" stroke-width="0.8" />
<text x="137.6" y="56.2" font-size="6.5" text-anchor="middle" font-weight="normal" fill="#000" stroke="#000" stroke-width="0.22" >0</text>
<line x1="157.1" y1="48.4" x2="157.1" y2="46.4" stroke="#000" stroke-width="0.8" />
<line x1="157.1" y1="4" x2="157.1" y2="6" stroke="#000" stroke-width="0.8" />
<text x="157.1" y="56.2" font-size="6.5" text-anchor="middle" font-weight="normal" fill="#000" stroke="#000" stroke-width="0.22" >0.5</text>
<line x1="176.6" y1="48.4" x2="176.6" y2="46.4" stroke="#000" stroke-width="0.8" />
<line x1="176.6" y1="4" x2="176.6" y2="6" stroke="#000" stroke-width="0.8" />
<text x="176.6" y="56.2" font-size="6.5" text-anchor="middle" font-weight="normal" fill="#000" stroke="#000" stroke-width="0.22" >1.0</text>
<line x1="134.6" y1="9" x2="136.6" y2="9" stroke="#000" stroke-width="0.8" />
<line x1="178.1" y1="9" x2="176.1" y2="9" stroke="#000" stroke-width="0.8" />
<text x="130.4" y="11.4" font-size="6.9" text-anchor="end" font-weight="normal" fill="#000" stroke="#000" stroke-width="0.22" >10<tspan font-size="4.6" dy="-3.2">0</tspan></text>
<line x1="134.6" y1="21.47" x2="136.6" y2="21.47" stroke="#000" stroke-width="0.8" />
<line x1="178.1" y1="21.47" x2="176.1" y2="21.47" stroke="#000" stroke-width="0.8" />
<text x="130.4" y="23.87" font-size="6.9" text-anchor="end" font-weight="normal" fill="#000" stroke="#000" stroke-width="0.22" >10<tspan font-size="4.6" dy="-3.2">-1</tspan></text>
<line x1="134.6" y1="33.94" x2="136.6" y2="33.94" stroke="#000" stroke-width="0.8" />
<line x1="178.1" y1="33.94" x2="176.1" y2="33.94" stroke="#000" stroke-width="0.8" />
<text x="130.4" y="36.34" font-size="6.9" text-anchor="end" font-weight="normal" fill="#000" stroke="#000" stroke-width="0.22" >10<tspan font-size="4.6" dy="-3.2">-2</tspan></text>
<line x1="134.6" y1="46.41" x2="136.6" y2="46.41" stroke="#000" stroke-width="0.8" />
<line x1="178.1" y1="46.41" x2="176.1" y2="46.41" stroke="#000" stroke-width="0.8" />
<text x="130.4" y="48.81" font-size="6.9" text-anchor="end" font-weight="normal" fill="#000" stroke="#000" stroke-width="0.22" >10<tspan font-size="4.6" dy="-3.2">-3</tspan></text>
<text x="157.1" y="64.6" font-size="6.7" text-anchor="middle" font-weight="normal" fill="#000" stroke="#000" stroke-width="0.22" >F (THz)</text>
<text x="114" y="26.2" font-size="6.3" text-anchor="middle" font-weight="normal" fill="#000" stroke="#000" stroke-width="0.22" transform="rotate(-90 114 26.2)">Amplitude (a.u.)</text>
<rect x="223" y="78.4" width="42.6" height="60.1" fill="#d2d2d2" stroke="none" stroke-width="1" />
<polyline points="226.6,106.7 227.1,106.7 227.6,106.71 228.1,106.71 228.6,106.71 229.1,106.72 229.6,106.72 230.1,106.73 230.6,106.73 231.1,106.73 231.6,106.74 232.1,106.74 232.6,106.74 233.1,106.75 233.6,106.75 234.1,106.76 234.6,106.76 235.1,106.76 235.6,106.77 236.1,106.77 236.6,106.77 237.1,106.78 237.6,106.78 238.1,106.79 238.6,106.79 239.1,106.79 239.6,106.8 240.1,106.79 240.6,106.76 241.1,106.73 241.6,106.7 242.1,106.67 242.6,106.64 243.1,106.61 243.6,106.58 244.1,106.55 244.6,106.52 245.1,106.46 245.6,106.28 246.1,106.09 246.6,105.91 247.1,105.72 247.6,105.54 248.1,105.35 248.6,105.16 249.1,104.98 249.6,104.79 250.1,104.61 250.6,104.42 251.1,104.24 251.6,103.89 252.1,103.51 252.6,103.12 253.1,102.74 253.6,102.35 254.1,101.96 254.6,101.58 255.1,101.19 255.6,100.81 256.1,100.35 256.6,99.6 257.1,98.85 257.6,98.1 258.1,97.35 258.6,96.6 259.1,95.79 259.6,94.75 260.1,93.71 260.6,92.67 261.1,91.62 261.6,90.52 262.1,89.33 262.6,88.14 263.1,86.95 263.6,85.81 264.1,84.86 264.6,83.91 265.1,82.96 265.6,82.12 266.1,81.71 266.6,81.29 267.1,80.88 267.6,81.1 268.1,81.48 268.6,81.85 269.1,82.88 269.6,84.35 270.1,85.82 270.6,87.38 271.1,89.26 271.6,91.15 272.1,93.04 272.6,94.92 273.1,96.81 273.6,98.7 274.1,100.6 274.6,102.49 275.1,104.29 275.6,105.71 276.1,107.14 276.6,108.57 277.1,110 277.6,111.43 278.1,112.52 278.6,113.38 279.1,114.23 279.6,115.09 280.1,115.95 280.6,116.81 281.1,117.59 281.6,118.05 282.1,118.5 282.6,118.95 283.1,119.41 283.6,119.86 284.1,120.32 284.6,120.77 285.1,121.23 285.6,121.61 286.1,121.89 286.6,122.16 287.1,122.44 287.6,122.72 288.1,122.99 288.6,123.27 289.1,123.55 289.6,123.83 290.1,124.1 290.6,124.38 291.1,124.64 291.6,124.84 292.1,125.04 292.6,125.24 293.1,125.44 293.6,125.64 294.1,125.84 294.6,126.04 295.1,126.24 295.6,126.44 296.1,126.64 296.6,126.84 297.1,127.04 297.6,127.24 298.1,127.43 298.6,127.6 299.1,127.76 299.6,127.92 300.1,128.08 300.6,128.25 301.1,128.41 301.6,128.57 302.1,128.73 302.6,128.9 303.1,129.06 303.6,129.22 304.1,129.39 304.6,129.55 305.1,129.71 305.6,129.87 306.1,130.04 306.6,130.2 307.1,130.36 307.6,130.53 308.1,130.69 308.6,130.85 309.1,131.01 309.6,131.18 310.1,131.34 310.6,131.5 311.1,131.65 311.6,131.79 312.1,131.92 312.6,132.06 313.1,132.19 313.6,132.33 314.1,132.46 314.6,132.6 315.1,132.74 315.6,132.87 316.1,133.01 316.6,133.14 317.1,133.28 317.6,133.41 318.1,133.55 318.6,133.68 319.1,133.82 319.6,133.95 320.1,134.09 320.6,134.22 321.1,134.36 321.6,134.49 322.1,134.62 322.6,134.73 323.1,134.84 323.6,134.95 324.1,135.06 324.6,135.17 325.1,135.28 325.6,135.39 326.1,135.5 326.6,135.61 327.1,135.72 327.6,135.83 328.1,135.94 328.6,136.05 329.1,136.16 329.6,136.27 330.1,136.38 330.6,136.49 331.1,136.61 331.6,136.72 332.1,136.83 332.6,136.94 333.1,137.05 333.6,137.16 334.1,137.25 334.6,137.35 335.1,137.44 335.6,137.53" fill="none" stroke="#000" stroke-width="1.2" stroke-linejoin="round" />
<circle cx="224.2" cy="41.39" r="1.75" fill="white" stroke="#222" stroke-width="0.75"/>
<circle cx="226.65" cy="39.47" r="1.75" fill="white" stroke="#222" stroke-width="0.75"/>
<circle cx="229.1" cy="39.26" r="1.75" fill="white" stroke="#222" stroke-width="0.75"/>
<circle cx="231.55" cy="38.95" r="1.75" fill="white" stroke="#222" stroke-width="0.75"/>
<circle cx="234" cy="39.37" r="1.75" fill="white" stroke="#222" stroke-width="0.75"/>
<circle cx="236.45" cy="39.6" r="1.75" fill="white" stroke="#222" stroke-width="0.75"/>
<circle cx="238.9" cy="38.83" r="1.75" fill="white" stroke="#222" stroke-width="0.75"/>
<circle cx="241.35" cy="37.89" r="1.75" fill="white" stroke="#222" stroke-width="0.75"/>
<circle cx="243.8" cy="35.73" r="1.75" fill="white" stroke="#222" stroke-width="0.75"/>
<circle cx="246.25" cy="33.91" r="1.75" fill="white" stroke="#222" stroke-width="0.75"/>
<circle cx="248.7" cy="34.29" r="1.75" fill="white" stroke="#222" stroke-width="0.75"/>
<circle cx="251.15" cy="34.45" r="1.75" fill="white" stroke="#222" stroke-width="0.75"/>
<circle cx="253.6" cy="30.01" r="1.75" fill="white" stroke="#222" stroke-width="0.75"/>
<circle cx="256.05" cy="29.37" r="1.75" fill="white" stroke="#222" stroke-width="0.75"/>
<circle cx="258.5" cy="26.79" r="1.75" fill="white" stroke="#222" stroke-width="0.75"/>
<circle cx="260.95" cy="23.73" r="1.75" fill="white" stroke="#222" stroke-width="0.75"/>
<circle cx="263.4" cy="23.02" r="1.75" fill="white" stroke="#222" stroke-width="0.75"/>
<circle cx="265.85" cy="21.65" r="1.75" fill="white" stroke="#222" stroke-width="0.75"/>
<circle cx="268.3" cy="20.32" r="1.75" fill="white" stroke="#222" stroke-width="0.75"/>
<circle cx="270.75" cy="19.67" r="1.75" fill="white" stroke="#222" stroke-width="0.75"/>
<circle cx="273.2" cy="23.1" r="1.75" fill="white" stroke="#222" stroke-width="0.75"/>
<circle cx="275.65" cy="28.21" r="1.75" fill="white" stroke="#222" stroke-width="0.75"/>
<circle cx="278.1" cy="32.31" r="1.75" fill="white" stroke="#222" stroke-width="0.75"/>
<circle cx="280.55" cy="33.3" r="1.75" fill="white" stroke="#222" stroke-width="0.75"/>
<circle cx="283" cy="37.55" r="1.75" fill="white" stroke="#222" stroke-width="0.75"/>
<circle cx="285.45" cy="39.68" r="1.75" fill="white" stroke="#222" stroke-width="0.75"/>
<circle cx="287.9" cy="42.73" r="1.75" fill="white" stroke="#222" stroke-width="0.75"/>
<circle cx="290.35" cy="48.79" r="1.75" fill="white" stroke="#222" stroke-width="0.75"/>
<circle cx="292.8" cy="51.26" r="1.75" fill="white" stroke="#222" stroke-width="0.75"/>
<circle cx="295.25" cy="52.9" r="1.75" fill="white" stroke="#222" stroke-width="0.75"/>
<circle cx="297.7" cy="54.14" r="1.75" fill="white" stroke="#222" stroke-width="0.75"/>
<circle cx="300.15" cy="56.47" r="1.75" fill="white" stroke="#222" stroke-width="0.75"/>
<circle cx="302.6" cy="58.31" r="1.75" fill="white" stroke="#222" stroke-width="0.75"/>
<circle cx="305.05" cy="59.74" r="1.75" fill="white" stroke="#222" stroke-width="0.75"/>
<circle cx="307.5" cy="60.8" r="1.75" fill="white" stroke="#222" stroke-width="0.75"/>
<circle cx="309.95" cy="61.55" r="1.75" fill="white" stroke="#222" stroke-width="0.75"/>
<circle cx="312.4" cy="63.21" r="1.75" fill="white" stroke="#222" stroke-width="0.75"/>
<circle cx="314.85" cy="64.52" r="1.75" fill="white" stroke="#222" stroke-width="0.75"/>
<circle cx="317.3" cy="65.76" r="1.75" fill="white" stroke="#222" stroke-width="0.75"/>
<circle cx="319.75" cy="67.24" r="1.75" fill="white" stroke="#222" stroke-width="0.75"/>
<circle cx="322.2" cy="68.45" r="1.75" fill="white" stroke="#222" stroke-width="0.75"/>
<circle cx="324.65" cy="66.4" r="1.75" fill="white" stroke="#222" stroke-width="0.75"/>
<circle cx="327.1" cy="65.4" r="1.75" fill="white" stroke="#222" stroke-width="0.75"/>
<circle cx="329.55" cy="69.12" r="1.75" fill="white" stroke="#222" stroke-width="0.75"/>
<circle cx="332" cy="72.42" r="1.75" fill="white" stroke="#222" stroke-width="0.75"/>
<circle cx="334.45" cy="74.38" r="1.75" fill="white" stroke="#222" stroke-width="0.75"/>
<rect x="223" y="16.5" width="116" height="122" fill="none" stroke="#000" stroke-width="1.0" />
<line x1="223" y1="78.4" x2="339" y2="78.4" stroke="#000" stroke-width="1.0" />
<line x1="226.8" y1="138.5" x2="226.8" y2="136" stroke="#000" stroke-width="1" />
<line x1="226.8" y1="78.4" x2="226.8" y2="80.9" stroke="#000" stroke-width="1" />
<line x1="226.8" y1="78.4" x2="226.8" y2="75.9" stroke="#000" stroke-width="1" />
<line x1="226.8" y1="16.5" x2="226.8" y2="19" stroke="#000" stroke-width="1" />
<text x="226.8" y="150.5" font-size="9" text-anchor="middle" font-weight="normal" fill="#000" stroke="#000" stroke-width="0.35" >-4</text>
<line x1="254" y1="138.5" x2="254" y2="136" stroke="#000" stroke-width="1" />
<line x1="254" y1="78.4" x2="254" y2="80.9" stroke="#000" stroke-width="1" />
<line x1="254" y1="78.4" x2="254" y2="75.9" stroke="#000" stroke-width="1" />
<line x1="254" y1="16.5" x2="254" y2="19" stroke="#000" stroke-width="1" />
<text x="254" y="150.5" font-size="9" text-anchor="middle" font-weight="normal" fill="#000" stroke="#000" stroke-width="0.35" >-2</text>
<line x1="281.2" y1="138.5" x2="281.2" y2="136" stroke="#000" stroke-width="1" />
<line x1="281.2" y1="78.4" x2="281.2" y2="80.9" stroke="#000" stroke-width="1" />
<line x1="281.2" y1="78.4" x2="281.2" y2="75.9" stroke="#000" stroke-width="1" />
<line x1="281.2" y1="16.5" x2="281.2" y2="19" stroke="#000" stroke-width="1" />
<text x="281.2" y="150.5" font-size="9" text-anchor="middle" font-weight="normal" fill="#000" stroke="#000" stroke-width="0.35" >0</text>
<line x1="308.4" y1="138.5" x2="308.4" y2="136" stroke="#000" stroke-width="1" />
<line x1="308.4" y1="78.4" x2="308.4" y2="80.9" stroke="#000" stroke-width="1" />
<line x1="308.4" y1="78.4" x2="308.4" y2="75.9" stroke="#000" stroke-width="1" />
<line x1="308.4" y1="16.5" x2="308.4" y2="19" stroke="#000" stroke-width="1" />
<text x="308.4" y="150.5" font-size="9" text-anchor="middle" font-weight="normal" fill="#000" stroke="#000" stroke-width="0.35" >2</text>
<line x1="335.6" y1="138.5" x2="335.6" y2="136" stroke="#000" stroke-width="1" />
<line x1="335.6" y1="78.4" x2="335.6" y2="80.9" stroke="#000" stroke-width="1" />
<line x1="335.6" y1="78.4" x2="335.6" y2="75.9" stroke="#000" stroke-width="1" />
<line x1="335.6" y1="16.5" x2="335.6" y2="19" stroke="#000" stroke-width="1" />
<text x="335.6" y="150.5" font-size="9" text-anchor="middle" font-weight="normal" fill="#000" stroke="#000" stroke-width="0.35" >4</text>
<line x1="223" y1="63.4" x2="225.5" y2="63.4" stroke="#000" stroke-width="1" />
<line x1="339" y1="63.4" x2="336.5" y2="63.4" stroke="#000" stroke-width="1" />
<text x="219" y="66.6" font-size="9" text-anchor="end" font-weight="normal" fill="#000" stroke="#000" stroke-width="0.35" >28</text>
<line x1="223" y1="48.8" x2="225.5" y2="48.8" stroke="#000" stroke-width="1" />
<line x1="339" y1="48.8" x2="336.5" y2="48.8" stroke="#000" stroke-width="1" />
<text x="219" y="52" font-size="9" text-anchor="end" font-weight="normal" fill="#000" stroke="#000" stroke-width="0.35" >30</text>
<line x1="223" y1="34.2" x2="225.5" y2="34.2" stroke="#000" stroke-width="1" />
<line x1="339" y1="34.2" x2="336.5" y2="34.2" stroke="#000" stroke-width="1" />
<text x="219" y="37.4" font-size="9" text-anchor="end" font-weight="normal" fill="#000" stroke="#000" stroke-width="0.35" >32</text>
<line x1="223" y1="19.6" x2="225.5" y2="19.6" stroke="#000" stroke-width="1" />
<line x1="339" y1="19.6" x2="336.5" y2="19.6" stroke="#000" stroke-width="1" />
<text x="219" y="22.8" font-size="9" text-anchor="end" font-weight="normal" fill="#000" stroke="#000" stroke-width="0.35" >34</text>
<line x1="223" y1="130.88" x2="225.5" y2="130.88" stroke="#000" stroke-width="1" />
<line x1="339" y1="130.88" x2="336.5" y2="130.88" stroke="#000" stroke-width="1" />
<text x="219" y="134.08" font-size="9" text-anchor="end" font-weight="normal" fill="#000" stroke="#000" stroke-width="0.35" >1.6</text>
<line x1="223" y1="114.32" x2="225.5" y2="114.32" stroke="#000" stroke-width="1" />
<line x1="339" y1="114.32" x2="336.5" y2="114.32" stroke="#000" stroke-width="1" />
<text x="219" y="117.52" font-size="9" text-anchor="end" font-weight="normal" fill="#000" stroke="#000" stroke-width="0.35" >2.0</text>
<line x1="223" y1="97.76" x2="225.5" y2="97.76" stroke="#000" stroke-width="1" />
<line x1="339" y1="97.76" x2="336.5" y2="97.76" stroke="#000" stroke-width="1" />
<text x="219" y="100.96" font-size="9" text-anchor="end" font-weight="normal" fill="#000" stroke="#000" stroke-width="0.35" >2.4</text>
<line x1="223" y1="81.2" x2="225.5" y2="81.2" stroke="#000" stroke-width="1" />
<line x1="339" y1="81.2" x2="336.5" y2="81.2" stroke="#000" stroke-width="1" />
<text x="219" y="84.4" font-size="9" text-anchor="end" font-weight="normal" fill="#000" stroke="#000" stroke-width="0.35" >2.8</text>
<text x="198.5" y="46.5" font-size="9" text-anchor="middle" font-weight="normal" fill="#000" stroke="#000" stroke-width="0.35" transform="rotate(-90 198.5 46.5)">I (pA)</text>
<text x="198.5" y="108.5" font-size="9" text-anchor="middle" font-weight="normal" fill="#000" stroke="#000" stroke-width="0.35" transform="rotate(-90 198.5 108.5)">R (kΩ)</text>
<text x="185" y="21.3" font-size="10.5" text-anchor="start" font-weight="normal" fill="#000" stroke="#000" stroke-width="0.35" >(b)</text>
<text x="185" y="85" font-size="10.5" text-anchor="start" font-weight="normal" fill="#000" stroke="#000" stroke-width="0.35" >(c)</text>
<text x="252" y="56.5" font-size="9.2" text-anchor="middle" font-weight="normal" fill="#000" stroke="#000" stroke-width="0.35" >24%</text>
<line x1="269" y1="26.3" x2="269" y2="71.8" stroke="#000" stroke-width="1.1" />
<path d="M266.6,31.1 L269,23.3 L271.4,31.1 L269,29.9 Z" fill="#000"/>
<path d="M266.6,67 L269,74.8 L271.4,67 L269,68.2 Z" fill="#000"/>
<circle cx="225.3" cy="18.5" r="1.75" fill="white" stroke="#222" stroke-width="0.75"/>
<text x="247.4" y="125.5" font-size="9.5" text-anchor="middle" font-weight="bold" fill="#000" stroke="#000" stroke-width="0.3" >npn</text>
<text x="309.6" y="126.5" font-size="9.5" text-anchor="middle" font-weight="bold" fill="#000" stroke="#000" stroke-width="0.3" >nnn</text>
<text x="266.7" y="167.3" font-size="9.2" text-anchor="start" font-weight="normal" fill="#000" stroke="#000" stroke-width="0.35" >V</text>
<text x="272.9" y="169.9" font-size="6.2" text-anchor="start" font-weight="normal" fill="#000" stroke="#000" stroke-width="0.22" >g</text>
<text x="279.7" y="167.3" font-size="9.2" text-anchor="start" font-weight="normal" fill="#000" stroke="#000" stroke-width="0.35" >(V)</text>
<rect x="393.4" y="15" width="121.6" height="2" fill="url(#g1)" shape-rendering="crispEdges"/>
<rect x="393.4" y="17" width="121.6" height="2" fill="url(#g2)" shape-rendering="crispEdges"/>
<rect x="393.4" y="19" width="121.6" height="2" fill="url(#g3)" shape-rendering="crispEdges"/>
<rect x="393.4" y="21" width="121.6" height="2" fill="url(#g4)" shape-rendering="crispEdges"/>
<rect x="393.4" y="23" width="121.6" height="2" fill="url(#g5)" shape-rendering="crispEdges"/>
<rect x="393.4" y="25" width="121.6" height="2" fill="url(#g6)" shape-rendering="crispEdges"/>
<rect x="393.4" y="27" width="121.6" height="2" fill="url(#g7)" shape-rendering="crispEdges"/>
<rect x="393.4" y="29" width="121.6" height="2" fill="url(#g8)" shape-rendering="crispEdges"/>
<rect x="393.4" y="31" width="121.6" height="2" fill="url(#g9)" shape-rendering="crispEdges"/>
<rect x="393.4" y="33" width="121.6" height="2" fill="url(#g10)" shape-rendering="crispEdges"/>
<rect x="393.4" y="35" width="121.6" height="2" fill="url(#g11)" shape-rendering="crispEdges"/>
<rect x="393.4" y="37" width="121.6" height="2" fill="url(#g12)" shape-rendering="crispEdges"/>
<rect x="393.4" y="39" width="121.6" height="2" fill="url(#g13)" shape-rendering="crispEdges"/>
<rect x="393.4" y="41" width="121.6" height="2" fill="url(#g14)" shape-rendering="crispEdges"/>
<rect x="393.4" y="43" width="121.6" height="2" fill="url(#g15)" shape-rendering="crispEdges"/>
<rect x="393.4" y="45" width="121.6" height="2" fill="url(#g16)" shape-rendering="crispEdges"/>
<rect x="393.4" y="47" width="121.6" height="2" fill="url(#g17)" shape-rendering="crispEdges"/>
<rect x="393.4" y="49" width="121.6" height="2" fill="url(#g18)" shape-rendering="crispEdges"/>
<rect x="393.4" y="51" width="121.6" height="2" fill="url(#g19)" shape-rendering="crispEdges"/>
<rect x="393.4" y="53" width="121.6" height="2" fill="url(#g20)" shape-rendering="crispEdges"/>
<rect x="393.4" y="55" width="121.6" height="2" fill="url(#g21)" shape-rendering="crispEdges"/>
<rect x="393.4" y="57" width="121.6" height="2" fill="url(#g22)" shape-rendering="crispEdges"/>
<rect x="393.4" y="59" width="121.6" height="2" fill="url(#g23)" shape-rendering="crispEdges"/>
<rect x="393.4" y="61" width="121.6" height="2" fill="url(#g24)" shape-rendering="crispEdges"/>
<rect x="393.4" y="63" width="121.6" height="2" fill="url(#g25)" shape-rendering="crispEdges"/>
<rect x="393.4" y="65" width="121.6" height="2" fill="url(#g26)" shape-rendering="crispEdges"/>
<rect x="393.4" y="67" width="121.6" height="2" fill="url(#g27)" shape-rendering="crispEdges"/>
<rect x="393.4" y="69" width="121.6" height="2" fill="url(#g28)" shape-rendering="crispEdges"/>
<rect x="393.4" y="71" width="121.6" height="2" fill="url(#g29)" shape-rendering="crispEdges"/>
<rect x="393.4" y="73" width="121.6" height="2" fill="url(#g30)" shape-rendering="crispEdges"/>
<rect x="393.4" y="75" width="121.6" height="2" fill="url(#g31)" shape-rendering="crispEdges"/>
<rect x="393.4" y="77" width="121.6" height="2" fill="url(#g32)" shape-rendering="crispEdges"/>
<rect x="393.4" y="79" width="121.6" height="2" fill="url(#g33)" shape-rendering="crispEdges"/>
<rect x="393.4" y="81" width="121.6" height="2" fill="url(#g34)" shape-rendering="crispEdges"/>
<rect x="393.4" y="83" width="121.6" height="2" fill="url(#g35)" shape-rendering="crispEdges"/>
<rect x="393.4" y="85" width="121.6" height="2" fill="url(#g36)" shape-rendering="crispEdges"/>
<rect x="393.4" y="87" width="121.6" height="2" fill="url(#g37)" shape-rendering="crispEdges"/>
<rect x="393.4" y="89" width="121.6" height="2" fill="url(#g38)" shape-rendering="crispEdges"/>
<rect x="393.4" y="91" width="121.6" height="2" fill="url(#g39)" shape-rendering="crispEdges"/>
<rect x="393.4" y="93" width="121.6" height="2" fill="url(#g40)" shape-rendering="crispEdges"/>
<rect x="393.4" y="95" width="121.6" height="2" fill="url(#g41)" shape-rendering="crispEdges"/>
<rect x="393.4" y="97" width="121.6" height="2" fill="url(#g42)" shape-rendering="crispEdges"/>
<rect x="393.4" y="99" width="121.6" height="2" fill="url(#g43)" shape-rendering="crispEdges"/>
<rect x="393.4" y="101" width="121.6" height="2" fill="url(#g44)" shape-rendering="crispEdges"/>
<rect x="393.4" y="103" width="121.6" height="2" fill="url(#g45)" shape-rendering="crispEdges"/>
<rect x="393.4" y="105" width="121.6" height="2" fill="url(#g46)" shape-rendering="crispEdges"/>
<rect x="393.4" y="107" width="121.6" height="2" fill="url(#g47)" shape-rendering="crispEdges"/>
<rect x="393.4" y="109" width="121.6" height="2" fill="url(#g48)" shape-rendering="crispEdges"/>
<rect x="393.4" y="111" width="121.6" height="2" fill="url(#g49)" shape-rendering="crispEdges"/>
<rect x="393.4" y="113" width="121.6" height="2" fill="url(#g50)" shape-rendering="crispEdges"/>
<rect x="393.4" y="115" width="121.6" height="2" fill="url(#g51)" shape-rendering="crispEdges"/>
<rect x="393.4" y="117" width="121.6" height="2" fill="url(#g52)" shape-rendering="crispEdges"/>
<rect x="393.4" y="119" width="121.6" height="2" fill="url(#g53)" shape-rendering="crispEdges"/>
<rect x="393.4" y="121" width="121.6" height="2" fill="url(#g54)" shape-rendering="crispEdges"/>
<rect x="393.4" y="123" width="121.6" height="2" fill="url(#g55)" shape-rendering="crispEdges"/>
<rect x="393.4" y="125" width="121.6" height="2" fill="url(#g56)" shape-rendering="crispEdges"/>
<rect x="393.4" y="127" width="121.6" height="2" fill="url(#g57)" shape-rendering="crispEdges"/>
<rect x="393.4" y="129" width="121.6" height="2" fill="url(#g58)" shape-rendering="crispEdges"/>
<rect x="393.4" y="131" width="121.6" height="2" fill="url(#g59)" shape-rendering="crispEdges"/>
<rect x="393.4" y="133" width="121.6" height="2" fill="url(#g60)" shape-rendering="crispEdges"/>
<rect x="393.4" y="135" width="121.6" height="2" fill="url(#g61)" shape-rendering="crispEdges"/>
<rect x="453.8" y="0.5" width="61.7" height="12" fill="url(#g62)" stroke="#000" stroke-width="1.1" />
<text x="457" y="10.1" font-size="8.8" text-anchor="start" font-weight="normal" fill="#d8f0ff" stroke="#d8f0ff" stroke-width="0.35" >0</text>
<text x="473.3" y="10.1" font-size="8.8" text-anchor="start" font-weight="normal" fill="#f0eeff" stroke="#f0eeff" stroke-width="0.35" >I (pA)</text>
<text x="513" y="10.1" font-size="8.8" text-anchor="end" font-weight="normal" fill="#fff0c0" stroke="#fff0c0" stroke-width="0.35" >30</text>
<rect x="393.4" y="15.3" width="121.6" height="121.9" fill="none" stroke="#000" stroke-width="0.9" />
<line x1="393.4" y1="137.2" x2="393.4" y2="134.7" stroke="#000" stroke-width="1" />
<line x1="393.4" y1="15.3" x2="393.4" y2="17.8" stroke="#000" stroke-width="1" />
<text x="394.4" y="148" font-size="9.2" text-anchor="middle" font-weight="normal" fill="#000" stroke="#000" stroke-width="0.35" >-10</text>
<line x1="423.8" y1="137.2" x2="423.8" y2="134.7" stroke="#000" stroke-width="1" />
<line x1="423.8" y1="15.3" x2="423.8" y2="17.8" stroke="#000" stroke-width="1" />
<text x="424.8" y="148" font-size="9.2" text-anchor="middle" font-weight="normal" fill="#000" stroke="#000" stroke-width="0.35" >-5</text>
<line x1="454.2" y1="137.2" x2="454.2" y2="134.7" stroke="#000" stroke-width="1" />
<line x1="454.2" y1="15.3" x2="454.2" y2="17.8" stroke="#000" stroke-width="1" />
<text x="455.2" y="148" font-size="9.2" text-anchor="middle" font-weight="normal" fill="#000" stroke="#000" stroke-width="0.35" >0</text>
<line x1="484.6" y1="137.2" x2="484.6" y2="134.7" stroke="#000" stroke-width="1" />
<line x1="484.6" y1="15.3" x2="484.6" y2="17.8" stroke="#000" stroke-width="1" />
<text x="485.6" y="148" font-size="9.2" text-anchor="middle" font-weight="normal" fill="#000" stroke="#000" stroke-width="0.35" >5</text>
<line x1="515" y1="137.2" x2="515" y2="134.7" stroke="#000" stroke-width="1" />
<line x1="515" y1="15.3" x2="515" y2="17.8" stroke="#000" stroke-width="1" />
<text x="516" y="148" font-size="9.2" text-anchor="middle" font-weight="normal" fill="#000" stroke="#000" stroke-width="0.35" >10</text>
<line x1="393.4" y1="137.2" x2="395.9" y2="137.2" stroke="#000" stroke-width="1" />
<line x1="515" y1="137.2" x2="512.5" y2="137.2" stroke="#000" stroke-width="1" />
<text x="389.9" y="140.4" font-size="9.2" text-anchor="end" font-weight="normal" fill="#000" stroke="#000" stroke-width="0.35" >-4</text>
<line x1="393.4" y1="106.72" x2="395.9" y2="106.72" stroke="#000" stroke-width="1" />
<line x1="515" y1="106.72" x2="512.5" y2="106.72" stroke="#000" stroke-width="1" />
<text x="389.9" y="109.92" font-size="9.2" text-anchor="end" font-weight="normal" fill="#000" stroke="#000" stroke-width="0.35" >-2</text>
<line x1="393.4" y1="76.25" x2="395.9" y2="76.25" stroke="#000" stroke-width="1" />
<line x1="515" y1="76.25" x2="512.5" y2="76.25" stroke="#000" stroke-width="1" />
<text x="389.9" y="79.45" font-size="9.2" text-anchor="end" font-weight="normal" fill="#000" stroke="#000" stroke-width="0.35" >0</text>
<line x1="393.4" y1="45.77" x2="395.9" y2="45.77" stroke="#000" stroke-width="1" />
<line x1="515" y1="45.77" x2="512.5" y2="45.77" stroke="#000" stroke-width="1" />
<text x="389.9" y="48.98" font-size="9.2" text-anchor="end" font-weight="normal" fill="#000" stroke="#000" stroke-width="0.35" >2</text>
<line x1="393.4" y1="15.3" x2="395.9" y2="15.3" stroke="#000" stroke-width="1" />
<line x1="515" y1="15.3" x2="512.5" y2="15.3" stroke="#000" stroke-width="1" />
<text x="389.9" y="18.5" font-size="9.2" text-anchor="end" font-weight="normal" fill="#000" stroke="#000" stroke-width="0.35" >4</text>
<text x="454.2" y="168.6" font-size="10" text-anchor="middle" font-weight="normal" fill="#000" stroke="#000" stroke-width="0.35" >Time (ps)</text>
<text x="355.5" y="20.2" font-size="10.5" text-anchor="start" font-weight="normal" fill="#000" stroke="#000" stroke-width="0.35" >(d)</text>
<g transform="rotate(-90 367.5 90.6)">
<text x="367.5" y="90.6" font-size="9.2" text-anchor="start" font-weight="normal" fill="#000" stroke="#000" stroke-width="0.35" >V</text>
<text x="373.7" y="93.2" font-size="6.2" text-anchor="start" font-weight="normal" fill="#000" stroke="#000" stroke-width="0.22" >g</text>
<text x="380.5" y="90.6" font-size="9.2" text-anchor="start" font-weight="normal" fill="#000" stroke="#000" stroke-width="0.35" >(V)</text>
</g>
<polyline points="35.8,317.2 38,316.5 40,317.6 42,316.2 44,317.2 46,316 48,317 50,316.3 52,317.4 54,316.8 56,315.2 57,314.8 58.5,315.8 60,316.6 62,315.8 64,316.6 66,316 68,316.8 70,316.2 72,316.9 74,316.3 76,317 78,316.6 80,316.6 82,317.2 84.2,317.6 86,316.6 88,314.5 90,311.5 91.8,309.4 93,310.8 94.5,312.5 96,313.3 98,313 100,314.1 102,314.6 104,314 106,315.2 108,315.8 110,316.5 112,315.6 114,316.8 116,315.8 118,316.6 120,316 122,316.8 124,315.8 126,316.6 128,315.6 130,315 132,314.4 133,314.5 134.5,315.8 136,316.8 138,316.2 140,317.5 142,316.6 144,317.2 146,316.2 148,316.8 150,316.5 152,317.4 154,317 155.5,318.2 157,318.5" fill="none" stroke="#d03535" stroke-width="1.3" stroke-linejoin="round" />
<polyline points="35.8,315.5 38,314.5 40.1,313.3 42,312.6 43.5,311.5 45.2,310.8 46.5,312.4 48,311.8 49.3,310.6 50.5,312.3 52,312.5 54.5,309.5 57,306.5 58.5,306.8 60,305.5 62.1,304 64,302.8 65.5,301.5 67,300.5 68.9,298 70.5,297.2 72,294.5 74,292.5 75.7,290.4 77,288.5 78.2,285.5 79.9,281.1 81.3,282.5 82.5,279 83.5,275 84.7,272.5 85.8,268.4 86.7,264.3 87.5,257 88.2,249 89,241 89.6,234.6 90.4,228 91.2,223 92,219.3 93,216.6 94,215.9 95,216.6 96,218.3 97,221.5 98,226 99,231.5 99.5,234.6 101,241 102.5,246.5 104.5,254.5 105.5,258.5 106.4,262.3 107.5,267 108.5,271.5 109.4,274.4 110.5,276 111.5,277.2 112.5,279.5 113.8,281.6 115.5,283.2 117,284.5 118.3,286.3 120,287.2 121.5,288.2 123,289.6 124.8,291.2 126.5,290.6 128,291.8 129.4,292.4 131,292.6 132.5,294 134,295 135.5,294.6 137,296.4 138.5,297.6 140,298.5 141.5,298.8 143,300.6 144.5,301.2 145.9,302.2 147.5,302 149,303.4 150.5,303.2 152.3,304 153.5,305.8 154.8,305.2 156,307.5 157,308.3" fill="none" stroke="#2828b8" stroke-width="1.3" stroke-linejoin="round" />
<rect x="35.8" y="199.9" width="121.2" height="121.1" fill="none" stroke="#000" stroke-width="1.0" />
<line x1="36.4" y1="321" x2="36.4" y2="318" stroke="#000" stroke-width="1" />
<line x1="36.4" y1="199.9" x2="36.4" y2="202.9" stroke="#000" stroke-width="1" />
<text x="36.4" y="333.2" font-size="9.5" text-anchor="middle" font-weight="normal" fill="#000" stroke="#000" stroke-width="0.35" >-10</text>
<line x1="66.35" y1="321" x2="66.35" y2="318" stroke="#000" stroke-width="1" />
<line x1="66.35" y1="199.9" x2="66.35" y2="202.9" stroke="#000" stroke-width="1" />
<text x="66.35" y="333.2" font-size="9.5" text-anchor="middle" font-weight="normal" fill="#000" stroke="#000" stroke-width="0.35" >-5</text>
<line x1="96.3" y1="321" x2="96.3" y2="318" stroke="#000" stroke-width="1" />
<line x1="96.3" y1="199.9" x2="96.3" y2="202.9" stroke="#000" stroke-width="1" />
<text x="96.3" y="333.2" font-size="9.5" text-anchor="middle" font-weight="normal" fill="#000" stroke="#000" stroke-width="0.35" >0</text>
<line x1="126.25" y1="321" x2="126.25" y2="318" stroke="#000" stroke-width="1" />
<line x1="126.25" y1="199.9" x2="126.25" y2="202.9" stroke="#000" stroke-width="1" />
<text x="126.25" y="333.2" font-size="9.5" text-anchor="middle" font-weight="normal" fill="#000" stroke="#000" stroke-width="0.35" >5</text>
<line x1="156.2" y1="321" x2="156.2" y2="318" stroke="#000" stroke-width="1" />
<line x1="156.2" y1="199.9" x2="156.2" y2="202.9" stroke="#000" stroke-width="1" />
<text x="156.2" y="333.2" font-size="9.5" text-anchor="middle" font-weight="normal" fill="#000" stroke="#000" stroke-width="0.35" >10</text>
<line x1="35.8" y1="316.5" x2="38.8" y2="316.5" stroke="#000" stroke-width="1" />
<line x1="157" y1="316.5" x2="154" y2="316.5" stroke="#000" stroke-width="1" />
<text x="31.7" y="319.8" font-size="9.5" text-anchor="end" font-weight="normal" fill="#000" stroke="#000" stroke-width="0.35" >0</text>
<line x1="35.8" y1="290.4" x2="38.8" y2="290.4" stroke="#000" stroke-width="1" />
<line x1="157" y1="290.4" x2="154" y2="290.4" stroke="#000" stroke-width="1" />
<text x="31.7" y="293.7" font-size="9.5" text-anchor="end" font-weight="normal" fill="#000" stroke="#000" stroke-width="0.35" >5</text>
<line x1="35.8" y1="264.3" x2="38.8" y2="264.3" stroke="#000" stroke-width="1" />
<line x1="157" y1="264.3" x2="154" y2="264.3" stroke="#000" stroke-width="1" />
<text x="31.7" y="267.6" font-size="9.5" text-anchor="end" font-weight="normal" fill="#000" stroke="#000" stroke-width="0.35" >10</text>
<line x1="35.8" y1="238.2" x2="38.8" y2="238.2" stroke="#000" stroke-width="1" />
<line x1="157" y1="238.2" x2="154" y2="238.2" stroke="#000" stroke-width="1" />
<text x="31.7" y="241.5" font-size="9.5" text-anchor="end" font-weight="normal" fill="#000" stroke="#000" stroke-width="0.35" >15</text>
<line x1="35.8" y1="212.1" x2="38.8" y2="212.1" stroke="#000" stroke-width="1" />
<line x1="157" y1="212.1" x2="154" y2="212.1" stroke="#000" stroke-width="1" />
<text x="31.7" y="215.4" font-size="9.5" text-anchor="end" font-weight="normal" fill="#000" stroke="#000" stroke-width="0.35" >20</text>
<text x="98.2" y="351.4" font-size="10" text-anchor="middle" font-weight="normal" fill="#000" stroke="#000" stroke-width="0.35" >Time (ps)</text>
<text x="9" y="262" font-size="10" text-anchor="middle" font-weight="normal" fill="#000" stroke="#000" stroke-width="0.35" transform="rotate(-90 9 262)">I (pA)</text>
<text x="0" y="198.3" font-size="10.5" text-anchor="start" font-weight="normal" fill="#000" stroke="#000" stroke-width="0.35" >(e)</text>
<text x="37.2" y="194.9" font-size="9.9" text-anchor="start" font-weight="bold" fill="#000" stroke="#000" stroke-width="0.3" >77 K</text>
<line x1="38.5" y1="214.6" x2="46.6" y2="214.6" stroke="#2828b8" stroke-width="1.1" />
<line x1="38.5" y1="223.8" x2="46.6" y2="223.8" stroke="#d03535" stroke-width="1.1" />
<text x="49.5" y="217.6" font-size="8.6" text-anchor="start" font-weight="normal" fill="#000" stroke="#000" stroke-width="0.35" >V</text>
<text x="56.1" y="219.6" font-size="6.0" text-anchor="start" font-weight="normal" fill="#000" stroke="#000" stroke-width="0.22" >g</text>
<text x="63.1" y="217.4" font-size="7.4" text-anchor="start" font-weight="normal" fill="#000" stroke="#000" stroke-width="0.35" >=</text>
<text x="70.1" y="217.6" font-size="8.2" text-anchor="start" font-weight="normal" fill="#000" stroke="#000" stroke-width="0.35" >-4 V</text>
<text x="49.5" y="226.4" font-size="8.6" text-anchor="start" font-weight="normal" fill="#000" stroke="#000" stroke-width="0.35" >V</text>
<text x="56.1" y="228.4" font-size="6.0" text-anchor="start" font-weight="normal" fill="#000" stroke="#000" stroke-width="0.22" >g</text>
<text x="63.1" y="226.2" font-size="7.4" text-anchor="start" font-weight="normal" fill="#000" stroke="#000" stroke-width="0.35" >=</text>
<text x="70.1" y="226.4" font-size="8.2" text-anchor="start" font-weight="normal" fill="#000" stroke="#000" stroke-width="0.35" >4 V</text>
<rect x="107" y="178" width="76" height="71.5" fill="white" stroke="none" stroke-width="1" />
<polyline points="137.3,191.01 139.56,194.67 141.73,197.41 143.26,200.08 145.52,202.56 147.78,204.5 149.99,205.35 152.21,207.87 154.47,210.28 155.96,213.32 157.45,211.31 158.94,215.62 160.43,217.99 161.92,219.69 163.41,223.41 164.91,217.92 166.4,221.15 167.93,223.42 169.38,225.42 170.87,222.69 172.36,220.93 173.85,219.04 175.34,218.16 176.83,220.25" fill="none" stroke="#2828b8" stroke-width="1.4" stroke-linejoin="round" />
<circle cx="137.3" cy="191.01" r="1.45" fill="#2828b8"/>
<circle cx="139.56" cy="194.67" r="1.45" fill="#2828b8"/>
<circle cx="141.73" cy="197.41" r="1.45" fill="#2828b8"/>
<circle cx="143.26" cy="200.08" r="1.45" fill="#2828b8"/>
<circle cx="145.52" cy="202.56" r="1.45" fill="#2828b8"/>
<circle cx="147.78" cy="204.5" r="1.45" fill="#2828b8"/>
<circle cx="149.99" cy="205.35" r="1.45" fill="#2828b8"/>
<circle cx="152.21" cy="207.87" r="1.45" fill="#2828b8"/>
<circle cx="154.47" cy="210.28" r="1.45" fill="#2828b8"/>
<circle cx="155.96" cy="213.32" r="1.45" fill="#2828b8"/>
<circle cx="157.45" cy="211.31" r="1.45" fill="#2828b8"/>
<circle cx="158.94" cy="215.62" r="1.45" fill="#2828b8"/>
<circle cx="160.43" cy="217.99" r="1.45" fill="#2828b8"/>
<circle cx="161.92" cy="219.69" r="1.45" fill="#2828b8"/>
<circle cx="163.41" cy="223.41" r="1.45" fill="#2828b8"/>
<circle cx="164.91" cy="217.92" r="1.45" fill="#2828b8"/>
<circle cx="166.4" cy="221.15" r="1.45" fill="#2828b8"/>
<circle cx="167.93" cy="223.42" r="1.45" fill="#2828b8"/>
<circle cx="169.38" cy="225.42" r="1.45" fill="#2828b8"/>
<circle cx="170.87" cy="222.69" r="1.45" fill="#2828b8"/>
<circle cx="172.36" cy="220.93" r="1.45" fill="#2828b8"/>
<circle cx="173.85" cy="219.04" r="1.45" fill="#2828b8"/>
<circle cx="175.34" cy="218.16" r="1.45" fill="#2828b8"/>
<circle cx="176.83" cy="220.25" r="1.45" fill="#2828b8"/>
<polyline points="137.3,217.55 138.79,212.67 140,208 141.05,211.67 142.54,210.31 144.03,209.33 145.52,211.19 146.97,212.27 148.5,212.42 149.99,212.41 152.21,213.22 154.47,215.07 156.64,215.38 158.94,216.4 161.2,215.28 163.41,216.74 165.67,218.31 167.93,218.8 169.38,217.11 170.87,214.82 172.36,218.87 174.62,221.11 176.83,223.43" fill="none" stroke="#d03535" stroke-width="1.4" stroke-linejoin="round" />
<circle cx="137.3" cy="217.55" r="1.45" fill="#d03535"/>
<circle cx="138.79" cy="212.67" r="1.45" fill="#d03535"/>
<circle cx="140" cy="208" r="1.45" fill="#d03535"/>
<circle cx="141.05" cy="211.67" r="1.45" fill="#d03535"/>
<circle cx="142.54" cy="210.31" r="1.45" fill="#d03535"/>
<circle cx="144.03" cy="209.33" r="1.45" fill="#d03535"/>
<circle cx="145.52" cy="211.19" r="1.45" fill="#d03535"/>
<circle cx="146.97" cy="212.27" r="1.45" fill="#d03535"/>
<circle cx="148.5" cy="212.42" r="1.45" fill="#d03535"/>
<circle cx="149.99" cy="212.41" r="1.45" fill="#d03535"/>
<circle cx="152.21" cy="213.22" r="1.45" fill="#d03535"/>
<circle cx="154.47" cy="215.07" r="1.45" fill="#d03535"/>
<circle cx="156.64" cy="215.38" r="1.45" fill="#d03535"/>
<circle cx="158.94" cy="216.4" r="1.45" fill="#d03535"/>
<circle cx="161.2" cy="215.28" r="1.45" fill="#d03535"/>
<circle cx="163.41" cy="216.74" r="1.45" fill="#d03535"/>
<circle cx="165.67" cy="218.31" r="1.45" fill="#d03535"/>
<circle cx="167.93" cy="218.8" r="1.45" fill="#d03535"/>
<circle cx="169.38" cy="217.11" r="1.45" fill="#d03535"/>
<circle cx="170.87" cy="214.82" r="1.45" fill="#d03535"/>
<circle cx="172.36" cy="218.87" r="1.45" fill="#d03535"/>
<circle cx="174.62" cy="221.11" r="1.45" fill="#d03535"/>
<circle cx="176.83" cy="223.43" r="1.45" fill="#d03535"/>
<rect x="134.4" y="184.9" width="45.2" height="44.6" fill="none" stroke="#000" stroke-width="0.9" />
<line x1="137.3" y1="229.5" x2="137.3" y2="227.5" stroke="#000" stroke-width="0.8" />
<line x1="137.3" y1="184.9" x2="137.3" y2="186.9" stroke="#000" stroke-width="0.8" />
<text x="137.3" y="237.3" font-size="6.5" text-anchor="middle" font-weight="normal" fill="#000" stroke="#000" stroke-width="0.22" >0</text>
<line x1="157.45" y1="229.5" x2="157.45" y2="227.5" stroke="#000" stroke-width="0.8" />
<line x1="157.45" y1="184.9" x2="157.45" y2="186.9" stroke="#000" stroke-width="0.8" />
<text x="157.45" y="237.3" font-size="6.5" text-anchor="middle" font-weight="normal" fill="#000" stroke="#000" stroke-width="0.22" >0.5</text>
<line x1="177.6" y1="229.5" x2="177.6" y2="227.5" stroke="#000" stroke-width="0.8" />
<line x1="177.6" y1="184.9" x2="177.6" y2="186.9" stroke="#000" stroke-width="0.8" />
<text x="177.6" y="237.3" font-size="6.5" text-anchor="middle" font-weight="normal" fill="#000" stroke="#000" stroke-width="0.22" >1.0</text>
<line x1="134.4" y1="187.2" x2="136.4" y2="187.2" stroke="#000" stroke-width="0.8" />
<line x1="179.6" y1="187.2" x2="177.6" y2="187.2" stroke="#000" stroke-width="0.8" />
<text x="130.2" y="189.6" font-size="6.9" text-anchor="end" font-weight="normal" fill="#000" stroke="#000" stroke-width="0.22" >10<tspan font-size="4.6" dy="-3.2">0</tspan></text>
<line x1="134.4" y1="199.65" x2="136.4" y2="199.65" stroke="#000" stroke-width="0.8" />
<line x1="179.6" y1="199.65" x2="177.6" y2="199.65" stroke="#000" stroke-width="0.8" />
<text x="130.2" y="202.05" font-size="6.9" text-anchor="end" font-weight="normal" fill="#000" stroke="#000" stroke-width="0.22" >10<tspan font-size="4.6" dy="-3.2">-1</tspan></text>
<line x1="134.4" y1="212.1" x2="136.4" y2="212.1" stroke="#000" stroke-width="0.8" />
<line x1="179.6" y1="212.1" x2="177.6" y2="212.1" stroke="#000" stroke-width="0.8" />
<text x="130.2" y="214.5" font-size="6.9" text-anchor="end" font-weight="normal" fill="#000" stroke="#000" stroke-width="0.22" >10<tspan font-size="4.6" dy="-3.2">-2</tspan></text>
<line x1="134.4" y1="224.55" x2="136.4" y2="224.55" stroke="#000" stroke-width="0.8" />
<line x1="179.6" y1="224.55" x2="177.6" y2="224.55" stroke="#000" stroke-width="0.8" />
<text x="130.2" y="226.95" font-size="6.9" text-anchor="end" font-weight="normal" fill="#000" stroke="#000" stroke-width="0.22" >10<tspan font-size="4.6" dy="-3.2">-3</tspan></text>
<text x="157.45" y="245.7" font-size="6.7" text-anchor="middle" font-weight="normal" fill="#000" stroke="#000" stroke-width="0.22" >F (THz)</text>
<text x="114" y="207.2" font-size="6.3" text-anchor="middle" font-weight="normal" fill="#000" stroke="#000" stroke-width="0.22" transform="rotate(-90 114 207.2)">Amplitude (a.u.)</text>
<rect x="224" y="262.2" width="48.7" height="58.8" fill="#d2d2d2" stroke="none" stroke-width="1" />
<polyline points="227.2,272.7 227.5,272.88 227.8,273.07 228.1,273.25 228.4,273.44 228.7,273.62 229,273.81 229.3,273.99 229.6,274.18 229.9,274.36 230.2,274.55 230.5,274.73 230.8,274.92 231.1,275.1 231.4,275.28 231.7,275.47 232,275.65 232.3,275.84 232.6,276.02 232.9,276.21 233.2,276.39 233.5,276.58 233.8,276.76 234.1,276.95 234.4,277.13 234.7,277.32 235,277.5 235.3,277.7 235.6,277.91 235.9,278.11 236.2,278.32 236.5,278.52 236.8,278.73 237.1,278.93 237.4,279.14 237.7,279.34 238,279.54 238.3,279.75 238.6,279.95 238.9,280.16 239.2,280.36 239.5,280.57 239.8,280.77 240.1,280.98 240.4,281.18 240.7,281.38 241,281.59 241.3,281.79 241.6,282 241.9,282.2 242.2,282.41 242.5,282.61 242.8,282.82 243.1,283.02 243.4,283.22 243.7,283.43 244,283.63 244.3,283.84 244.6,284.04 244.9,284.25 245.2,284.45 245.5,284.65 245.8,284.86 246.1,285.06 246.4,285.26 246.7,285.44 247,285.63 247.3,285.81 247.6,285.99 247.9,286.17 248.2,286.36 248.5,286.54 248.8,286.72 249.1,286.91 249.4,287.09 249.7,287.27 250,287.45 250.3,287.64 250.6,287.82 250.9,288 251.2,288.19 251.5,288.37 251.8,288.55 252.1,288.73 252.4,288.92 252.7,289.1 253,289.28 253.3,289.46 253.6,289.65 253.9,289.83 254.2,290.01 254.5,290.2 254.8,290.38 255.1,290.56 255.4,290.73 255.7,290.9 256,291.08 256.3,291.25 256.6,291.42 256.9,291.59 257.2,291.77 257.5,291.94 257.8,292.11 258.1,292.28 258.4,292.46 258.7,292.63 259,292.8 259.3,292.91 259.6,293.03 259.9,293.14 260.2,293.25 260.5,293.36 260.8,293.48 261.1,293.59 261.4,293.7 261.7,293.81 262,293.93 262.3,293.99 262.6,293.97 262.9,293.94 263.2,293.91 263.5,293.89 263.8,293.86 264.1,293.83 264.4,293.81 264.7,293.62 265,293.35 265.3,293.08 265.6,292.81 265.9,292.54 266.2,292.27 266.5,292 266.8,291.25 267.1,290.5 267.4,289.75 267.7,289 268,288.25 268.3,287.5 268.6,286.53 268.9,285.13 269.2,283.73 269.5,282.33 269.8,280.93 270.1,279.31 270.4,277.23 270.7,275.15 271,273.08 271.3,271 271.6,269 271.9,267 272.2,265 272.5,264.1 272.8,263.2 273.1,264.6 273.4,266 273.7,270.5 274,275 274.3,282.5 274.6,290 274.9,294 275.2,298 275.5,302 275.8,303.65 276.1,305.3 276.4,306.95 276.7,307.97 277,308.67 277.3,309.37 277.6,310.07 277.9,310.77 278.2,311.18 278.5,311.44 278.8,311.7 279.1,311.96 279.4,312.23 279.7,312.49 280,312.75 280.3,313.01 280.6,313.28 280.9,313.54 281.2,313.8 281.5,313.91 281.8,314.02 282.1,314.13 282.4,314.24 282.7,314.35 283,314.46 283.3,314.57 283.6,314.68 283.9,314.79 284.2,314.91 284.5,315.02 284.8,315.13 285.1,315.22 285.4,315.28 285.7,315.34 286,315.4 286.3,315.46 286.6,315.52 286.9,315.58 287.2,315.64 287.5,315.7 287.8,315.76 288.1,315.82 288.4,315.88 288.7,315.94 289,316 289.3,316.06 289.6,316.12 289.9,316.18 290.2,316.22 290.5,316.25 290.8,316.28 291.1,316.31 291.4,316.34 291.7,316.37 292,316.4 292.3,316.43 292.6,316.46 292.9,316.49 293.2,316.52 293.5,316.55 293.8,316.58 294.1,316.61 294.4,316.64 294.7,316.67 295,316.7 295.3,316.73 295.6,316.76 295.9,316.79 296.2,316.82 296.5,316.85 296.8,316.88 297.1,316.91 297.4,316.94 297.7,316.97 298,317 298.3,317.03 298.6,317.06 298.9,317.09 299.2,317.12 299.5,317.15 299.8,317.18 300.1,317.21 300.4,317.23 300.7,317.26 301,317.28 301.3,317.3 301.6,317.33 301.9,317.35 302.2,317.38 302.5,317.4 302.8,317.42 303.1,317.45 303.4,317.47 303.7,317.5 304,317.52 304.3,317.54 304.6,317.57 304.9,317.59 305.2,317.62 305.5,317.64 305.8,317.66 306.1,317.69 306.4,317.71 306.7,317.74 307,317.76 307.3,317.78 307.6,317.81 307.9,317.83 308.2,317.86 308.5,317.88 308.8,317.9 309.1,317.93 309.4,317.95 309.7,317.98 310,318 310.3,318.02 310.6,318.04 310.9,318.06 311.2,318.08 311.5,318.11 311.8,318.13 312.1,318.15 312.4,318.17 312.7,318.19 313,318.21 313.3,318.23 313.6,318.25 313.9,318.27 314.2,318.29 314.5,318.32 314.8,318.34 315.1,318.36 315.4,318.38 315.7,318.4 316,318.42 316.3,318.44 316.6,318.46 316.9,318.48 317.2,318.5 317.5,318.53 317.8,318.55 318.1,318.57 318.4,318.59 318.7,318.61 319,318.63 319.3,318.65 319.6,318.67 319.9,318.69 320.2,318.71 320.5,318.73 320.8,318.75 321.1,318.77 321.4,318.78 321.7,318.8 322,318.82 322.3,318.84 322.6,318.85 322.9,318.87 323.2,318.89 323.5,318.91 323.8,318.92 324.1,318.94 324.4,318.96 324.7,318.98 325,319 325.3,319.01 325.6,319.03 325.9,319.05 326.2,319.07 326.5,319.08 326.8,319.1 327.1,319.12 327.4,319.14 327.7,319.16 328,319.17 328.3,319.19 328.6,319.21 328.9,319.23 329.2,319.24 329.5,319.26 329.8,319.28 330.1,319.3 330.4,319.32 330.7,319.33 331,319.35 331.3,319.37 331.6,319.39 331.9,319.4 332.2,319.42 332.5,319.44 332.8,319.46 333.1,319.48 333.4,319.49 333.7,319.51 334,319.53 334.3,319.55 334.6,319.56 334.9,319.58 335.2,319.6 335.5,319.62 335.8,319.63 336.1,319.65 336.4,319.67 336.7,319.69" fill="none" stroke="#000" stroke-width="1.2" stroke-linejoin="round" />
<circle cx="225.8" cy="209.16" r="1.6" fill="white" stroke="#222" stroke-width="0.75"/>
<circle cx="227.95" cy="209.61" r="1.6" fill="white" stroke="#222" stroke-width="0.75"/>
<circle cx="230.1" cy="209.45" r="1.6" fill="white" stroke="#222" stroke-width="0.75"/>
<circle cx="232.25" cy="209.42" r="1.6" fill="white" stroke="#222" stroke-width="0.75"/>
<circle cx="234.4" cy="208.23" r="1.6" fill="white" stroke="#222" stroke-width="0.75"/>
<circle cx="236.55" cy="208.04" r="1.6" fill="white" stroke="#222" stroke-width="0.75"/>
<circle cx="238.7" cy="207.66" r="1.6" fill="white" stroke="#222" stroke-width="0.75"/>
<circle cx="240.85" cy="207.47" r="1.6" fill="white" stroke="#222" stroke-width="0.75"/>
<circle cx="243" cy="207.83" r="1.6" fill="white" stroke="#222" stroke-width="0.75"/>
<circle cx="245.15" cy="207.36" r="1.6" fill="white" stroke="#222" stroke-width="0.75"/>
<circle cx="247.3" cy="208.27" r="1.6" fill="white" stroke="#222" stroke-width="0.75"/>
<circle cx="249.45" cy="208.04" r="1.6" fill="white" stroke="#222" stroke-width="0.75"/>
<circle cx="251.6" cy="207.84" r="1.6" fill="white" stroke="#222" stroke-width="0.75"/>
<circle cx="253.75" cy="207.63" r="1.6" fill="white" stroke="#222" stroke-width="0.75"/>
<circle cx="255.9" cy="207.98" r="1.6" fill="white" stroke="#222" stroke-width="0.75"/>
<circle cx="258.05" cy="207.99" r="1.6" fill="white" stroke="#222" stroke-width="0.75"/>
<circle cx="260.2" cy="207.53" r="1.6" fill="white" stroke="#222" stroke-width="0.75"/>
<circle cx="262.35" cy="208.82" r="1.6" fill="white" stroke="#222" stroke-width="0.75"/>
<circle cx="264.5" cy="210.15" r="1.6" fill="white" stroke="#222" stroke-width="0.75"/>
<circle cx="266.65" cy="212.85" r="1.6" fill="white" stroke="#222" stroke-width="0.75"/>
<circle cx="268.8" cy="214.5" r="1.6" fill="white" stroke="#222" stroke-width="0.75"/>
<circle cx="270.95" cy="216.08" r="1.6" fill="white" stroke="#222" stroke-width="0.75"/>
<circle cx="273.1" cy="217.41" r="1.6" fill="white" stroke="#222" stroke-width="0.75"/>
<circle cx="275.25" cy="218.57" r="1.6" fill="white" stroke="#222" stroke-width="0.75"/>
<circle cx="277.4" cy="220.1" r="1.6" fill="white" stroke="#222" stroke-width="0.75"/>
<circle cx="279.55" cy="221.37" r="1.6" fill="white" stroke="#222" stroke-width="0.75"/>
<circle cx="281.7" cy="222.12" r="1.6" fill="white" stroke="#222" stroke-width="0.75"/>
<circle cx="283.85" cy="224.36" r="1.6" fill="white" stroke="#222" stroke-width="0.75"/>
<circle cx="286" cy="227.75" r="1.6" fill="white" stroke="#222" stroke-width="0.75"/>
<circle cx="288.15" cy="230.51" r="1.6" fill="white" stroke="#222" stroke-width="0.75"/>
<circle cx="290.3" cy="231.66" r="1.6" fill="white" stroke="#222" stroke-width="0.75"/>
<circle cx="292.45" cy="233.44" r="1.6" fill="white" stroke="#222" stroke-width="0.75"/>
<circle cx="294.6" cy="235.25" r="1.6" fill="white" stroke="#222" stroke-width="0.75"/>
<circle cx="296.75" cy="236.93" r="1.6" fill="white" stroke="#222" stroke-width="0.75"/>
<circle cx="298.9" cy="238.28" r="1.6" fill="white" stroke="#222" stroke-width="0.75"/>
<circle cx="301.05" cy="239.36" r="1.6" fill="white" stroke="#222" stroke-width="0.75"/>
<circle cx="303.2" cy="241.61" r="1.6" fill="white" stroke="#222" stroke-width="0.75"/>
<circle cx="305.35" cy="242.77" r="1.6" fill="white" stroke="#222" stroke-width="0.75"/>
<circle cx="307.5" cy="244.38" r="1.6" fill="white" stroke="#222" stroke-width="0.75"/>
<circle cx="309.65" cy="245.34" r="1.6" fill="white" stroke="#222" stroke-width="0.75"/>
<circle cx="311.8" cy="246.26" r="1.6" fill="white" stroke="#222" stroke-width="0.75"/>
<circle cx="313.95" cy="247.65" r="1.6" fill="white" stroke="#222" stroke-width="0.75"/>
<circle cx="316.1" cy="247.96" r="1.6" fill="white" stroke="#222" stroke-width="0.75"/>
<circle cx="318.25" cy="249.9" r="1.6" fill="white" stroke="#222" stroke-width="0.75"/>
<circle cx="320.4" cy="250.87" r="1.6" fill="white" stroke="#222" stroke-width="0.75"/>
<circle cx="322.55" cy="251.67" r="1.6" fill="white" stroke="#222" stroke-width="0.75"/>
<circle cx="324.7" cy="251.86" r="1.6" fill="white" stroke="#222" stroke-width="0.75"/>
<circle cx="326.85" cy="252.48" r="1.6" fill="white" stroke="#222" stroke-width="0.75"/>
<circle cx="329" cy="252.35" r="1.6" fill="white" stroke="#222" stroke-width="0.75"/>
<circle cx="331.15" cy="253.34" r="1.6" fill="white" stroke="#222" stroke-width="0.75"/>
<circle cx="333.3" cy="254.24" r="1.6" fill="white" stroke="#222" stroke-width="0.75"/>
<circle cx="335.45" cy="254.6" r="1.6" fill="white" stroke="#222" stroke-width="0.75"/>
<circle cx="337.6" cy="254.88" r="1.6" fill="white" stroke="#222" stroke-width="0.75"/>
<circle cx="339.75" cy="256.82" r="1.6" fill="white" stroke="#222" stroke-width="0.75"/>
<line x1="224" y1="258.4" x2="340.5" y2="258.4" stroke="#000" stroke-width="0.9" stroke-dasharray="1,1.6"/>
<rect x="224" y="199.4" width="116.5" height="121.6" fill="none" stroke="#000" stroke-width="1.0" />
<line x1="224" y1="262.2" x2="340.5" y2="262.2" stroke="#000" stroke-width="1.0" />
<line x1="227.8" y1="321" x2="227.8" y2="318.5" stroke="#000" stroke-width="1" />
<line x1="227.8" y1="262.2" x2="227.8" y2="264.7" stroke="#000" stroke-width="1" />
<line x1="227.8" y1="262.2" x2="227.8" y2="259.7" stroke="#000" stroke-width="1" />
<line x1="227.8" y1="199.4" x2="227.8" y2="201.9" stroke="#000" stroke-width="1" />
<text x="227.8" y="333" font-size="9" text-anchor="middle" font-weight="normal" fill="#000" stroke="#000" stroke-width="0.35" >-4</text>
<line x1="255.1" y1="321" x2="255.1" y2="318.5" stroke="#000" stroke-width="1" />
<line x1="255.1" y1="262.2" x2="255.1" y2="264.7" stroke="#000" stroke-width="1" />
<line x1="255.1" y1="262.2" x2="255.1" y2="259.7" stroke="#000" stroke-width="1" />
<line x1="255.1" y1="199.4" x2="255.1" y2="201.9" stroke="#000" stroke-width="1" />
<text x="255.1" y="333" font-size="9" text-anchor="middle" font-weight="normal" fill="#000" stroke="#000" stroke-width="0.35" >-2</text>
<line x1="282.4" y1="321" x2="282.4" y2="318.5" stroke="#000" stroke-width="1" />
<line x1="282.4" y1="262.2" x2="282.4" y2="264.7" stroke="#000" stroke-width="1" />
<line x1="282.4" y1="262.2" x2="282.4" y2="259.7" stroke="#000" stroke-width="1" />
<line x1="282.4" y1="199.4" x2="282.4" y2="201.9" stroke="#000" stroke-width="1" />
<text x="282.4" y="333" font-size="9" text-anchor="middle" font-weight="normal" fill="#000" stroke="#000" stroke-width="0.35" >0</text>
<line x1="309.7" y1="321" x2="309.7" y2="318.5" stroke="#000" stroke-width="1" />
<line x1="309.7" y1="262.2" x2="309.7" y2="264.7" stroke="#000" stroke-width="1" />
<line x1="309.7" y1="262.2" x2="309.7" y2="259.7" stroke="#000" stroke-width="1" />
<line x1="309.7" y1="199.4" x2="309.7" y2="201.9" stroke="#000" stroke-width="1" />
<text x="309.7" y="333" font-size="9" text-anchor="middle" font-weight="normal" fill="#000" stroke="#000" stroke-width="0.35" >2</text>
<line x1="337" y1="321" x2="337" y2="318.5" stroke="#000" stroke-width="1" />
<line x1="337" y1="262.2" x2="337" y2="264.7" stroke="#000" stroke-width="1" />
<line x1="337" y1="262.2" x2="337" y2="259.7" stroke="#000" stroke-width="1" />
<line x1="337" y1="199.4" x2="337" y2="201.9" stroke="#000" stroke-width="1" />
<text x="337" y="333" font-size="9" text-anchor="middle" font-weight="normal" fill="#000" stroke="#000" stroke-width="0.35" >4</text>
<line x1="224" y1="258.4" x2="226.5" y2="258.4" stroke="#000" stroke-width="1" />
<line x1="340.5" y1="258.4" x2="338" y2="258.4" stroke="#000" stroke-width="1" />
<text x="220" y="261.6" font-size="9" text-anchor="end" font-weight="normal" fill="#000" stroke="#000" stroke-width="0.35" >0</text>
<line x1="224" y1="245.9" x2="226.5" y2="245.9" stroke="#000" stroke-width="1" />
<line x1="340.5" y1="245.9" x2="338" y2="245.9" stroke="#000" stroke-width="1" />
<text x="220" y="249.1" font-size="9" text-anchor="end" font-weight="normal" fill="#000" stroke="#000" stroke-width="0.35" >5</text>
<line x1="224" y1="233.4" x2="226.5" y2="233.4" stroke="#000" stroke-width="1" />
<line x1="340.5" y1="233.4" x2="338" y2="233.4" stroke="#000" stroke-width="1" />
<text x="220" y="236.6" font-size="9" text-anchor="end" font-weight="normal" fill="#000" stroke="#000" stroke-width="0.35" >10</text>
<line x1="224" y1="220.9" x2="226.5" y2="220.9" stroke="#000" stroke-width="1" />
<line x1="340.5" y1="220.9" x2="338" y2="220.9" stroke="#000" stroke-width="1" />
<text x="220" y="224.1" font-size="9" text-anchor="end" font-weight="normal" fill="#000" stroke="#000" stroke-width="0.35" >15</text>
<line x1="224" y1="208.4" x2="226.5" y2="208.4" stroke="#000" stroke-width="1" />
<line x1="340.5" y1="208.4" x2="338" y2="208.4" stroke="#000" stroke-width="1" />
<text x="220" y="211.6" font-size="9" text-anchor="end" font-weight="normal" fill="#000" stroke="#000" stroke-width="0.35" >20</text>
<line x1="224" y1="309.1" x2="226.5" y2="309.1" stroke="#000" stroke-width="1" />
<line x1="340.5" y1="309.1" x2="338" y2="309.1" stroke="#000" stroke-width="1" />
<text x="220" y="312.3" font-size="9" text-anchor="end" font-weight="normal" fill="#000" stroke="#000" stroke-width="0.35" >1.0</text>
<line x1="224" y1="289.85" x2="226.5" y2="289.85" stroke="#000" stroke-width="1" />
<line x1="340.5" y1="289.85" x2="338" y2="289.85" stroke="#000" stroke-width="1" />
<text x="220" y="293.05" font-size="9" text-anchor="end" font-weight="normal" fill="#000" stroke="#000" stroke-width="0.35" >1.5</text>
<line x1="224" y1="270.6" x2="226.5" y2="270.6" stroke="#000" stroke-width="1" />
<line x1="340.5" y1="270.6" x2="338" y2="270.6" stroke="#000" stroke-width="1" />
<text x="220" y="273.8" font-size="9" text-anchor="end" font-weight="normal" fill="#000" stroke="#000" stroke-width="0.35" >2.0</text>
<text x="337.5" y="272.5" font-size="8.6" text-anchor="middle" font-weight="normal" fill="#000" stroke="#000" stroke-width="0.35" >4</text>
<text x="199.5" y="229" font-size="9" text-anchor="middle" font-weight="normal" fill="#000" stroke="#000" stroke-width="0.35" transform="rotate(-90 199.5 229)">I (pA)</text>
<text x="199.5" y="291" font-size="9" text-anchor="middle" font-weight="normal" fill="#000" stroke="#000" stroke-width="0.35" transform="rotate(-90 199.5 291)">R (kΩ)</text>
<text x="186" y="199.7" font-size="10.5" text-anchor="start" font-weight="normal" fill="#000" stroke="#000" stroke-width="0.35" >(f)</text>
<text x="186" y="263.3" font-size="10.5" text-anchor="start" font-weight="normal" fill="#000" stroke="#000" stroke-width="0.35" >(g)</text>
<line x1="245.4" y1="214.4" x2="245.4" y2="253.4" stroke="#000" stroke-width="1.1" />
<path d="M243,219.2 L245.4,211.4 L247.8,219.2 L245.4,218 Z" fill="#000"/>
<path d="M243,248.6 L245.4,256.4 L247.8,248.6 L245.4,249.8 Z" fill="#000"/>
<text x="262" y="237" font-size="9.4" text-anchor="middle" font-weight="normal" fill="#000" stroke="#000" stroke-width="0.35" >95%</text>
<text x="246.3" y="308" font-size="9.5" text-anchor="middle" font-weight="bold" fill="#000" stroke="#000" stroke-width="0.3" >npn</text>
<text x="310.4" y="309" font-size="9.5" text-anchor="middle" font-weight="bold" fill="#000" stroke="#000" stroke-width="0.3" >nnn</text>
<text x="270.6" y="350.3" font-size="9.2" text-anchor="start" font-weight="normal" fill="#000" stroke="#000" stroke-width="0.35" >V</text>
<text x="276.8" y="352.9" font-size="6.2" text-anchor="start" font-weight="normal" fill="#000" stroke="#000" stroke-width="0.22" >g</text>
<text x="283.6" y="350.3" font-size="9.2" text-anchor="start" font-weight="normal" fill="#000" stroke="#000" stroke-width="0.35" >(V)</text>
<rect x="391.3" y="202" width="121.5" height="2" fill="url(#g63)" shape-rendering="crispEdges"/>
<rect x="391.3" y="204" width="121.5" height="2" fill="url(#g64)" shape-rendering="crispEdges"/>
<rect x="391.3" y="206" width="121.5" height="2" fill="url(#g65)" shape-rendering="crispEdges"/>
<rect x="391.3" y="208" width="121.5" height="2" fill="url(#g66)" shape-rendering="crispEdges"/>
<rect x="391.3" y="210" width="121.5" height="2" fill="url(#g67)" shape-rendering="crispEdges"/>
<rect x="391.3" y="212" width="121.5" height="2" fill="url(#g68)" shape-rendering="crispEdges"/>
<rect x="391.3" y="214" width="121.5" height="2" fill="url(#g69)" shape-rendering="crispEdges"/>
<rect x="391.3" y="216" width="121.5" height="2" fill="url(#g70)" shape-rendering="crispEdges"/>
<rect x="391.3" y="218" width="121.5" height="2" fill="url(#g71)" shape-rendering="crispEdges"/>
<rect x="391.3" y="220" width="121.5" height="2" fill="url(#g72)" shape-rendering="crispEdges"/>
<rect x="391.3" y="222" width="121.5" height="2" fill="url(#g73)" shape-rendering="crispEdges"/>
<rect x="391.3" y="224" width="121.5" height="2" fill="url(#g74)" shape-rendering="crispEdges"/>
<rect x="391.3" y="226" width="121.5" height="2" fill="url(#g75)" shape-rendering="crispEdges"/>
<rect x="391.3" y="228" width="121.5" height="2" fill="url(#g76)" shape-rendering="crispEdges"/>
<rect x="391.3" y="230" width="121.5" height="2" fill="url(#g77)" shape-rendering="crispEdges"/>
<rect x="391.3" y="232" width="121.5" height="2" fill="url(#g78)" shape-rendering="crispEdges"/>
<rect x="391.3" y="234" width="121.5" height="2" fill="url(#g79)" shape-rendering="crispEdges"/>
<rect x="391.3" y="236" width="121.5" height="2" fill="url(#g80)" shape-rendering="crispEdges"/>
<rect x="391.3" y="238" width="121.5" height="2" fill="url(#g81)" shape-rendering="crispEdges"/>
<rect x="391.3" y="240" width="121.5" height="2" fill="url(#g82)" shape-rendering="crispEdges"/>
<rect x="391.3" y="242" width="121.5" height="2" fill="url(#g83)" shape-rendering="crispEdges"/>
<rect x="391.3" y="244" width="121.5" height="2" fill="url(#g84)" shape-rendering="crispEdges"/>
<rect x="391.3" y="246" width="121.5" height="2" fill="url(#g85)" shape-rendering="crispEdges"/>
<rect x="391.3" y="248" width="121.5" height="2" fill="url(#g86)" shape-rendering="crispEdges"/>
<rect x="391.3" y="250" width="121.5" height="2" fill="url(#g87)" shape-rendering="crispEdges"/>
<rect x="391.3" y="252" width="121.5" height="2" fill="url(#g88)" shape-rendering="crispEdges"/>
<rect x="391.3" y="254" width="121.5" height="2" fill="url(#g89)" shape-rendering="crispEdges"/>
<rect x="391.3" y="256" width="121.5" height="2" fill="url(#g90)" shape-rendering="crispEdges"/>
<rect x="391.3" y="258" width="121.5" height="2" fill="url(#g91)" shape-rendering="crispEdges"/>
<rect x="391.3" y="260" width="121.5" height="2" fill="url(#g92)" shape-rendering="crispEdges"/>
<rect x="391.3" y="262" width="121.5" height="2" fill="url(#g93)" shape-rendering="crispEdges"/>
<rect x="391.3" y="264" width="121.5" height="2" fill="url(#g94)" shape-rendering="crispEdges"/>
<rect x="391.3" y="266" width="121.5" height="2" fill="url(#g95)" shape-rendering="crispEdges"/>
<rect x="391.3" y="268" width="121.5" height="2" fill="url(#g96)" shape-rendering="crispEdges"/>
<rect x="391.3" y="270" width="121.5" height="2" fill="url(#g97)" shape-rendering="crispEdges"/>
<rect x="391.3" y="272" width="121.5" height="2" fill="url(#g98)" shape-rendering="crispEdges"/>
<rect x="391.3" y="274" width="121.5" height="2" fill="url(#g99)" shape-rendering="crispEdges"/>
<rect x="391.3" y="276" width="121.5" height="2" fill="url(#g100)" shape-rendering="crispEdges"/>
<rect x="391.3" y="278" width="121.5" height="2" fill="url(#g101)" shape-rendering="crispEdges"/>
<rect x="391.3" y="280" width="121.5" height="2" fill="url(#g102)" shape-rendering="crispEdges"/>
<rect x="391.3" y="282" width="121.5" height="2" fill="url(#g103)" shape-rendering="crispEdges"/>
<rect x="391.3" y="284" width="121.5" height="2" fill="url(#g104)" shape-rendering="crispEdges"/>
<rect x="391.3" y="286" width="121.5" height="2" fill="url(#g105)" shape-rendering="crispEdges"/>
<rect x="391.3" y="288" width="121.5" height="2" fill="url(#g106)" shape-rendering="crispEdges"/>
<rect x="391.3" y="290" width="121.5" height="2" fill="url(#g107)" shape-rendering="crispEdges"/>
<rect x="391.3" y="292" width="121.5" height="2" fill="url(#g108)" shape-rendering="crispEdges"/>
<rect x="391.3" y="294" width="121.5" height="2" fill="url(#g109)" shape-rendering="crispEdges"/>
<rect x="391.3" y="296" width="121.5" height="2" fill="url(#g110)" shape-rendering="crispEdges"/>
<rect x="391.3" y="298" width="121.5" height="2" fill="url(#g111)" shape-rendering="crispEdges"/>
<rect x="391.3" y="300" width="121.5" height="2" fill="url(#g112)" shape-rendering="crispEdges"/>
<rect x="391.3" y="302" width="121.5" height="2" fill="url(#g113)" shape-rendering="crispEdges"/>
<rect x="391.3" y="304" width="121.5" height="2" fill="url(#g114)" shape-rendering="crispEdges"/>
<rect x="391.3" y="306" width="121.5" height="2" fill="url(#g115)" shape-rendering="crispEdges"/>
<rect x="391.3" y="308" width="121.5" height="2" fill="url(#g116)" shape-rendering="crispEdges"/>
<rect x="391.3" y="310" width="121.5" height="2" fill="url(#g117)" shape-rendering="crispEdges"/>
<rect x="391.3" y="312" width="121.5" height="2" fill="url(#g118)" shape-rendering="crispEdges"/>
<rect x="391.3" y="314" width="121.5" height="2" fill="url(#g119)" shape-rendering="crispEdges"/>
<rect x="391.3" y="316" width="121.5" height="2" fill="url(#g120)" shape-rendering="crispEdges"/>
<rect x="391.3" y="318" width="121.5" height="2" fill="url(#g121)" shape-rendering="crispEdges"/>
<rect x="391.3" y="320" width="121.5" height="2" fill="url(#g122)" shape-rendering="crispEdges"/>
<rect x="391.3" y="322" width="121.5" height="2" fill="url(#g123)" shape-rendering="crispEdges"/>
<rect x="451.6" y="188" width="62.4" height="12.7" fill="url(#g124)" stroke="#000" stroke-width="1.1" />
<text x="454.8" y="198.3" font-size="8.8" text-anchor="start" font-weight="normal" fill="#d8f0ff" stroke="#d8f0ff" stroke-width="0.35" >0</text>
<text x="471.1" y="198.3" font-size="8.8" text-anchor="start" font-weight="normal" fill="#f0eeff" stroke="#f0eeff" stroke-width="0.35" >I (pA)</text>
<text x="511.5" y="198.3" font-size="8.8" text-anchor="end" font-weight="normal" fill="#fff0c0" stroke="#fff0c0" stroke-width="0.35" >20</text>
<rect x="391.3" y="202.4" width="121.5" height="121.8" fill="none" stroke="#000" stroke-width="0.9" />
<line x1="391.3" y1="324.2" x2="391.3" y2="321.7" stroke="#000" stroke-width="1" />
<line x1="391.3" y1="202.4" x2="391.3" y2="204.9" stroke="#000" stroke-width="1" />
<text x="391.8" y="334.8" font-size="9.2" text-anchor="middle" font-weight="normal" fill="#000" stroke="#000" stroke-width="0.35" >-10</text>
<line x1="421.68" y1="324.2" x2="421.68" y2="321.7" stroke="#000" stroke-width="1" />
<line x1="421.68" y1="202.4" x2="421.68" y2="204.9" stroke="#000" stroke-width="1" />
<text x="422.18" y="334.8" font-size="9.2" text-anchor="middle" font-weight="normal" fill="#000" stroke="#000" stroke-width="0.35" >-5</text>
<line x1="452.05" y1="324.2" x2="452.05" y2="321.7" stroke="#000" stroke-width="1" />
<line x1="452.05" y1="202.4" x2="452.05" y2="204.9" stroke="#000" stroke-width="1" />
<text x="452.55" y="334.8" font-size="9.2" text-anchor="middle" font-weight="normal" fill="#000" stroke="#000" stroke-width="0.35" >0</text>
<line x1="482.42" y1="324.2" x2="482.42" y2="321.7" stroke="#000" stroke-width="1" />
<line x1="482.42" y1="202.4" x2="482.42" y2="204.9" stroke="#000" stroke-width="1" />
<text x="482.92" y="334.8" font-size="9.2" text-anchor="middle" font-weight="normal" fill="#000" stroke="#000" stroke-width="0.35" >5</text>
<line x1="512.8" y1="324.2" x2="512.8" y2="321.7" stroke="#000" stroke-width="1" />
<line x1="512.8" y1="202.4" x2="512.8" y2="204.9" stroke="#000" stroke-width="1" />
<text x="513.3" y="334.8" font-size="9.2" text-anchor="middle" font-weight="normal" fill="#000" stroke="#000" stroke-width="0.35" >10</text>
<line x1="391.3" y1="324.2" x2="393.8" y2="324.2" stroke="#000" stroke-width="1" />
<line x1="512.8" y1="324.2" x2="510.3" y2="324.2" stroke="#000" stroke-width="1" />
<text x="387.8" y="327.4" font-size="9.2" text-anchor="end" font-weight="normal" fill="#000" stroke="#000" stroke-width="0.35" >-4</text>
<line x1="391.3" y1="293.75" x2="393.8" y2="293.75" stroke="#000" stroke-width="1" />
<line x1="512.8" y1="293.75" x2="510.3" y2="293.75" stroke="#000" stroke-width="1" />
<text x="387.8" y="296.95" font-size="9.2" text-anchor="end" font-weight="normal" fill="#000" stroke="#000" stroke-width="0.35" >-2</text>
<line x1="391.3" y1="263.3" x2="393.8" y2="263.3" stroke="#000" stroke-width="1" />
<line x1="512.8" y1="263.3" x2="510.3" y2="263.3" stroke="#000" stroke-width="1" />
<text x="387.8" y="266.5" font-size="9.2" text-anchor="end" font-weight="normal" fill="#000" stroke="#000" stroke-width="0.35" >0</text>
<line x1="391.3" y1="232.85" x2="393.8" y2="232.85" stroke="#000" stroke-width="1" />
<line x1="512.8" y1="232.85" x2="510.3" y2="232.85" stroke="#000" stroke-width="1" />
<text x="387.8" y="236.05" font-size="9.2" text-anchor="end" font-weight="normal" fill="#000" stroke="#000" stroke-width="0.35" >2</text>
<line x1="391.3" y1="202.4" x2="393.8" y2="202.4" stroke="#000" stroke-width="1" />
<line x1="512.8" y1="202.4" x2="510.3" y2="202.4" stroke="#000" stroke-width="1" />
<text x="387.8" y="205.6" font-size="9.2" text-anchor="end" font-weight="normal" fill="#000" stroke="#000" stroke-width="0.35" >4</text>
<text x="452.05" y="351.4" font-size="10" text-anchor="middle" font-weight="normal" fill="#000" stroke="#000" stroke-width="0.35" >Time (ps)</text>
<text x="355.5" y="200" font-size="10.5" text-anchor="start" font-weight="normal" fill="#000" stroke="#000" stroke-width="0.35" >(h)</text>
<g transform="rotate(-90 367.3 278.1)">
<text x="367.3" y="278.1" font-size="9.2" text-anchor="start" font-weight="normal" fill="#000" stroke="#000" stroke-width="0.35" >V</text>
<text x="373.5" y="280.7" font-size="6.2" text-anchor="start" font-weight="normal" fill="#000" stroke="#000" stroke-width="0.22" >g</text>
<text x="380.3" y="278.1" font-size="9.2" text-anchor="start" font-weight="normal" fill="#000" stroke="#000" stroke-width="0.35" >(V)</text>
</g>
</svg></body></html>
